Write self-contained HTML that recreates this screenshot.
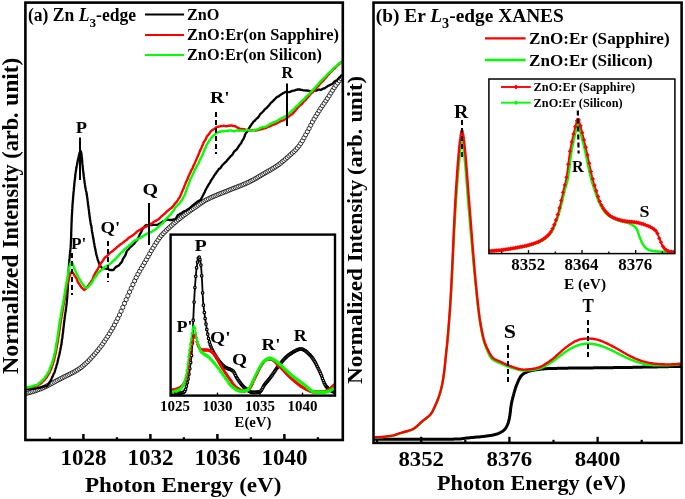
<!DOCTYPE html>
<html><head><meta charset="utf-8"><title>XANES</title>
<style>html,body{margin:0;padding:0;background:#fff}svg{display:block}text{font-family:"Liberation Serif",serif;font-weight:bold;fill:#000}</style>
</head><body>
<svg width="685" height="499" viewBox="0 0 685 499">
<rect x="0" y="0" width="685" height="499" fill="#fff"/>
<clipPath id="cpa"><rect x="25.4" y="2.6" width="317.4" height="437.4"/></clipPath>
<g clip-path="url(#cpa)">
<g fill="#fff" stroke="#000" stroke-width="0.8">
<circle cx="25.5" cy="393.5" r="2.1"/>
<circle cx="27.2" cy="393.1" r="2.1"/>
<circle cx="28.9" cy="392.6" r="2.1"/>
<circle cx="30.5" cy="392.2" r="2.1"/>
<circle cx="32.2" cy="391.7" r="2.1"/>
<circle cx="33.9" cy="391.1" r="2.1"/>
<circle cx="35.6" cy="390.6" r="2.1"/>
<circle cx="37.2" cy="390.0" r="2.1"/>
<circle cx="38.9" cy="389.4" r="2.1"/>
<circle cx="40.6" cy="388.8" r="2.1"/>
<circle cx="42.3" cy="388.1" r="2.1"/>
<circle cx="44.0" cy="387.4" r="2.1"/>
<circle cx="45.6" cy="386.6" r="2.1"/>
<circle cx="47.3" cy="385.7" r="2.1"/>
<circle cx="49.0" cy="384.9" r="2.1"/>
<circle cx="50.7" cy="384.0" r="2.1"/>
<circle cx="52.3" cy="383.1" r="2.1"/>
<circle cx="54.0" cy="382.2" r="2.1"/>
<circle cx="55.7" cy="381.3" r="2.1"/>
<circle cx="57.4" cy="380.4" r="2.1"/>
<circle cx="59.1" cy="379.5" r="2.1"/>
<circle cx="60.7" cy="378.6" r="2.1"/>
<circle cx="62.4" cy="377.8" r="2.1"/>
<circle cx="64.1" cy="376.9" r="2.1"/>
<circle cx="65.8" cy="376.1" r="2.1"/>
<circle cx="67.5" cy="375.3" r="2.1"/>
<circle cx="69.1" cy="374.5" r="2.1"/>
<circle cx="70.8" cy="373.6" r="2.1"/>
<circle cx="72.5" cy="372.8" r="2.1"/>
<circle cx="74.2" cy="371.9" r="2.1"/>
<circle cx="75.8" cy="370.9" r="2.1"/>
<circle cx="77.5" cy="369.9" r="2.1"/>
<circle cx="79.2" cy="368.8" r="2.1"/>
<circle cx="80.9" cy="367.6" r="2.1"/>
<circle cx="82.6" cy="366.2" r="2.1"/>
<circle cx="84.2" cy="364.8" r="2.1"/>
<circle cx="85.9" cy="363.3" r="2.1"/>
<circle cx="87.6" cy="361.7" r="2.1"/>
<circle cx="89.3" cy="360.0" r="2.1"/>
<circle cx="90.9" cy="358.2" r="2.1"/>
<circle cx="92.6" cy="356.4" r="2.1"/>
<circle cx="94.3" cy="354.5" r="2.1"/>
<circle cx="96.0" cy="352.5" r="2.1"/>
<circle cx="97.7" cy="350.5" r="2.1"/>
<circle cx="99.3" cy="348.4" r="2.1"/>
<circle cx="101.0" cy="346.2" r="2.1"/>
<circle cx="102.7" cy="343.9" r="2.1"/>
<circle cx="104.4" cy="341.5" r="2.1"/>
<circle cx="106.0" cy="339.0" r="2.1"/>
<circle cx="107.7" cy="336.4" r="2.1"/>
<circle cx="109.4" cy="333.7" r="2.1"/>
<circle cx="111.1" cy="330.9" r="2.1"/>
<circle cx="112.8" cy="328.0" r="2.1"/>
<circle cx="114.4" cy="324.9" r="2.1"/>
<circle cx="116.1" cy="321.7" r="2.1"/>
<circle cx="117.8" cy="318.4" r="2.1"/>
<circle cx="119.5" cy="314.9" r="2.1"/>
<circle cx="121.1" cy="311.2" r="2.1"/>
<circle cx="122.8" cy="307.3" r="2.1"/>
<circle cx="124.5" cy="303.4" r="2.1"/>
<circle cx="126.2" cy="299.6" r="2.1"/>
<circle cx="127.9" cy="295.8" r="2.1"/>
<circle cx="129.5" cy="292.0" r="2.1"/>
<circle cx="131.2" cy="288.2" r="2.1"/>
<circle cx="132.9" cy="284.5" r="2.1"/>
<circle cx="134.6" cy="280.9" r="2.1"/>
<circle cx="136.2" cy="277.5" r="2.1"/>
<circle cx="137.9" cy="274.2" r="2.1"/>
<circle cx="139.6" cy="271.2" r="2.1"/>
<circle cx="141.3" cy="268.3" r="2.1"/>
<circle cx="143.0" cy="265.5" r="2.1"/>
<circle cx="144.6" cy="262.6" r="2.1"/>
<circle cx="146.3" cy="259.7" r="2.1"/>
<circle cx="148.0" cy="256.7" r="2.1"/>
<circle cx="149.7" cy="253.7" r="2.1"/>
<circle cx="151.4" cy="250.7" r="2.1"/>
<circle cx="153.0" cy="248.0" r="2.1"/>
<circle cx="154.7" cy="245.2" r="2.1"/>
<circle cx="156.4" cy="242.5" r="2.1"/>
<circle cx="158.1" cy="240.0" r="2.1"/>
<circle cx="159.7" cy="237.6" r="2.1"/>
<circle cx="161.4" cy="235.5" r="2.1"/>
<circle cx="163.1" cy="233.6" r="2.1"/>
<circle cx="164.8" cy="231.9" r="2.1"/>
<circle cx="166.5" cy="230.2" r="2.1"/>
<circle cx="168.1" cy="228.6" r="2.1"/>
<circle cx="169.8" cy="227.1" r="2.1"/>
<circle cx="171.5" cy="225.6" r="2.1"/>
<circle cx="173.2" cy="224.1" r="2.1"/>
<circle cx="174.8" cy="222.6" r="2.1"/>
<circle cx="176.5" cy="221.2" r="2.1"/>
<circle cx="178.2" cy="219.8" r="2.1"/>
<circle cx="179.9" cy="218.5" r="2.1"/>
<circle cx="181.6" cy="217.1" r="2.1"/>
<circle cx="183.2" cy="215.8" r="2.1"/>
<circle cx="184.9" cy="214.5" r="2.1"/>
<circle cx="186.6" cy="213.3" r="2.1"/>
<circle cx="188.3" cy="212.1" r="2.1"/>
<circle cx="189.9" cy="210.9" r="2.1"/>
<circle cx="191.6" cy="209.7" r="2.1"/>
<circle cx="193.3" cy="208.6" r="2.1"/>
<circle cx="195.0" cy="207.4" r="2.1"/>
<circle cx="196.7" cy="206.2" r="2.1"/>
<circle cx="198.3" cy="205.1" r="2.1"/>
<circle cx="200.0" cy="203.9" r="2.1"/>
<circle cx="201.7" cy="202.7" r="2.1"/>
<circle cx="203.4" cy="201.6" r="2.1"/>
<circle cx="205.0" cy="200.5" r="2.1"/>
<circle cx="206.7" cy="199.6" r="2.1"/>
<circle cx="208.4" cy="198.8" r="2.1"/>
<circle cx="210.1" cy="198.0" r="2.1"/>
<circle cx="211.8" cy="197.2" r="2.1"/>
<circle cx="213.4" cy="196.5" r="2.1"/>
<circle cx="215.1" cy="195.8" r="2.1"/>
<circle cx="216.8" cy="195.1" r="2.1"/>
<circle cx="218.5" cy="194.4" r="2.1"/>
<circle cx="220.1" cy="193.7" r="2.1"/>
<circle cx="221.8" cy="193.1" r="2.1"/>
<circle cx="223.5" cy="192.4" r="2.1"/>
<circle cx="225.2" cy="191.7" r="2.1"/>
<circle cx="226.9" cy="191.1" r="2.1"/>
<circle cx="228.5" cy="190.4" r="2.1"/>
<circle cx="230.2" cy="189.7" r="2.1"/>
<circle cx="231.9" cy="189.0" r="2.1"/>
<circle cx="233.6" cy="188.4" r="2.1"/>
<circle cx="235.3" cy="187.7" r="2.1"/>
<circle cx="236.9" cy="187.1" r="2.1"/>
<circle cx="238.6" cy="186.4" r="2.1"/>
<circle cx="240.3" cy="185.8" r="2.1"/>
<circle cx="242.0" cy="185.1" r="2.1"/>
<circle cx="243.6" cy="184.4" r="2.1"/>
<circle cx="245.3" cy="183.7" r="2.1"/>
<circle cx="247.0" cy="182.9" r="2.1"/>
<circle cx="248.7" cy="182.2" r="2.1"/>
<circle cx="250.4" cy="181.3" r="2.1"/>
<circle cx="252.0" cy="180.5" r="2.1"/>
<circle cx="253.7" cy="179.6" r="2.1"/>
<circle cx="255.4" cy="178.6" r="2.1"/>
<circle cx="257.1" cy="177.7" r="2.1"/>
<circle cx="258.7" cy="176.7" r="2.1"/>
<circle cx="260.4" cy="175.7" r="2.1"/>
<circle cx="262.1" cy="174.7" r="2.1"/>
<circle cx="263.8" cy="173.7" r="2.1"/>
<circle cx="265.5" cy="172.7" r="2.1"/>
<circle cx="267.1" cy="171.8" r="2.1"/>
<circle cx="268.8" cy="170.8" r="2.1"/>
<circle cx="270.5" cy="169.9" r="2.1"/>
<circle cx="272.2" cy="168.9" r="2.1"/>
<circle cx="273.8" cy="167.9" r="2.1"/>
<circle cx="275.5" cy="166.8" r="2.1"/>
<circle cx="277.2" cy="165.7" r="2.1"/>
<circle cx="278.9" cy="164.5" r="2.1"/>
<circle cx="280.6" cy="163.2" r="2.1"/>
<circle cx="282.2" cy="161.8" r="2.1"/>
<circle cx="283.9" cy="160.5" r="2.1"/>
<circle cx="285.6" cy="159.0" r="2.1"/>
<circle cx="287.3" cy="157.5" r="2.1"/>
<circle cx="288.9" cy="156.0" r="2.1"/>
<circle cx="290.6" cy="154.5" r="2.1"/>
<circle cx="292.3" cy="153.0" r="2.1"/>
<circle cx="294.0" cy="151.5" r="2.1"/>
<circle cx="295.7" cy="149.8" r="2.1"/>
<circle cx="297.3" cy="148.0" r="2.1"/>
<circle cx="299.0" cy="146.0" r="2.1"/>
<circle cx="300.7" cy="143.5" r="2.1"/>
<circle cx="302.4" cy="140.8" r="2.1"/>
<circle cx="304.0" cy="137.8" r="2.1"/>
<circle cx="305.7" cy="134.8" r="2.1"/>
<circle cx="307.4" cy="131.7" r="2.1"/>
<circle cx="309.1" cy="128.5" r="2.1"/>
<circle cx="310.8" cy="125.2" r="2.1"/>
<circle cx="312.4" cy="122.0" r="2.1"/>
<circle cx="314.1" cy="119.1" r="2.1"/>
<circle cx="315.8" cy="116.2" r="2.1"/>
<circle cx="317.5" cy="113.5" r="2.1"/>
<circle cx="319.2" cy="110.8" r="2.1"/>
<circle cx="320.8" cy="108.2" r="2.1"/>
<circle cx="322.5" cy="105.7" r="2.1"/>
<circle cx="324.2" cy="103.3" r="2.1"/>
<circle cx="325.9" cy="100.9" r="2.1"/>
<circle cx="327.5" cy="98.4" r="2.1"/>
<circle cx="329.2" cy="95.8" r="2.1"/>
<circle cx="330.9" cy="93.0" r="2.1"/>
<circle cx="332.6" cy="90.3" r="2.1"/>
<circle cx="334.3" cy="87.7" r="2.1"/>
<circle cx="335.9" cy="85.3" r="2.1"/>
<circle cx="337.6" cy="83.0" r="2.1"/>
<circle cx="339.3" cy="80.8" r="2.1"/>
<circle cx="341.0" cy="78.7" r="2.1"/>
<circle cx="342.6" cy="77.5" r="2.1"/>
</g>
<path d="M25.0 389.2 L26.2 389.1 L27.5 388.6 L28.7 388.8 L29.8 388.5 L31.0 388.9 L32.1 388.5 L33.2 388.9 L34.3 388.4 L35.3 388.7 L36.3 388.1 L37.3 388.0 L38.3 387.5 L39.2 387.9 L40.2 387.6 L41.0 387.4 L41.9 386.9 L42.8 386.8 L43.6 386.7 L44.4 386.5 L45.1 386.4 L45.9 386.2 L46.6 386.1 L47.3 385.6 L48.0 384.7 L48.7 383.8 L49.3 382.6 L49.9 381.7 L50.5 380.9 L51.0 379.9 L51.5 378.9 L51.9 377.8 L52.4 376.9 L52.8 376.0 L53.2 375.2 L53.5 374.2 L53.9 373.5 L54.3 372.8 L54.6 372.2 L54.9 371.2 L55.3 369.8 L55.6 368.5 L55.9 367.9 L56.2 367.1 L56.4 366.1 L56.7 364.9 L57.0 364.2 L57.2 363.4 L57.5 362.5 L57.7 361.2 L58.0 360.2 L58.2 358.9 L58.5 357.8 L58.7 356.9 L58.9 356.2 L59.1 355.4 L59.4 354.6 L59.6 353.6 L59.8 352.6 L60.0 351.3 L60.2 350.5 L60.4 349.5 L60.6 348.6 L60.8 347.4 L61.0 346.4 L61.1 345.6 L61.3 344.8 L61.5 344.2 L61.6 342.8 L61.8 341.3 L61.9 339.8 L62.1 339.1 L62.2 338.5 L62.4 337.7 L62.5 336.3 L62.6 335.1 L62.7 334.2 L62.9 333.6 L63.0 332.8 L63.1 331.6 L63.2 330.5 L63.3 329.4 L63.4 328.5 L63.5 327.6 L63.7 326.6 L63.8 325.4 L63.9 324.4 L64.0 323.5 L64.1 322.8 L64.2 321.9 L64.3 320.9 L64.5 319.7 L64.6 318.4 L64.7 317.4 L64.9 316.5 L65.0 315.5 L65.1 314.5 L65.3 313.4 L65.4 312.6 L65.6 311.5 L65.7 310.8 L65.9 309.8 L66.0 308.9 L66.1 307.6 L66.3 306.5 L66.4 305.6 L66.5 304.6 L66.6 303.5 L66.8 302.4 L66.9 301.3 L66.9 300.4 L67.0 299.6 L67.1 298.7 L67.2 297.7 L67.3 296.3 L67.3 295.5 L67.4 294.1 L67.4 293.5 L67.5 292.6 L67.6 291.9 L67.6 290.6 L67.7 289.7 L67.7 289.0 L67.8 287.8 L67.8 286.8 L67.9 285.8 L67.9 285.1 L68.0 283.7 L68.0 282.6 L68.1 281.5 L68.1 280.6 L68.1 279.3 L68.2 278.4 L68.2 277.6 L68.3 276.7 L68.3 275.7 L68.4 274.4 L68.4 273.6 L68.5 272.5 L68.5 271.7 L68.6 270.5 L68.6 269.7 L68.7 268.8 L68.8 267.9 L68.8 266.8 L68.9 265.7 L69.0 264.7 L69.0 263.7 L69.1 262.8 L69.2 261.7 L69.3 260.2 L69.4 259.3 L69.5 258.7 L69.6 258.2 L69.7 257.0 L69.8 255.6 L69.9 254.5 L70.0 253.6 L70.1 252.4 L70.2 251.3 L70.3 250.2 L70.4 249.4 L70.5 248.4 L70.6 247.7 L70.7 246.6 L70.7 245.8 L70.8 244.8 L70.8 244.2 L70.9 242.7 L70.9 241.5 L71.0 240.3 L71.0 240.1 L71.0 239.1 L71.1 238.0 L71.1 236.5 L71.2 235.8 L71.2 234.7 L71.2 233.9 L71.2 232.6 L71.3 231.4 L71.3 230.4 L71.3 229.5 L71.4 228.9 L71.4 227.9 L71.4 226.7 L71.5 225.5 L71.5 224.6 L71.5 223.7 L71.6 222.6 L71.6 221.8 L71.7 220.8 L71.7 220.1 L71.7 219.1 L71.8 218.2 L71.8 216.6 L71.9 215.5 L72.0 214.5 L72.0 213.9 L72.1 212.9 L72.1 211.8 L72.2 210.8 L72.2 209.5 L72.3 208.9 L72.4 207.6 L72.4 206.4 L72.5 204.8 L72.6 203.8 L72.7 202.9 L72.7 202.5 L72.8 201.6 L72.9 200.6 L73.0 199.5 L73.0 198.4 L73.1 197.4 L73.2 196.4 L73.3 195.6 L73.4 194.7 L73.4 193.8 L73.5 192.7 L73.6 192.1 L73.7 190.9 L73.8 190.2 L73.9 188.9 L74.0 187.6 L74.1 186.8 L74.2 185.7 L74.3 184.8 L74.4 183.3 L74.5 182.4 L74.6 181.5 L74.7 180.6 L74.8 179.8 L74.9 179.0 L75.1 178.0 L75.2 176.7 L75.3 175.2 L75.4 174.1 L75.6 173.0 L75.7 172.4 L75.8 171.4 L76.0 170.6 L76.1 169.5 L76.3 168.4 L76.5 167.3 L76.6 166.4 L76.8 165.8 L77.0 164.9 L77.2 164.1 L77.4 162.8 L77.6 161.8 L77.8 160.5 L78.0 159.2 L78.2 158.6 L78.4 157.7 L78.6 157.0 L78.8 156.1 L79.0 155.1 L79.2 154.4 L79.5 153.0 L79.9 151.8 L80.3 150.7 L80.8 151.4 L81.2 152.5 L81.4 153.7 L81.6 154.8 L81.7 155.9 L81.8 156.9 L81.9 157.7 L82.0 158.5 L82.1 159.7 L82.2 160.9 L82.2 162.1 L82.3 163.2 L82.4 163.8 L82.5 164.5 L82.6 165.1 L82.7 166.5 L82.8 167.6 L82.9 169.0 L83.0 169.7 L83.1 170.7 L83.2 171.4 L83.4 172.7 L83.5 173.8 L83.6 174.8 L83.7 175.7 L83.8 176.7 L84.0 177.5 L84.1 178.5 L84.2 179.4 L84.4 180.6 L84.5 181.6 L84.6 182.5 L84.8 183.5 L84.9 184.4 L85.1 185.6 L85.2 186.7 L85.4 187.6 L85.6 188.6 L85.8 189.8 L86.0 190.7 L86.2 191.4 L86.4 191.9 L86.6 193.1 L86.7 194.5 L86.9 195.6 L87.1 196.6 L87.2 197.4 L87.4 198.3 L87.5 199.6 L87.6 200.5 L87.8 201.8 L87.9 202.5 L88.0 204.0 L88.1 204.9 L88.3 206.1 L88.4 206.6 L88.5 207.3 L88.6 208.1 L88.7 209.0 L88.9 210.0 L89.0 211.2 L89.1 212.1 L89.2 213.3 L89.4 214.4 L89.5 215.4 L89.6 216.5 L89.8 217.3 L89.9 218.6 L90.1 219.5 L90.2 220.7 L90.4 221.3 L90.5 222.2 L90.7 223.3 L90.8 224.3 L91.0 225.0 L91.2 225.4 L91.3 226.1 L91.5 227.1 L91.7 228.3 L91.8 229.9 L92.0 231.2 L92.2 232.3 L92.3 233.1 L92.5 234.1 L92.7 235.0 L92.9 236.0 L93.0 237.1 L93.2 237.9 L93.4 239.1 L93.6 240.1 L93.8 241.3 L93.9 242.3 L94.1 243.0 L94.3 243.9 L94.5 244.8 L94.6 245.9 L94.8 246.9 L95.0 247.7 L95.2 248.6 L95.4 249.9 L95.6 250.6 L95.8 251.8 L96.0 252.5 L96.2 254.0 L96.4 255.0 L96.7 255.5 L96.9 256.5 L97.2 257.4 L97.5 258.8 L97.8 259.6 L98.1 260.6 L98.5 261.5 L98.9 262.8 L99.2 263.7 L99.6 265.0 L100.0 265.6 L100.4 266.2 L101.0 266.7 L101.7 267.5 L102.6 268.3 L103.6 268.3 L104.6 268.3 L105.6 268.5 L106.7 268.8 L107.6 269.0 L108.5 269.2 L109.3 269.9 L110.1 270.2 L111.1 269.9 L112.1 270.2 L113.1 270.0 L113.8 269.7 L114.5 268.4 L115.2 267.9 L116.0 266.8 L116.8 266.6 L117.6 265.8 L118.5 265.9 L119.2 264.9 L119.9 264.2 L120.5 263.2 L121.1 262.9 L121.6 262.0 L122.2 261.1 L122.6 259.7 L123.1 258.7 L123.6 257.8 L124.0 257.5 L124.5 256.6 L124.9 256.0 L125.4 255.2 L125.8 254.3 L126.3 252.6 L126.8 251.2 L127.3 250.2 L127.9 249.9 L128.5 249.5 L129.1 248.5 L129.8 247.5 L130.5 247.0 L131.2 246.6 L131.9 245.8 L132.6 245.1 L133.3 244.5 L134.1 243.8 L134.8 242.8 L135.4 242.1 L136.1 241.3 L136.6 240.7 L137.2 240.0 L137.7 239.4 L138.1 238.3 L138.5 237.3 L139.0 236.3 L139.4 235.4 L139.8 234.5 L140.2 233.7 L140.7 233.1 L141.2 232.1 L141.8 230.8 L142.4 229.3 L143.0 228.4 L143.6 227.7 L144.3 227.0 L144.9 225.9 L145.7 225.5 L146.4 225.0 L147.2 225.3 L148.1 225.1 L149.0 225.3 L150.0 225.2 L151.0 225.2 L152.1 225.2 L153.2 224.9 L154.3 224.9 L155.3 224.8 L156.3 224.9 L157.2 224.9 L158.1 224.5 L159.0 223.9 L159.8 223.6 L160.7 223.0 L161.5 222.6 L162.4 221.8 L163.3 221.3 L164.2 221.0 L165.1 220.6 L166.0 220.1 L166.9 219.8 L167.9 219.6 L168.9 219.8 L170.0 220.0 L171.1 220.0 L172.1 220.1 L173.1 219.5 L173.9 219.4 L174.7 219.3 L175.4 219.0 L176.0 218.5 L176.6 217.3 L177.1 216.3 L177.7 215.3 L178.4 214.8 L179.1 214.4 L179.9 213.9 L180.7 213.5 L181.6 213.1 L182.5 212.3 L183.5 211.6 L184.4 211.2 L185.4 210.8 L186.3 210.5 L187.2 209.7 L188.1 209.2 L189.0 208.7 L189.8 208.0 L190.6 207.4 L191.3 206.6 L192.1 206.0 L192.8 205.5 L193.5 204.7 L194.3 204.2 L195.0 203.5 L195.7 203.0 L196.5 202.3 L197.3 201.7 L198.2 201.1 L199.1 200.7 L199.9 200.4 L200.5 199.9 L201.1 199.1 L201.6 197.8 L202.1 197.1 L202.6 196.1 L203.1 195.2 L203.5 194.3 L203.9 193.5 L204.3 192.8 L204.8 192.0 L205.2 190.9 L205.6 189.8 L206.1 189.0 L206.5 188.3 L207.0 187.5 L207.5 186.6 L208.1 185.5 L208.6 184.6 L209.1 183.8 L209.6 183.3 L210.2 182.2 L210.7 181.1 L211.3 180.0 L211.8 179.3 L212.4 178.4 L213.0 177.6 L213.5 176.8 L214.1 175.7 L214.7 174.9 L215.3 174.0 L215.9 173.4 L216.4 172.3 L217.0 171.7 L217.7 170.7 L218.3 169.9 L218.9 168.9 L219.5 168.7 L220.2 168.4 L220.8 167.5 L221.5 166.5 L222.2 165.3 L222.8 164.9 L223.5 164.0 L224.2 163.4 L224.8 162.7 L225.5 162.1 L226.2 161.7 L226.8 160.6 L227.5 159.9 L228.2 159.1 L228.8 158.4 L229.4 157.8 L230.1 157.0 L230.7 156.0 L231.4 155.7 L232.0 154.9 L232.7 154.4 L233.4 152.8 L234.0 151.9 L234.7 151.0 L235.3 150.6 L236.0 149.9 L236.6 149.5 L237.2 148.6 L237.8 147.9 L238.4 146.8 L239.0 146.0 L239.6 145.0 L240.2 144.3 L240.7 143.7 L241.3 142.8 L241.8 141.6 L242.3 140.5 L242.8 140.0 L243.2 139.3 L243.7 138.7 L244.1 137.4 L244.6 136.5 L245.0 134.9 L245.4 134.0 L245.9 133.0 L246.3 132.6 L246.8 132.1 L247.3 131.3 L247.7 130.6 L248.2 129.6 L248.8 128.9 L249.3 127.7 L249.9 127.0 L250.5 125.9 L251.1 125.3 L251.7 124.1 L252.3 123.4 L253.0 122.3 L253.6 121.6 L254.3 121.0 L255.0 120.5 L255.6 119.6 L256.3 119.0 L257.0 118.3 L257.7 118.0 L258.3 117.1 L259.0 116.2 L259.7 115.0 L260.3 113.9 L261.0 113.5 L261.7 112.9 L262.3 112.4 L263.0 111.4 L263.7 110.9 L264.4 109.7 L265.1 109.3 L265.7 108.5 L266.4 108.2 L267.1 107.3 L267.8 106.7 L268.5 105.8 L269.2 105.2 L269.9 104.1 L270.6 103.2 L271.3 102.5 L272.0 102.0 L272.7 101.4 L273.4 100.6 L274.1 99.9 L274.8 99.1 L275.5 98.5 L276.2 97.7 L277.0 97.1 L277.8 96.6 L278.7 96.3 L279.5 95.6 L280.4 95.1 L281.3 94.2 L282.2 94.0 L283.1 93.1 L284.0 92.7 L284.9 92.1 L285.9 92.0 L286.8 92.2 L287.7 92.2 L288.7 92.2 L289.7 92.0 L290.6 91.6 L291.6 91.1 L292.6 90.8 L293.6 90.7 L294.6 90.6 L295.6 90.0 L296.7 89.9 L297.7 89.4 L298.7 89.5 L299.7 89.3 L300.7 89.9 L301.7 89.9 L302.7 90.2 L303.7 90.4 L304.7 90.4 L305.7 90.7 L306.7 90.3 L307.7 90.6 L308.7 90.7 L309.6 91.2 L310.6 91.1 L311.6 91.0 L312.7 90.8 L313.7 90.9 L314.7 90.7 L315.7 90.6 L316.7 90.5 L317.7 90.1 L318.6 89.6 L319.6 89.7 L320.5 90.0 L321.5 89.7 L322.4 89.0 L323.4 88.5 L324.3 88.4 L325.2 87.9 L326.1 87.2 L327.0 86.6 L327.9 85.9 L328.8 85.6 L329.7 85.1 L330.5 84.7 L331.3 84.3 L332.2 84.0 L333.0 83.2 L333.8 82.3 L334.6 81.4 L335.3 81.1 L336.1 80.6 L336.9 80.3 L337.6 79.3 L338.4 78.6 L339.1 77.5 L339.9 77.1 L340.6 76.4 L341.3 75.6 L342.0 74.7" fill="none" stroke="#000" stroke-width="2.3" stroke-linejoin="round" />
<path d="M25.0 387.9 L26.1 387.6 L27.1 387.8 L28.2 387.5 L29.2 387.5 L30.2 387.2 L31.2 387.1 L32.2 386.8 L33.1 386.4 L34.1 386.4 L35.0 386.6 L35.9 386.4 L36.7 385.9 L37.6 385.3 L38.5 384.7 L39.4 384.4 L40.2 383.9 L41.1 383.2 L41.9 382.6 L42.7 381.6 L43.5 380.9 L44.3 380.2 L45.0 379.4 L45.6 378.6 L46.3 377.8 L46.8 377.1 L47.3 376.2 L47.8 375.3 L48.3 374.5 L48.8 373.8 L49.2 373.4 L49.7 372.2 L50.1 371.3 L50.5 370.1 L50.9 369.7 L51.3 368.8 L51.6 367.6 L52.0 366.5 L52.3 365.5 L52.7 364.6 L53.0 363.7 L53.3 362.4 L53.6 361.7 L53.8 360.8 L54.1 360.1 L54.3 359.0 L54.6 357.8 L54.8 356.8 L55.0 355.7 L55.3 354.9 L55.5 354.0 L55.7 352.9 L55.9 351.8 L56.1 350.9 L56.3 350.1 L56.4 349.1 L56.6 348.1 L56.8 347.0 L57.0 345.8 L57.2 344.7 L57.3 343.6 L57.5 342.9 L57.7 342.0 L57.8 340.8 L58.0 339.8 L58.2 338.7 L58.3 337.8 L58.5 336.8 L58.6 336.0 L58.8 335.1 L58.9 334.2 L59.1 333.0 L59.2 332.2 L59.4 330.9 L59.5 330.2 L59.7 328.8 L59.8 328.0 L59.9 326.8 L60.1 325.9 L60.2 324.9 L60.4 323.8 L60.5 323.2 L60.7 322.4 L60.8 321.4 L61.0 320.1 L61.1 319.1 L61.3 318.4 L61.5 317.5 L61.6 316.4 L61.8 315.3 L62.0 314.4 L62.1 313.4 L62.3 312.6 L62.5 311.3 L62.6 310.4 L62.8 309.3 L63.0 308.5 L63.2 307.5 L63.3 306.2 L63.5 305.3 L63.7 304.3 L63.9 303.4 L64.1 302.3 L64.2 301.3 L64.4 300.8 L64.6 300.0 L64.8 299.1 L65.0 297.7 L65.1 296.3 L65.3 295.3 L65.5 294.3 L65.6 293.2 L65.8 292.2 L66.0 291.3 L66.1 290.3 L66.3 289.3 L66.5 288.2 L66.7 287.7 L66.9 286.6 L67.1 285.6 L67.3 284.3 L67.6 283.5 L67.8 282.8 L68.1 281.8 L68.4 281.0 L68.7 279.9 L69.0 278.4 L69.3 277.1 L69.7 275.6 L70.1 274.6 L70.5 273.4 L70.9 272.7 L71.4 272.2 L71.8 271.9 L72.3 272.3 L72.8 272.4 L73.3 273.3 L73.9 274.2 L74.5 275.5 L75.1 276.3 L75.7 277.2 L76.2 277.9 L76.7 278.7 L77.2 280.0 L77.6 281.2 L78.1 282.6 L78.6 283.0 L79.1 283.9 L79.6 284.6 L80.2 285.5 L80.8 286.4 L81.4 287.3 L82.1 287.9 L82.8 288.7 L83.5 289.3 L84.2 289.9 L84.9 289.4 L85.7 289.0 L86.5 288.0 L87.2 286.9 L87.9 286.0 L88.5 285.2 L89.1 284.5 L89.7 283.5 L90.2 282.9 L90.7 282.2 L91.2 281.4 L91.7 280.9 L92.1 280.1 L92.6 279.4 L93.1 277.6 L93.5 276.7 L94.0 275.6 L94.4 275.0 L94.9 273.9 L95.4 272.9 L95.9 272.1 L96.4 271.3 L96.9 270.5 L97.4 269.8 L97.9 269.1 L98.4 267.9 L98.9 267.0 L99.4 266.1 L99.9 265.4 L100.4 264.3 L100.9 263.2 L101.5 262.4 L102.0 261.8 L102.6 261.2 L103.1 260.4 L103.7 259.4 L104.3 258.4 L105.0 257.4 L105.6 257.1 L106.3 256.5 L107.0 256.1 L107.7 255.3 L108.5 254.5 L109.2 253.6 L110.0 252.8 L110.8 252.1 L111.5 251.8 L112.3 251.4 L113.1 250.6 L113.9 249.9 L114.7 249.2 L115.5 248.6 L116.3 247.9 L117.1 246.9 L117.9 246.4 L118.7 245.8 L119.5 245.2 L120.3 244.5 L121.1 243.9 L121.8 243.4 L122.6 242.9 L123.4 242.3 L124.2 241.6 L125.0 240.9 L125.7 240.5 L126.5 240.0 L127.3 239.3 L128.1 238.4 L128.9 237.6 L129.7 237.3 L130.5 236.7 L131.3 236.4 L132.1 235.8 L132.9 235.2 L133.7 234.6 L134.5 233.9 L135.4 233.2 L136.2 232.4 L137.0 231.7 L137.8 230.9 L138.7 230.7 L139.5 230.0 L140.4 229.9 L141.2 228.9 L142.1 228.4 L143.0 227.9 L143.9 227.5 L144.7 227.3 L145.6 226.9 L146.5 226.3 L147.4 225.9 L148.3 225.4 L149.1 225.0 L150.0 224.4 L150.9 223.9 L151.8 223.4 L152.6 223.0 L153.5 222.0 L154.3 221.5 L155.1 221.0 L156.0 220.8 L156.8 220.2 L157.6 219.8 L158.4 219.3 L159.2 218.7 L160.0 217.8 L160.8 217.0 L161.6 216.2 L162.4 215.6 L163.2 215.0 L163.9 214.3 L164.7 213.8 L165.4 212.9 L166.2 212.2 L166.9 211.4 L167.7 210.8 L168.4 210.3 L169.1 209.6 L169.8 209.0 L170.6 208.5 L171.3 208.1 L172.0 207.5 L172.7 206.6 L173.4 205.9 L174.1 204.8 L174.8 203.8 L175.5 202.9 L176.1 202.3 L176.7 201.8 L177.3 201.0 L177.9 200.0 L178.4 199.0 L178.9 198.3 L179.4 197.8 L179.8 197.0 L180.3 196.2 L180.7 195.1 L181.1 194.2 L181.5 193.1 L181.9 192.1 L182.3 191.2 L182.7 190.2 L183.1 189.4 L183.5 188.6 L183.9 187.8 L184.2 186.7 L184.6 185.6 L185.0 184.6 L185.4 183.8 L185.8 182.8 L186.1 181.9 L186.5 181.1 L186.9 180.2 L187.4 179.3 L187.8 178.1 L188.2 177.0 L188.6 176.1 L189.0 175.3 L189.4 174.5 L189.9 173.4 L190.3 172.6 L190.7 171.8 L191.1 170.7 L191.5 169.9 L191.9 169.3 L192.4 168.6 L192.8 167.5 L193.2 166.3 L193.6 165.4 L194.0 164.9 L194.4 164.0 L194.8 162.9 L195.3 162.0 L195.7 161.1 L196.1 160.1 L196.5 159.1 L196.9 158.0 L197.3 157.5 L197.7 156.4 L198.1 155.6 L198.5 154.6 L198.9 153.8 L199.3 152.7 L199.6 151.7 L200.0 150.7 L200.4 149.9 L200.8 149.0 L201.2 148.3 L201.6 147.3 L202.0 146.5 L202.4 145.6 L202.8 144.6 L203.2 143.7 L203.6 142.5 L204.1 141.6 L204.6 140.9 L205.1 140.2 L205.6 139.5 L206.1 138.2 L206.6 137.1 L207.2 136.1 L207.8 135.2 L208.3 134.9 L209.0 134.1 L209.6 133.3 L210.2 132.2 L210.9 131.2 L211.6 130.7 L212.3 130.1 L213.0 129.7 L213.8 129.3 L214.6 128.8 L215.5 128.0 L216.5 127.3 L217.4 126.9 L218.4 126.8 L219.3 126.4 L220.3 126.3 L221.3 126.1 L222.3 126.0 L223.2 125.8 L224.2 125.8 L225.3 126.1 L226.3 126.2 L227.3 126.1 L228.3 125.8 L229.3 125.7 L230.3 125.5 L231.3 125.5 L232.3 125.8 L233.3 126.0 L234.2 126.1 L235.2 126.2 L236.1 126.8 L237.1 127.4 L238.1 127.9 L239.0 128.3 L240.0 128.8 L240.9 129.0 L241.9 129.0 L242.9 129.1 L243.9 129.2 L244.8 129.5 L245.8 129.6 L246.8 130.1 L247.8 130.2 L248.8 130.5 L249.8 130.5 L250.8 130.3 L251.8 130.3 L252.7 130.1 L253.7 130.4 L254.7 130.4 L255.7 130.6 L256.7 130.2 L257.7 130.2 L258.7 129.7 L259.7 129.7 L260.7 129.4 L261.7 129.3 L262.7 128.9 L263.6 128.5 L264.6 128.2 L265.5 128.1 L266.5 127.8 L267.4 127.3 L268.3 126.7 L269.3 126.6 L270.2 126.2 L271.1 125.8 L272.0 125.2 L272.9 124.9 L273.8 124.6 L274.7 124.2 L275.7 123.9 L276.6 123.4 L277.5 122.9 L278.4 122.5 L279.3 122.0 L280.3 121.3 L281.2 120.7 L282.1 120.7 L283.0 120.4 L283.9 120.1 L284.8 119.5 L285.6 118.9 L286.5 118.4 L287.3 117.7 L288.1 117.0 L288.9 116.3 L289.6 115.6 L290.4 115.2 L291.2 114.6 L291.9 114.4 L292.6 113.7 L293.3 112.9 L294.1 111.9 L294.8 111.3 L295.5 110.6 L296.2 109.6 L296.9 108.7 L297.6 108.0 L298.3 107.2 L299.0 106.6 L299.7 105.7 L300.4 105.3 L301.1 104.5 L301.8 104.2 L302.5 103.2 L303.2 102.5 L303.8 101.4 L304.5 100.8 L305.2 100.4 L305.9 99.7 L306.5 98.9 L307.2 98.0 L307.9 97.3 L308.6 96.5 L309.2 95.9 L309.9 94.9 L310.6 93.9 L311.3 93.1 L312.0 92.6 L312.7 92.3 L313.3 91.3 L314.0 90.4 L314.7 89.8 L315.4 89.1 L316.1 88.6 L316.8 87.5 L317.4 86.9 L318.1 85.9 L318.8 85.4 L319.5 84.5 L320.1 83.8 L320.8 82.8 L321.5 82.4 L322.1 81.9 L322.8 81.3 L323.5 80.4 L324.1 79.6 L324.8 78.8 L325.4 78.3 L326.1 77.5 L326.8 76.5 L327.4 75.7 L328.1 75.0 L328.8 74.3 L329.5 73.4 L330.2 72.5 L330.9 72.2 L331.6 71.5 L332.3 70.7 L333.0 69.7 L333.7 69.0 L334.5 68.7 L335.2 68.0 L335.9 67.2 L336.7 66.3 L337.4 65.5 L338.2 65.0 L338.9 64.3 L339.7 63.5 L340.5 63.0 L341.2 62.3 L342.0 61.9" fill="none" stroke="#ff0000" stroke-width="2.4" stroke-linejoin="round" />
<path d="M25.0 387.9 L26.1 387.9 L27.1 387.3 L28.2 387.0 L29.2 386.8 L30.2 386.8 L31.2 386.5 L32.1 386.3 L33.1 385.9 L34.0 385.5 L34.9 385.3 L35.8 385.2 L36.6 385.2 L37.5 384.7 L38.3 384.0 L39.1 383.1 L40.0 382.3 L40.8 381.8 L41.5 381.0 L42.3 380.3 L43.0 379.4 L43.7 378.9 L44.4 378.3 L45.0 377.4 L45.6 376.3 L46.2 375.6 L46.7 374.9 L47.2 374.1 L47.7 373.1 L48.1 372.4 L48.6 371.9 L49.1 370.8 L49.5 369.7 L49.9 368.4 L50.3 367.3 L50.7 366.3 L51.1 365.3 L51.4 364.8 L51.8 364.0 L52.1 362.9 L52.4 361.9 L52.7 360.9 L53.0 359.9 L53.2 358.8 L53.5 357.8 L53.7 357.0 L54.0 356.1 L54.2 354.9 L54.4 354.0 L54.6 353.1 L54.8 352.6 L55.0 351.8 L55.2 350.8 L55.4 349.9 L55.6 348.6 L55.7 347.6 L55.9 346.1 L56.1 345.2 L56.2 343.8 L56.4 343.2 L56.6 342.5 L56.8 341.7 L56.9 340.8 L57.1 339.6 L57.3 338.7 L57.4 337.4 L57.6 336.4 L57.7 335.5 L57.9 334.7 L58.0 333.7 L58.2 332.8 L58.3 331.5 L58.4 330.9 L58.6 329.8 L58.7 329.0 L58.9 327.8 L59.0 326.8 L59.1 325.5 L59.3 324.6 L59.4 323.4 L59.6 322.6 L59.7 321.6 L59.9 320.6 L60.1 319.6 L60.2 318.7 L60.4 317.8 L60.6 316.7 L60.7 315.2 L60.9 314.1 L61.1 313.1 L61.3 312.5 L61.4 311.5 L61.6 310.6 L61.8 309.6 L62.0 308.7 L62.2 307.8 L62.4 306.8 L62.5 305.8 L62.7 305.0 L62.9 304.2 L63.1 303.1 L63.3 301.8 L63.4 300.8 L63.6 300.1 L63.8 299.2 L64.0 298.1 L64.1 296.8 L64.3 295.9 L64.4 295.0 L64.6 294.0 L64.8 292.9 L64.9 291.8 L65.1 291.0 L65.2 290.0 L65.4 289.1 L65.5 288.1 L65.7 287.3 L65.9 286.1 L66.0 285.2 L66.2 284.1 L66.4 283.2 L66.6 282.0 L66.8 280.9 L67.0 279.8 L67.2 279.0 L67.4 278.1 L67.6 276.9 L67.8 275.6 L68.0 274.2 L68.2 272.9 L68.5 271.9 L68.7 270.8 L68.9 269.5 L69.2 268.1 L69.4 266.8 L69.7 265.8 L70.0 264.8 L70.2 264.0 L70.5 263.1 L70.8 262.3 L71.1 262.0 L71.4 262.0 L71.7 262.2 L72.0 262.4 L72.4 263.2 L72.8 264.0 L73.2 265.1 L73.6 266.3 L74.0 267.6 L74.4 268.7 L74.9 269.8 L75.3 270.5 L75.7 271.5 L76.1 272.3 L76.5 273.4 L76.9 274.2 L77.4 275.1 L77.8 276.0 L78.3 277.1 L78.7 277.9 L79.2 278.8 L79.7 279.4 L80.3 280.2 L80.8 281.5 L81.5 282.5 L82.1 283.5 L82.8 284.3 L83.5 285.1 L84.2 286.2 L84.9 286.9 L85.6 287.5 L86.3 287.8 L86.9 287.8 L87.6 287.7 L88.2 287.1 L88.9 286.3 L89.5 285.4 L90.2 284.7 L90.8 284.0 L91.4 283.2 L92.1 282.3 L92.7 281.4 L93.3 280.3 L93.8 279.1 L94.4 278.2 L95.0 277.2 L95.5 276.7 L96.1 276.1 L96.6 275.3 L97.2 274.3 L97.8 273.2 L98.4 272.5 L99.0 271.9 L99.7 271.4 L100.4 270.6 L101.1 270.2 L101.8 269.7 L102.6 269.1 L103.4 268.2 L104.2 267.4 L105.1 266.9 L105.9 266.4 L106.7 265.9 L107.6 265.4 L108.4 265.0 L109.3 264.5 L110.1 263.8 L110.9 263.1 L111.7 262.3 L112.4 261.6 L113.2 261.1 L113.9 260.4 L114.6 260.0 L115.3 259.0 L116.0 258.4 L116.7 257.6 L117.4 256.9 L118.1 256.2 L118.8 255.3 L119.5 254.5 L120.2 253.7 L120.9 252.9 L121.6 252.5 L122.3 251.7 L123.0 251.4 L123.7 250.1 L124.5 249.4 L125.2 248.6 L125.9 248.2 L126.7 247.7 L127.4 247.0 L128.2 246.3 L128.9 245.5 L129.6 245.1 L130.4 244.5 L131.2 243.9 L131.9 242.8 L132.7 242.1 L133.5 241.3 L134.3 240.7 L135.1 240.4 L135.9 240.2 L136.7 239.7 L137.5 239.0 L138.4 238.7 L139.3 238.2 L140.2 237.9 L141.1 237.4 L142.0 236.9 L142.9 236.4 L143.9 235.5 L144.8 235.0 L145.6 234.3 L146.5 234.0 L147.4 233.6 L148.3 233.0 L149.2 232.6 L150.1 232.5 L151.0 232.2 L151.9 231.7 L152.7 231.1 L153.6 230.4 L154.5 230.0 L155.3 229.4 L156.1 229.0 L156.9 228.2 L157.7 227.6 L158.4 226.8 L159.2 226.2 L159.9 225.5 L160.6 224.7 L161.3 224.4 L162.1 223.6 L162.8 223.0 L163.4 222.1 L164.1 221.4 L164.8 220.3 L165.5 219.6 L166.2 218.6 L166.8 218.1 L167.5 217.4 L168.2 216.8 L168.8 215.9 L169.5 215.4 L170.1 214.9 L170.8 214.2 L171.4 213.1 L172.0 212.1 L172.7 211.5 L173.3 211.0 L173.9 210.0 L174.6 209.0 L175.2 207.8 L175.8 207.0 L176.5 206.1 L177.1 205.5 L177.8 204.8 L178.5 204.4 L179.1 203.8 L179.8 203.0 L180.5 201.9 L181.1 200.9 L181.7 200.5 L182.2 199.7 L182.7 198.7 L183.1 197.7 L183.6 196.9 L184.0 196.2 L184.4 195.5 L184.8 194.6 L185.2 193.8 L185.5 192.5 L185.9 191.5 L186.2 190.5 L186.6 189.4 L186.9 188.5 L187.3 187.3 L187.6 186.6 L188.0 185.4 L188.3 185.0 L188.6 184.1 L189.0 183.4 L189.3 182.3 L189.7 181.2 L190.1 179.8 L190.5 178.7 L190.9 178.1 L191.3 177.5 L191.7 176.7 L192.1 175.8 L192.6 174.7 L193.0 173.7 L193.4 173.0 L193.9 172.2 L194.3 171.0 L194.8 169.8 L195.2 168.9 L195.7 168.4 L196.2 167.4 L196.6 166.6 L197.1 165.3 L197.6 164.7 L198.0 164.0 L198.5 163.6 L198.9 162.3 L199.4 161.3 L199.8 159.8 L200.3 159.2 L200.7 158.2 L201.2 157.6 L201.6 156.7 L202.0 155.8 L202.4 155.1 L202.8 154.1 L203.2 153.2 L203.6 151.9 L204.0 150.7 L204.4 149.7 L204.7 149.1 L205.1 148.3 L205.6 147.6 L206.0 146.5 L206.4 145.6 L206.8 144.6 L207.3 143.8 L207.8 143.0 L208.3 142.1 L208.8 141.5 L209.3 140.6 L209.9 140.0 L210.5 138.9 L211.2 138.3 L211.9 137.2 L212.6 136.4 L213.3 135.4 L214.1 134.9 L214.8 134.4 L215.6 133.7 L216.5 133.1 L217.3 132.4 L218.2 132.3 L219.1 132.0 L220.0 131.9 L221.0 131.4 L222.0 131.3 L223.1 131.1 L224.1 131.2 L225.1 131.1 L226.2 131.0 L227.2 130.8 L228.2 130.8 L229.1 130.5 L230.1 130.4 L231.1 130.4 L232.1 130.8 L233.1 131.1 L234.2 131.2 L235.2 131.0 L236.2 130.6 L237.2 130.4 L238.2 130.5 L239.2 130.8 L240.2 130.6 L241.2 130.5 L242.2 130.4 L243.2 130.8 L244.2 130.8 L245.2 130.6 L246.2 130.2 L247.2 130.1 L248.2 130.1 L249.2 130.3 L250.2 130.4 L251.2 130.6 L252.2 130.6 L253.2 130.3 L254.2 130.1 L255.2 129.7 L256.1 129.6 L257.1 129.4 L258.1 129.2 L259.1 128.6 L260.0 128.1 L261.0 127.7 L261.9 127.4 L262.9 127.0 L263.8 126.9 L264.8 127.0 L265.7 126.6 L266.6 126.3 L267.5 125.8 L268.4 125.2 L269.3 124.6 L270.2 124.0 L271.1 123.7 L272.0 123.0 L272.8 122.5 L273.7 122.1 L274.6 122.0 L275.5 121.8 L276.4 121.2 L277.3 120.8 L278.2 120.2 L279.1 119.6 L280.0 119.0 L280.9 118.4 L281.8 118.2 L282.7 117.6 L283.6 117.3 L284.4 116.8 L285.3 116.3 L286.1 115.7 L286.9 115.2 L287.7 114.6 L288.5 114.0 L289.3 113.3 L290.1 112.7 L290.8 111.8 L291.6 111.0 L292.3 110.3 L293.0 109.9 L293.8 109.3 L294.5 108.6 L295.2 107.5 L295.9 106.8 L296.6 106.3 L297.3 105.9 L298.1 105.2 L298.8 104.2 L299.5 103.3 L300.2 102.6 L300.9 101.8 L301.6 101.1 L302.4 100.5 L303.1 100.0 L303.8 99.5 L304.5 98.7 L305.2 97.8 L305.9 97.0 L306.6 96.2 L307.3 95.7 L308.0 95.1 L308.7 94.6 L309.4 93.7 L310.1 92.7 L310.8 92.0 L311.5 91.5 L312.2 90.8 L312.8 89.9 L313.5 89.2 L314.2 88.5 L314.8 87.9 L315.5 87.0 L316.2 86.2 L316.8 85.4 L317.5 84.8 L318.2 84.1 L318.9 83.3 L319.6 82.2 L320.2 81.8 L320.9 80.9 L321.6 80.5 L322.3 79.5 L323.0 78.9 L323.7 78.3 L324.4 77.5 L325.2 76.8 L325.9 76.0 L326.6 75.3 L327.3 74.5 L328.0 73.7 L328.7 73.0 L329.5 72.4 L330.2 71.8 L330.9 71.4 L331.6 70.6 L332.4 69.8 L333.1 68.7 L333.8 67.9 L334.5 67.4 L335.3 67.0 L336.0 66.3 L336.8 65.7 L337.5 64.8 L338.2 64.1 L339.0 63.3 L339.7 63.1 L340.5 62.7 L341.2 61.9 L342.0 60.9" fill="none" stroke="#00ff00" stroke-width="2.4" stroke-linejoin="round" />
</g>
<line x1="80.0" y1="137.6" x2="80.0" y2="180.0" stroke="#000" stroke-width="2"/>
<line x1="72.0" y1="253.0" x2="72.0" y2="295.0" stroke="#000" stroke-width="2" stroke-dasharray="5 3"/>
<line x1="108.0" y1="241.0" x2="108.0" y2="282.0" stroke="#000" stroke-width="2" stroke-dasharray="5 3"/>
<line x1="149.0" y1="203.0" x2="149.0" y2="245.0" stroke="#000" stroke-width="2"/>
<line x1="216.0" y1="112.0" x2="216.0" y2="154.0" stroke="#000" stroke-width="2" stroke-dasharray="5 3"/>
<line x1="287.0" y1="83.6" x2="287.0" y2="126.0" stroke="#000" stroke-width="2"/>
<text x="75.8" y="133.0" font-size="16.8" textLength="11.2" lengthAdjust="spacingAndGlyphs" text-anchor="start" >P</text>
<text x="71.1" y="249.0" font-size="16.8" textLength="15.3" lengthAdjust="spacingAndGlyphs" text-anchor="start" >P'</text>
<text x="100.4" y="233.0" font-size="16.8" textLength="19.7" lengthAdjust="spacingAndGlyphs" text-anchor="start" >Q'</text>
<text x="142.4" y="195.0" font-size="16.8" textLength="15.6" lengthAdjust="spacingAndGlyphs" text-anchor="start" >Q</text>
<text x="210.0" y="103.3" font-size="16.8" textLength="19.6" lengthAdjust="spacingAndGlyphs" text-anchor="start" >R'</text>
<text x="281.4" y="78.4" font-size="16.8" textLength="11.6" lengthAdjust="spacingAndGlyphs" text-anchor="start" >R</text>
<rect x="170.6" y="234.6" width="164.4" height="161.0" fill="#fff" stroke="none"/>
<clipPath id="ca"><rect x="170.6" y="234.6" width="164.4" height="161.0"/></clipPath>
<g clip-path="url(#ca)">
<path d="M172.0 393.0 L172.3 393.0 L172.5 393.0 L172.8 393.0 L173.0 393.0 L173.3 393.0 L173.5 393.0 L173.8 393.0 L174.0 393.0 L174.3 393.0 L174.5 393.0 L174.8 393.0 L175.0 393.0 L175.3 393.0 L175.5 393.0 L175.8 393.0 L176.0 393.0 L176.3 393.0 L176.5 393.0 L176.8 393.0 L177.0 393.0 L177.3 393.0 L177.5 393.0 L177.8 393.0 L178.0 393.0 L178.3 393.0 L178.5 393.0 L178.8 393.0 L179.0 393.0 L179.3 393.0 L179.5 393.0 L179.8 393.0 L180.0 393.0 L180.3 393.0 L180.5 393.0 L180.8 393.0 L181.1 392.9 L181.3 392.9 L181.6 392.8 L181.9 392.8 L182.2 392.7 L182.4 392.6 L182.7 392.6 L182.9 392.5 L183.2 392.4 L183.4 392.3 L183.6 392.2 L183.8 392.1 L183.9 392.0 L184.1 391.9 L184.2 391.8 L184.3 391.7 L184.5 391.6 L184.6 391.4 L184.7 391.3 L184.8 391.1 L184.9 390.9 L185.0 390.7 L185.1 390.5 L185.2 390.3 L185.3 390.0 L185.4 389.8 L185.5 389.6 L185.6 389.3 L185.7 389.0 L185.8 388.8 L185.8 388.5 L185.9 388.2 L186.0 388.0 L186.1 387.7 L186.2 387.4 L186.2 387.1 L186.3 386.8 L186.4 386.6 L186.4 386.3 L186.5 386.0 L186.6 385.7 L186.6 385.4 L186.7 385.2 L186.8 384.9 L186.8 384.6 L186.9 384.4 L187.0 384.1 L187.0 383.9 L187.1 383.7 L187.1 383.4 L187.2 383.2 L187.3 382.9 L187.3 382.7 L187.4 382.5 L187.4 382.2 L187.5 382.0 L187.6 381.7 L187.6 381.5 L187.7 381.2 L187.7 381.0 L187.8 380.8 L187.8 380.5 L187.9 380.3 L187.9 380.0 L188.0 379.8 L188.0 379.5 L188.1 379.3 L188.1 379.0 L188.2 378.8 L188.2 378.5 L188.3 378.3 L188.3 378.0 L188.4 377.8 L188.4 377.6 L188.4 377.3 L188.5 377.1 L188.5 376.8 L188.6 376.6 L188.6 376.3 L188.7 376.1 L188.7 375.8 L188.7 375.6 L188.8 375.3 L188.8 375.1 L188.9 374.8 L188.9 374.6 L188.9 374.3 L189.0 374.1 L189.0 373.8 L189.1 373.6 L189.1 373.4 L189.1 373.1 L189.2 372.9 L189.2 372.6 L189.3 372.4 L189.3 372.1 L189.3 371.9 L189.4 371.6 L189.4 371.4 L189.5 371.1 L189.5 370.9 L189.5 370.6 L189.6 370.4 L189.6 370.1 L189.6 369.9 L189.7 369.6 L189.7 369.4 L189.8 369.1 L189.8 368.9 L189.8 368.7 L189.9 368.4 L189.9 368.2 L189.9 367.9 L190.0 367.7 L190.0 367.4 L190.1 367.2 L190.1 366.9 L190.1 366.7 L190.2 366.4 L190.2 366.2 L190.2 365.9 L190.3 365.7 L190.3 365.4 L190.3 365.2 L190.4 364.9 L190.4 364.7 L190.4 364.4 L190.5 364.2 L190.5 363.9 L190.6 363.7 L190.6 363.4 L190.6 363.2 L190.7 363.0 L190.7 362.7 L190.7 362.5 L190.8 362.2 L190.8 362.0 L190.8 361.7 L190.9 361.5 L190.9 361.2 L190.9 361.0 L190.9 360.7 L191.0 360.5 L191.0 360.2 L191.0 360.0 L191.1 359.7 L191.1 359.5 L191.1 359.2 L191.2 359.0 L191.2 358.7 L191.2 358.5 L191.2 358.2 L191.3 358.0 L191.3 357.7 L191.3 357.5 L191.4 357.2 L191.4 357.0 L191.4 356.7 L191.4 356.5 L191.5 356.2 L191.5 356.0 L191.5 355.7 L191.5 355.5 L191.6 355.2 L191.6 355.0 L191.6 354.7 L191.6 354.5 L191.7 354.2 L191.7 354.0 L191.7 353.7 L191.7 353.5 L191.8 353.2 L191.8 353.0 L191.8 352.7 L191.8 352.5 L191.8 352.3 L191.9 352.0 L191.9 351.8 L191.9 351.5 L191.9 351.3 L191.9 351.0 L191.9 350.8 L192.0 350.5 L192.0 350.3 L192.0 350.0 L192.0 349.8 L192.0 349.5 L192.0 349.3 L192.1 349.0 L192.1 348.8 L192.1 348.5 L192.1 348.3 L192.1 348.0 L192.1 347.8 L192.2 347.5 L192.2 347.3 L192.2 347.0 L192.2 346.8 L192.2 346.5 L192.2 346.3 L192.2 346.0 L192.3 345.8 L192.3 345.5 L192.3 345.3 L192.3 345.0 L192.3 344.8 L192.3 344.5 L192.3 344.3 L192.3 344.0 L192.4 343.8 L192.4 343.5 L192.4 343.3 L192.4 343.0 L192.4 342.8 L192.4 342.5 L192.4 342.3 L192.4 342.0 L192.5 341.8 L192.5 341.5 L192.5 341.3 L192.5 341.0 L192.5 340.8 L192.5 340.5 L192.5 340.3 L192.5 340.0 L192.5 339.8 L192.6 339.5 L192.6 339.3 L192.6 339.0 L192.6 338.8 L192.6 338.5 L192.6 338.3 L192.6 338.0 L192.6 337.8 L192.6 337.5 L192.6 337.3 L192.7 337.0 L192.7 336.8 L192.7 336.5 L192.7 336.3 L192.7 336.0 L192.7 335.8 L192.7 335.5 L192.7 335.3 L192.7 335.0 L192.7 334.8 L192.8 334.5 L192.8 334.3 L192.8 334.0 L192.8 333.8 L192.8 333.5 L192.8 333.3 L192.8 333.0 L192.8 332.8 L192.8 332.5 L192.8 332.3 L192.8 332.0 L192.8 331.8 L192.9 331.5 L192.9 331.3 L192.9 331.0 L192.9 330.8 L192.9 330.5 L192.9 330.3 L192.9 330.0 L192.9 329.8 L192.9 329.5 L192.9 329.3 L192.9 329.0 L193.0 328.8 L193.0 328.5 L193.0 328.3 L193.0 328.0 L193.0 327.8 L193.0 327.5 L193.0 327.3 L193.0 327.0 L193.0 326.8 L193.0 326.5 L193.0 326.3 L193.0 326.0 L193.1 325.8 L193.1 325.5 L193.1 325.3 L193.1 325.0 L193.1 324.8 L193.1 324.5 L193.1 324.3 L193.1 324.0 L193.1 323.8 L193.1 323.5 L193.1 323.3 L193.1 323.0 L193.2 322.8 L193.2 322.5 L193.2 322.3 L193.2 322.0 L193.2 321.8 L193.2 321.5 L193.2 321.3 L193.2 321.0 L193.2 320.8 L193.2 320.5 L193.2 320.3 L193.3 320.0 L193.3 319.8 L193.3 319.5 L193.3 319.3 L193.3 319.0 L193.3 318.8 L193.3 318.5 L193.3 318.3 L193.3 318.0 L193.3 317.8 L193.4 317.5 L193.4 317.3 L193.4 317.0 L193.4 316.8 L193.4 316.5 L193.4 316.3 L193.4 316.0 L193.4 315.8 L193.4 315.5 L193.4 315.3 L193.5 315.0 L193.5 314.8 L193.5 314.5 L193.5 314.3 L193.5 314.0 L193.5 313.8 L193.5 313.5 L193.5 313.3 L193.6 313.0 L193.6 312.8 L193.6 312.5 L193.6 312.3 L193.6 312.0 L193.6 311.8 L193.6 311.5 L193.6 311.3 L193.6 311.0 L193.7 310.8 L193.7 310.5 L193.7 310.3 L193.7 310.0 L193.7 309.8 L193.7 309.5 L193.7 309.3 L193.7 309.0 L193.8 308.8 L193.8 308.5 L193.8 308.3 L193.8 308.0 L193.8 307.8 L193.8 307.5 L193.8 307.3 L193.8 307.0 L193.9 306.8 L193.9 306.5 L193.9 306.3 L193.9 306.0 L193.9 305.8 L193.9 305.5 L193.9 305.3 L193.9 305.0 L194.0 304.8 L194.0 304.5 L194.0 304.3 L194.0 304.0 L194.0 303.8 L194.0 303.5 L194.0 303.3 L194.1 303.0 L194.1 302.8 L194.1 302.5 L194.1 302.3 L194.1 302.0 L194.1 301.8 L194.1 301.5 L194.1 301.3 L194.2 301.0 L194.2 300.8 L194.2 300.5 L194.2 300.3 L194.2 300.0 L194.2 299.8 L194.2 299.5 L194.2 299.3 L194.3 299.0 L194.3 298.8 L194.3 298.5 L194.3 298.3 L194.3 298.0 L194.3 297.8 L194.3 297.5 L194.4 297.3 L194.4 297.0 L194.4 296.8 L194.4 296.5 L194.4 296.3 L194.4 296.0 L194.4 295.8 L194.5 295.5 L194.5 295.3 L194.5 295.0 L194.5 294.8 L194.5 294.5 L194.5 294.3 L194.5 294.0 L194.6 293.8 L194.6 293.5 L194.6 293.3 L194.6 293.0 L194.6 292.8 L194.6 292.5 L194.6 292.3 L194.7 292.0 L194.7 291.8 L194.7 291.5 L194.7 291.3 L194.7 291.0 L194.7 290.8 L194.8 290.5 L194.8 290.3 L194.8 290.0 L194.8 289.8 L194.8 289.5 L194.8 289.3 L194.9 289.0 L194.9 288.8 L194.9 288.5 L194.9 288.3 L194.9 288.0 L194.9 287.8 L195.0 287.5 L195.0 287.3 L195.0 287.0 L195.0 286.8 L195.0 286.5 L195.0 286.3 L195.1 286.0 L195.1 285.8 L195.1 285.5 L195.1 285.3 L195.1 285.0 L195.1 284.8 L195.2 284.5 L195.2 284.3 L195.2 284.0 L195.2 283.8 L195.2 283.5 L195.2 283.3 L195.3 283.0 L195.3 282.8 L195.3 282.5 L195.3 282.3 L195.3 282.0 L195.4 281.8 L195.4 281.5 L195.4 281.3 L195.4 281.0 L195.4 280.8 L195.5 280.5 L195.5 280.3 L195.5 280.0 L195.5 279.8 L195.5 279.5 L195.6 279.3 L195.6 279.0 L195.6 278.8 L195.6 278.6 L195.6 278.3 L195.7 278.1 L195.7 277.8 L195.7 277.6 L195.7 277.3 L195.7 277.1 L195.8 276.8 L195.8 276.6 L195.8 276.3 L195.8 276.0 L195.8 275.8 L195.9 275.5 L195.9 275.3 L195.9 275.0 L195.9 274.8 L195.9 274.5 L196.0 274.3 L196.0 274.0 L196.0 273.8 L196.0 273.5 L196.1 273.3 L196.1 273.0 L196.1 272.8 L196.1 272.5 L196.2 272.3 L196.2 272.0 L196.2 271.8 L196.2 271.5 L196.3 271.3 L196.3 271.0 L196.3 270.8 L196.3 270.5 L196.4 270.3 L196.4 270.0 L196.4 269.8 L196.4 269.5 L196.5 269.3 L196.5 269.0 L196.5 268.8 L196.5 268.5 L196.6 268.3 L196.6 268.1 L196.6 267.8 L196.7 267.6 L196.7 267.3 L196.7 267.1 L196.8 266.8 L196.8 266.6 L196.8 266.3 L196.9 266.1 L196.9 265.8 L196.9 265.6 L197.0 265.3 L197.0 265.1 L197.0 264.8 L197.1 264.6 L197.1 264.3 L197.2 264.1 L197.2 263.9 L197.2 263.6 L197.3 263.4 L197.3 263.1 L197.3 262.9 L197.4 262.6 L197.4 262.4 L197.5 262.1 L197.5 261.9 L197.6 261.6 L197.6 261.4 L197.7 261.1 L197.7 260.8 L197.8 260.4 L197.9 260.1 L197.9 259.8 L198.0 259.5 L198.1 259.2 L198.2 258.9 L198.3 258.6 L198.3 258.3 L198.4 258.0 L198.5 257.8 L198.6 257.6 L198.7 257.4 L198.7 257.2 L198.8 257.1 L198.9 257.0 L199.0 257.0 L199.0 257.0 L199.1 257.1 L199.2 257.1 L199.3 257.3 L199.4 257.4 L199.4 257.6 L199.5 257.8 L199.6 258.1 L199.7 258.3 L199.8 258.6 L199.9 258.9 L199.9 259.2 L200.0 259.5 L200.1 259.8 L200.2 260.2 L200.2 260.5 L200.3 260.8 L200.3 261.1 L200.4 261.4 L200.4 261.7 L200.5 261.9 L200.5 262.2 L200.6 262.4 L200.6 262.7 L200.6 262.9 L200.7 263.1 L200.7 263.4 L200.7 263.6 L200.8 263.9 L200.8 264.1 L200.8 264.4 L200.8 264.6 L200.9 264.9 L200.9 265.1 L200.9 265.4 L201.0 265.6 L201.0 265.9 L201.0 266.1 L201.0 266.4 L201.1 266.6 L201.1 266.8 L201.1 267.1 L201.1 267.3 L201.2 267.6 L201.2 267.8 L201.2 268.1 L201.2 268.3 L201.2 268.6 L201.3 268.8 L201.3 269.1 L201.3 269.3 L201.3 269.6 L201.3 269.8 L201.4 270.1 L201.4 270.3 L201.4 270.6 L201.4 270.8 L201.4 271.1 L201.5 271.3 L201.5 271.6 L201.5 271.8 L201.5 272.1 L201.5 272.3 L201.5 272.6 L201.6 272.9 L201.6 273.1 L201.6 273.4 L201.6 273.6 L201.6 273.9 L201.6 274.1 L201.7 274.4 L201.7 274.6 L201.7 274.9 L201.7 275.1 L201.7 275.4 L201.7 275.6 L201.8 275.9 L201.8 276.1 L201.8 276.4 L201.8 276.6 L201.8 276.9 L201.8 277.1 L201.8 277.4 L201.9 277.6 L201.9 277.9 L201.9 278.1 L201.9 278.4 L201.9 278.6 L201.9 278.9 L201.9 279.1 L202.0 279.4 L202.0 279.6 L202.0 279.9 L202.0 280.1 L202.0 280.4 L202.0 280.6 L202.1 280.9 L202.1 281.1 L202.1 281.4 L202.1 281.6 L202.1 281.9 L202.1 282.1 L202.1 282.4 L202.2 282.6 L202.2 282.9 L202.2 283.1 L202.2 283.4 L202.2 283.6 L202.2 283.9 L202.2 284.1 L202.2 284.4 L202.2 284.6 L202.3 284.9 L202.3 285.1 L202.3 285.4 L202.3 285.6 L202.3 285.9 L202.3 286.1 L202.3 286.4 L202.3 286.6 L202.3 286.9 L202.4 287.1 L202.4 287.4 L202.4 287.6 L202.4 287.9 L202.4 288.1 L202.4 288.4 L202.4 288.6 L202.4 288.9 L202.4 289.1 L202.5 289.4 L202.5 289.6 L202.5 289.9 L202.5 290.1 L202.5 290.4 L202.5 290.6 L202.5 290.9 L202.5 291.1 L202.5 291.4 L202.5 291.6 L202.6 291.9 L202.6 292.1 L202.6 292.4 L202.6 292.6 L202.6 292.9 L202.6 293.1 L202.6 293.4 L202.6 293.6 L202.6 293.9 L202.7 294.1 L202.7 294.4 L202.7 294.6 L202.7 294.9 L202.7 295.1 L202.7 295.4 L202.7 295.6 L202.7 295.9 L202.8 296.1 L202.8 296.4 L202.8 296.6 L202.8 296.9 L202.8 297.1 L202.8 297.4 L202.8 297.6 L202.9 297.9 L202.9 298.1 L202.9 298.4 L202.9 298.6 L202.9 298.9 L202.9 299.1 L203.0 299.4 L203.0 299.6 L203.0 299.9 L203.0 300.1 L203.0 300.4 L203.0 300.6 L203.1 300.9 L203.1 301.1 L203.1 301.4 L203.1 301.6 L203.1 301.9 L203.2 302.1 L203.2 302.4 L203.2 302.6 L203.2 302.9 L203.2 303.1 L203.3 303.4 L203.3 303.6 L203.3 303.8 L203.3 304.1 L203.4 304.3 L203.4 304.6 L203.4 304.8 L203.4 305.1 L203.5 305.3 L203.5 305.6 L203.5 305.8 L203.5 306.1 L203.6 306.3 L203.6 306.6 L203.6 306.8 L203.6 307.1 L203.7 307.3 L203.7 307.6 L203.7 307.8 L203.8 308.1 L203.8 308.3 L203.8 308.6 L203.8 308.8 L203.9 309.1 L203.9 309.3 L203.9 309.6 L204.0 309.8 L204.0 310.1 L204.0 310.3 L204.1 310.6 L204.1 310.8 L204.1 311.1 L204.2 311.3 L204.2 311.6 L204.2 311.8 L204.3 312.1 L204.3 312.3 L204.3 312.6 L204.4 312.8 L204.4 313.1 L204.4 313.3 L204.5 313.5 L204.5 313.8 L204.5 314.0 L204.6 314.3 L204.6 314.5 L204.6 314.8 L204.7 315.0 L204.7 315.3 L204.7 315.5 L204.8 315.8 L204.8 316.0 L204.8 316.3 L204.9 316.5 L204.9 316.8 L204.9 317.0 L205.0 317.3 L205.0 317.5 L205.1 317.8 L205.1 318.0 L205.1 318.3 L205.2 318.5 L205.2 318.8 L205.2 319.0 L205.3 319.3 L205.3 319.5 L205.3 319.7 L205.4 320.0 L205.4 320.2 L205.5 320.5 L205.5 320.7 L205.5 321.0 L205.6 321.2 L205.6 321.5 L205.6 321.7 L205.7 322.0 L205.7 322.2 L205.8 322.5 L205.8 322.7 L205.8 323.0 L205.9 323.2 L205.9 323.5 L206.0 323.7 L206.0 323.9 L206.0 324.2 L206.1 324.4 L206.1 324.7 L206.1 324.9 L206.2 325.2 L206.2 325.4 L206.3 325.7 L206.3 325.9 L206.3 326.2 L206.4 326.4 L206.4 326.7 L206.5 326.9 L206.5 327.2 L206.5 327.4 L206.6 327.7 L206.6 327.9 L206.7 328.2 L206.7 328.4 L206.7 328.7 L206.8 328.9 L206.8 329.2 L206.9 329.4 L206.9 329.7 L206.9 329.9 L207.0 330.2 L207.0 330.4 L207.1 330.7 L207.1 330.9 L207.1 331.2 L207.2 331.4 L207.2 331.7 L207.3 331.9 L207.3 332.2 L207.4 332.4 L207.4 332.6 L207.5 332.9 L207.5 333.1 L207.5 333.4 L207.6 333.6 L207.6 333.9 L207.7 334.1 L207.7 334.4 L207.8 334.6 L207.8 334.9 L207.9 335.1 L207.9 335.4 L208.0 335.6 L208.0 335.9 L208.1 336.1 L208.1 336.4 L208.2 336.6 L208.2 336.9 L208.3 337.1 L208.3 337.3 L208.4 337.6 L208.4 337.8 L208.5 338.1 L208.5 338.3 L208.6 338.6 L208.6 338.8 L208.7 339.1 L208.8 339.3 L208.8 339.5 L208.9 339.8 L208.9 340.0 L209.0 340.3 L209.1 340.5 L209.1 340.7 L209.2 341.0 L209.2 341.2 L209.3 341.5 L209.4 341.7 L209.4 341.9 L209.5 342.2 L209.5 342.4 L209.6 342.7 L209.7 342.9 L209.7 343.1 L209.8 343.4 L209.9 343.6 L209.9 343.8 L210.0 344.1 L210.1 344.3 L210.2 344.5 L210.2 344.8 L210.3 345.0 L210.4 345.2 L210.5 345.5 L210.6 345.7 L210.6 345.9 L210.7 346.2 L210.8 346.4 L210.9 346.6 L211.0 346.9 L211.1 347.1 L211.2 347.3 L211.3 347.6 L211.4 347.8 L211.5 348.0 L211.6 348.3 L211.7 348.5 L211.8 348.7 L211.9 348.9 L212.0 349.2 L212.1 349.4 L212.2 349.6 L212.3 349.9 L212.4 350.1 L212.5 350.3 L212.6 350.6 L212.8 350.8 L212.9 351.0 L213.0 351.2 L213.1 351.5 L213.2 351.7 L213.3 351.9 L213.5 352.1 L213.6 352.4 L213.7 352.6 L213.8 352.8 L214.0 353.0 L214.1 353.3 L214.2 353.5 L214.3 353.7 L214.5 353.9 L214.6 354.1 L214.7 354.4 L214.8 354.6 L215.0 354.8 L215.1 355.0 L215.2 355.2 L215.4 355.4 L215.5 355.6 L215.6 355.9 L215.8 356.1 L215.9 356.3 L216.0 356.5 L216.2 356.7 L216.3 356.9 L216.4 357.1 L216.6 357.3 L216.7 357.5 L216.8 357.7 L217.0 357.9 L217.1 358.1 L217.2 358.3 L217.4 358.5 L217.5 358.8 L217.7 359.0 L217.8 359.2 L217.9 359.4 L218.1 359.6 L218.2 359.8 L218.4 360.0 L218.5 360.2 L218.7 360.4 L218.8 360.6 L219.0 360.8 L219.1 361.0 L219.3 361.2 L219.5 361.4 L219.6 361.6 L219.8 361.8 L219.9 362.0 L220.1 362.2 L220.3 362.4 L220.4 362.6 L220.6 362.8 L220.8 363.0 L220.9 363.2 L221.1 363.4 L221.3 363.6 L221.4 363.8 L221.6 364.0 L221.8 364.1 L222.0 364.3 L222.1 364.5 L222.3 364.7 L222.5 364.9 L222.7 365.0 L222.9 365.2 L223.0 365.4 L223.2 365.6 L223.4 365.7 L223.6 365.9 L223.8 366.0 L224.0 366.2 L224.2 366.4 L224.3 366.5 L224.5 366.7 L224.7 366.8 L224.9 366.9 L225.1 367.1 L225.3 367.2 L225.5 367.3 L225.7 367.5 L225.9 367.6 L226.2 367.7 L226.4 367.8 L226.6 367.9 L226.9 368.0 L227.1 368.1 L227.3 368.2 L227.6 368.3 L227.8 368.4 L228.1 368.5 L228.3 368.6 L228.6 368.7 L228.8 368.8 L229.1 368.9 L229.3 369.0 L229.6 369.1 L229.8 369.2 L230.1 369.3 L230.3 369.4 L230.5 369.5 L230.8 369.6 L231.0 369.7 L231.2 369.8 L231.4 369.9 L231.7 370.1 L231.9 370.2 L232.1 370.3 L232.3 370.4 L232.5 370.6 L232.6 370.7 L232.8 370.8 L233.0 371.0 L233.1 371.1 L233.3 371.3 L233.4 371.5 L233.6 371.6 L233.7 371.8 L233.8 372.0 L234.0 372.2 L234.1 372.4 L234.2 372.6 L234.4 372.8 L234.5 373.0 L234.6 373.3 L234.7 373.5 L234.8 373.7 L234.9 374.0 L235.1 374.2 L235.2 374.4 L235.3 374.7 L235.4 374.9 L235.5 375.2 L235.6 375.4 L235.7 375.6 L235.8 375.9 L236.0 376.1 L236.1 376.3 L236.2 376.6 L236.3 376.8 L236.4 377.0 L236.6 377.3 L236.7 377.5 L236.8 377.7 L236.9 377.9 L237.1 378.1 L237.2 378.3 L237.4 378.5 L237.5 378.7 L237.6 379.0 L237.8 379.2 L237.9 379.4 L238.1 379.6 L238.2 379.8 L238.3 380.0 L238.5 380.2 L238.6 380.4 L238.8 380.7 L238.9 380.9 L239.1 381.1 L239.2 381.3 L239.3 381.5 L239.5 381.7 L239.6 381.9 L239.8 382.1 L239.9 382.3 L240.1 382.6 L240.2 382.8 L240.4 383.0 L240.5 383.2 L240.7 383.4 L240.9 383.6 L241.0 383.8 L241.2 384.0 L241.3 384.2 L241.5 384.4 L241.6 384.6 L241.8 384.8 L242.0 385.0 L242.1 385.2 L242.3 385.4 L242.5 385.5 L242.6 385.7 L242.8 385.9 L243.0 386.1 L243.1 386.3 L243.3 386.4 L243.5 386.6 L243.6 386.8 L243.8 387.0 L244.0 387.1 L244.2 387.3 L244.3 387.5 L244.5 387.6 L244.7 387.8 L244.9 387.9 L245.1 388.1 L245.3 388.2 L245.5 388.4 L245.6 388.5 L245.8 388.7 L246.0 388.8 L246.2 389.0 L246.4 389.2 L246.6 389.3 L246.9 389.5 L247.1 389.7 L247.3 389.8 L247.5 390.0 L247.7 390.1 L247.9 390.3 L248.1 390.4 L248.4 390.6 L248.6 390.7 L248.8 390.9 L249.0 391.0 L249.3 391.2 L249.5 391.3 L249.7 391.4 L249.9 391.6 L250.2 391.7 L250.4 391.8 L250.6 391.9 L250.9 392.0 L251.1 392.1 L251.3 392.1 L251.6 392.2 L251.8 392.3 L252.0 392.3 L252.3 392.3 L252.5 392.4 L252.7 392.4 L253.0 392.4 L253.2 392.4 L253.5 392.4 L253.7 392.4 L254.0 392.4 L254.2 392.4 L254.5 392.4 L254.8 392.4 L255.0 392.3 L255.3 392.3 L255.6 392.3 L255.8 392.3 L256.1 392.3 L256.4 392.3 L256.6 392.3 L256.9 392.2 L257.2 392.2 L257.4 392.2 L257.7 392.2 L257.9 392.1 L258.1 392.1 L258.4 392.1 L258.6 392.1 L258.8 392.0 L259.0 392.0 L259.2 392.0 L259.4 391.9 L259.5 391.8 L259.7 391.8 L259.9 391.7 L260.1 391.6 L260.2 391.4 L260.4 391.3 L260.5 391.1 L260.7 391.0 L260.9 390.8 L261.0 390.6 L261.2 390.4 L261.3 390.2 L261.5 390.0 L261.6 389.8 L261.7 389.6 L261.9 389.3 L262.0 389.1 L262.2 388.9 L262.3 388.6 L262.4 388.4 L262.6 388.1 L262.7 387.9 L262.9 387.6 L263.0 387.3 L263.1 387.1 L263.3 386.8 L263.4 386.6 L263.5 386.3 L263.7 386.1 L263.8 385.8 L264.0 385.6 L264.1 385.3 L264.2 385.1 L264.4 384.9 L264.5 384.6 L264.7 384.4 L264.8 384.2 L265.0 384.0 L265.1 383.8 L265.3 383.6 L265.5 383.4 L265.6 383.2 L265.8 383.0 L265.9 382.9 L266.1 382.7 L266.3 382.5 L266.4 382.3 L266.6 382.1 L266.7 381.9 L266.9 381.7 L267.1 381.5 L267.2 381.3 L267.4 381.1 L267.6 380.9 L267.7 380.8 L267.9 380.6 L268.0 380.4 L268.2 380.2 L268.4 380.0 L268.5 379.8 L268.7 379.6 L268.9 379.4 L269.0 379.2 L269.2 379.0 L269.3 378.8 L269.5 378.6 L269.6 378.5 L269.8 378.3 L270.0 378.1 L270.1 377.9 L270.3 377.7 L270.4 377.5 L270.6 377.3 L270.7 377.1 L270.9 376.9 L271.0 376.7 L271.2 376.5 L271.3 376.3 L271.4 376.1 L271.6 375.9 L271.7 375.6 L271.9 375.4 L272.0 375.2 L272.2 375.0 L272.3 374.8 L272.5 374.6 L272.6 374.4 L272.7 374.2 L272.9 374.0 L273.0 373.8 L273.2 373.6 L273.3 373.4 L273.4 373.2 L273.6 373.0 L273.7 372.7 L273.9 372.5 L274.0 372.3 L274.1 372.1 L274.3 371.9 L274.4 371.7 L274.6 371.5 L274.7 371.3 L274.8 371.1 L275.0 370.9 L275.1 370.7 L275.3 370.4 L275.4 370.2 L275.5 370.0 L275.7 369.8 L275.8 369.6 L276.0 369.4 L276.1 369.2 L276.3 369.0 L276.4 368.8 L276.5 368.6 L276.7 368.4 L276.8 368.2 L277.0 368.0 L277.1 367.8 L277.3 367.6 L277.4 367.4 L277.5 367.2 L277.7 367.0 L277.8 366.7 L278.0 366.5 L278.1 366.3 L278.3 366.2 L278.4 366.0 L278.6 365.8 L278.7 365.6 L278.9 365.4 L279.0 365.2 L279.2 365.0 L279.4 364.8 L279.5 364.6 L279.7 364.4 L279.8 364.2 L280.0 364.0 L280.1 363.8 L280.3 363.6 L280.5 363.4 L280.6 363.3 L280.8 363.1 L281.0 362.9 L281.1 362.7 L281.3 362.5 L281.4 362.3 L281.6 362.1 L281.8 361.9 L281.9 361.7 L282.1 361.5 L282.3 361.3 L282.4 361.1 L282.6 360.9 L282.8 360.7 L282.9 360.5 L283.1 360.4 L283.3 360.2 L283.5 360.0 L283.6 359.8 L283.8 359.6 L284.0 359.4 L284.1 359.2 L284.3 359.0 L284.5 358.8 L284.7 358.6 L284.8 358.5 L285.0 358.3 L285.2 358.1 L285.4 357.9 L285.5 357.7 L285.7 357.5 L285.9 357.4 L286.1 357.2 L286.3 357.0 L286.4 356.8 L286.6 356.7 L286.8 356.5 L287.0 356.3 L287.2 356.2 L287.4 356.0 L287.6 355.8 L287.7 355.7 L287.9 355.5 L288.1 355.4 L288.3 355.2 L288.5 355.1 L288.7 354.9 L288.9 354.8 L289.1 354.6 L289.3 354.5 L289.5 354.3 L289.7 354.2 L289.9 354.1 L290.1 353.9 L290.3 353.8 L290.5 353.7 L290.7 353.5 L290.9 353.4 L291.1 353.3 L291.3 353.1 L291.5 353.0 L291.8 352.9 L292.0 352.7 L292.2 352.6 L292.4 352.4 L292.7 352.3 L292.9 352.2 L293.1 352.0 L293.3 351.9 L293.6 351.7 L293.8 351.6 L294.0 351.5 L294.3 351.3 L294.5 351.2 L294.7 351.1 L295.0 350.9 L295.2 350.8 L295.5 350.7 L295.7 350.6 L295.9 350.4 L296.2 350.3 L296.4 350.2 L296.6 350.1 L296.9 350.0 L297.1 349.9 L297.4 349.8 L297.6 349.7 L297.8 349.6 L298.1 349.6 L298.3 349.5 L298.5 349.4 L298.8 349.3 L299.0 349.3 L299.2 349.2 L299.5 349.2 L299.7 349.1 L299.9 349.1 L300.1 349.1 L300.4 349.0 L300.6 349.0 L300.8 349.0 L301.0 349.0 L301.2 349.0 L301.5 349.0 L301.7 349.1 L301.9 349.1 L302.1 349.1 L302.3 349.2 L302.6 349.3 L302.8 349.3 L303.0 349.4 L303.2 349.5 L303.5 349.6 L303.7 349.7 L303.9 349.9 L304.1 350.0 L304.4 350.1 L304.6 350.3 L304.8 350.4 L305.0 350.5 L305.3 350.7 L305.5 350.9 L305.7 351.0 L305.9 351.2 L306.1 351.4 L306.3 351.5 L306.6 351.7 L306.8 351.9 L307.0 352.1 L307.2 352.3 L307.4 352.4 L307.6 352.6 L307.8 352.8 L308.0 353.0 L308.2 353.2 L308.4 353.4 L308.6 353.6 L308.8 353.7 L308.9 353.9 L309.1 354.1 L309.3 354.3 L309.5 354.5 L309.6 354.6 L309.8 354.8 L310.0 355.0 L310.1 355.1 L310.3 355.3 L310.5 355.5 L310.6 355.7 L310.8 355.8 L310.9 356.0 L311.1 356.2 L311.2 356.4 L311.4 356.6 L311.5 356.7 L311.7 356.9 L311.8 357.1 L312.0 357.3 L312.1 357.5 L312.3 357.7 L312.4 357.9 L312.5 358.1 L312.7 358.3 L312.8 358.5 L313.0 358.7 L313.1 358.9 L313.2 359.1 L313.4 359.3 L313.5 359.5 L313.6 359.7 L313.8 360.0 L313.9 360.2 L314.0 360.4 L314.2 360.6 L314.3 360.8 L314.4 361.0 L314.6 361.2 L314.7 361.5 L314.8 361.7 L314.9 361.9 L315.1 362.1 L315.2 362.4 L315.3 362.6 L315.4 362.8 L315.6 363.0 L315.7 363.3 L315.8 363.5 L315.9 363.7 L316.0 363.9 L316.2 364.2 L316.3 364.4 L316.4 364.6 L316.5 364.9 L316.6 365.1 L316.8 365.3 L316.9 365.6 L317.0 365.8 L317.1 366.0 L317.2 366.3 L317.3 366.5 L317.4 366.7 L317.6 367.0 L317.7 367.2 L317.8 367.4 L317.9 367.7 L318.0 367.9 L318.1 368.1 L318.2 368.4 L318.3 368.6 L318.5 368.8 L318.6 369.0 L318.7 369.3 L318.8 369.5 L318.9 369.7 L319.0 370.0 L319.1 370.2 L319.2 370.4 L319.3 370.7 L319.5 370.9 L319.6 371.1 L319.7 371.3 L319.8 371.6 L319.9 371.8 L320.0 372.0 L320.1 372.2 L320.2 372.5 L320.3 372.7 L320.4 372.9 L320.5 373.1 L320.6 373.4 L320.7 373.6 L320.8 373.8 L320.9 374.1 L321.0 374.3 L321.1 374.6 L321.2 374.8 L321.3 375.0 L321.4 375.3 L321.5 375.5 L321.6 375.8 L321.7 376.0 L321.7 376.3 L321.8 376.5 L321.9 376.7 L322.0 377.0 L322.1 377.2 L322.2 377.5 L322.3 377.7 L322.3 378.0 L322.4 378.2 L322.5 378.5 L322.6 378.7 L322.7 378.9 L322.8 379.2 L322.9 379.4 L323.0 379.7 L323.0 379.9 L323.1 380.2 L323.2 380.4 L323.3 380.6 L323.4 380.9 L323.5 381.1 L323.6 381.3 L323.7 381.6 L323.8 381.8 L323.9 382.0 L324.0 382.3 L324.1 382.5 L324.2 382.7 L324.3 382.9 L324.4 383.2 L324.5 383.4 L324.6 383.6 L324.7 383.8 L324.8 384.0 L324.9 384.2 L325.0 384.5 L325.1 384.7 L325.3 384.9 L325.4 385.1 L325.5 385.3 L325.6 385.5 L325.8 385.7 L325.9 385.8 L326.0 386.0 L326.2 386.2 L326.3 386.4 L326.5 386.6 L326.6 386.8 L326.8 386.9 L326.9 387.1 L327.1 387.3 L327.3 387.5 L327.5 387.6 L327.6 387.8 L327.8 388.0 L328.0 388.2 L328.2 388.3 L328.4 388.5 L328.6 388.7 L328.8 388.8 L329.0 389.0 L329.2 389.1 L329.4 389.3 L329.6 389.4 L329.9 389.6 L330.1 389.7 L330.3 389.9 L330.5 390.0 L330.7 390.2 L330.9 390.3 L331.1 390.5 L331.4 390.6 L331.6 390.7 L331.8 390.9 L332.0 391.0 L332.2 391.1 L332.4 391.2 L332.6 391.4 L332.9 391.5 L333.1 391.6 L333.3 391.7 L333.5 391.8 L333.8 391.9 L334.0 392.0" fill="none" stroke="#000" stroke-width="1.8" stroke-linejoin="round" />
<g fill="#fff" stroke="#000" stroke-width="1.25">
<circle cx="172.0" cy="393.0" r="1.25"/>
<circle cx="172.8" cy="393.0" r="1.25"/>
<circle cx="173.7" cy="393.0" r="1.25"/>
<circle cx="174.5" cy="393.0" r="1.25"/>
<circle cx="175.4" cy="393.0" r="1.25"/>
<circle cx="176.2" cy="393.0" r="1.25"/>
<circle cx="177.1" cy="393.0" r="1.25"/>
<circle cx="177.9" cy="393.0" r="1.25"/>
<circle cx="178.8" cy="393.0" r="1.25"/>
<circle cx="179.6" cy="393.0" r="1.25"/>
<circle cx="180.5" cy="393.0" r="1.25"/>
<circle cx="181.3" cy="392.9" r="1.25"/>
<circle cx="182.2" cy="392.7" r="1.25"/>
<circle cx="183.0" cy="392.4" r="1.25"/>
<circle cx="183.9" cy="392.1" r="1.25"/>
<circle cx="184.7" cy="391.2" r="1.25"/>
<circle cx="185.6" cy="389.3" r="1.25"/>
<circle cx="186.4" cy="386.2" r="1.25"/>
<circle cx="187.3" cy="382.8" r="1.25"/>
<circle cx="188.1" cy="378.9" r="1.25"/>
<circle cx="189.0" cy="374.0" r="1.25"/>
<circle cx="189.8" cy="368.5" r="1.25"/>
<circle cx="190.7" cy="362.6" r="1.25"/>
<circle cx="191.5" cy="355.4" r="1.25"/>
<circle cx="192.4" cy="342.9" r="1.25"/>
<circle cx="193.2" cy="320.2" r="1.25"/>
<circle cx="194.1" cy="302.1" r="1.25"/>
<circle cx="194.9" cy="287.5" r="1.25"/>
<circle cx="195.8" cy="276.3" r="1.25"/>
<circle cx="196.6" cy="267.7" r="1.25"/>
<circle cx="197.5" cy="262.0" r="1.25"/>
<circle cx="198.3" cy="258.3" r="1.25"/>
<circle cx="199.2" cy="257.1" r="1.25"/>
<circle cx="200.0" cy="259.7" r="1.25"/>
<circle cx="200.9" cy="265.1" r="1.25"/>
<circle cx="201.7" cy="275.8" r="1.25"/>
<circle cx="202.6" cy="292.8" r="1.25"/>
<circle cx="203.4" cy="305.2" r="1.25"/>
<circle cx="204.3" cy="312.4" r="1.25"/>
<circle cx="205.1" cy="318.4" r="1.25"/>
<circle cx="206.0" cy="324.0" r="1.25"/>
<circle cx="206.8" cy="329.4" r="1.25"/>
<circle cx="207.7" cy="334.2" r="1.25"/>
<circle cx="208.5" cy="338.4" r="1.25"/>
<circle cx="209.4" cy="341.9" r="1.25"/>
<circle cx="210.2" cy="344.8" r="1.25"/>
<circle cx="211.1" cy="347.1" r="1.25"/>
<circle cx="211.9" cy="349.1" r="1.25"/>
<circle cx="212.8" cy="350.9" r="1.25"/>
<circle cx="213.6" cy="352.5" r="1.25"/>
<circle cx="214.5" cy="354.0" r="1.25"/>
<circle cx="215.3" cy="355.4" r="1.25"/>
<circle cx="216.2" cy="356.8" r="1.25"/>
<circle cx="217.0" cy="358.1" r="1.25"/>
<circle cx="217.9" cy="359.3" r="1.25"/>
<circle cx="218.7" cy="360.5" r="1.25"/>
<circle cx="219.6" cy="361.6" r="1.25"/>
<circle cx="220.4" cy="362.6" r="1.25"/>
<circle cx="221.3" cy="363.6" r="1.25"/>
<circle cx="222.1" cy="364.5" r="1.25"/>
<circle cx="223.0" cy="365.3" r="1.25"/>
<circle cx="223.8" cy="366.1" r="1.25"/>
<circle cx="224.7" cy="366.8" r="1.25"/>
<circle cx="225.5" cy="367.4" r="1.25"/>
<circle cx="226.4" cy="367.8" r="1.25"/>
<circle cx="227.2" cy="368.2" r="1.25"/>
<circle cx="228.1" cy="368.5" r="1.25"/>
<circle cx="228.9" cy="368.9" r="1.25"/>
<circle cx="229.8" cy="369.2" r="1.25"/>
<circle cx="230.6" cy="369.6" r="1.25"/>
<circle cx="231.5" cy="370.0" r="1.25"/>
<circle cx="232.3" cy="370.5" r="1.25"/>
<circle cx="233.2" cy="371.2" r="1.25"/>
<circle cx="234.0" cy="372.3" r="1.25"/>
<circle cx="234.9" cy="373.9" r="1.25"/>
<circle cx="235.7" cy="375.7" r="1.25"/>
<circle cx="236.6" cy="377.3" r="1.25"/>
<circle cx="237.4" cy="378.7" r="1.25"/>
<circle cx="238.3" cy="380.0" r="1.25"/>
<circle cx="239.1" cy="381.2" r="1.25"/>
<circle cx="240.0" cy="382.4" r="1.25"/>
<circle cx="240.8" cy="383.6" r="1.25"/>
<circle cx="241.7" cy="384.7" r="1.25"/>
<circle cx="242.5" cy="385.6" r="1.25"/>
<circle cx="243.4" cy="386.6" r="1.25"/>
<circle cx="244.2" cy="387.4" r="1.25"/>
<circle cx="245.1" cy="388.1" r="1.25"/>
<circle cx="245.9" cy="388.8" r="1.25"/>
<circle cx="246.8" cy="389.4" r="1.25"/>
<circle cx="247.6" cy="390.1" r="1.25"/>
<circle cx="248.5" cy="390.7" r="1.25"/>
<circle cx="249.3" cy="391.2" r="1.25"/>
<circle cx="250.2" cy="391.7" r="1.25"/>
<circle cx="251.0" cy="392.0" r="1.25"/>
<circle cx="251.9" cy="392.3" r="1.25"/>
<circle cx="252.7" cy="392.4" r="1.25"/>
<circle cx="253.6" cy="392.4" r="1.25"/>
<circle cx="254.4" cy="392.4" r="1.25"/>
<circle cx="255.3" cy="392.3" r="1.25"/>
<circle cx="256.1" cy="392.3" r="1.25"/>
<circle cx="257.0" cy="392.2" r="1.25"/>
<circle cx="257.8" cy="392.1" r="1.25"/>
<circle cx="258.7" cy="392.0" r="1.25"/>
<circle cx="259.5" cy="391.8" r="1.25"/>
<circle cx="260.4" cy="391.3" r="1.25"/>
<circle cx="261.2" cy="390.3" r="1.25"/>
<circle cx="262.1" cy="389.0" r="1.25"/>
<circle cx="262.9" cy="387.4" r="1.25"/>
<circle cx="263.8" cy="385.8" r="1.25"/>
<circle cx="264.6" cy="384.5" r="1.25"/>
<circle cx="265.5" cy="383.4" r="1.25"/>
<circle cx="266.3" cy="382.4" r="1.25"/>
<circle cx="267.2" cy="381.4" r="1.25"/>
<circle cx="268.0" cy="380.4" r="1.25"/>
<circle cx="268.9" cy="379.4" r="1.25"/>
<circle cx="269.7" cy="378.3" r="1.25"/>
<circle cx="270.6" cy="377.2" r="1.25"/>
<circle cx="271.4" cy="376.1" r="1.25"/>
<circle cx="272.3" cy="374.9" r="1.25"/>
<circle cx="273.1" cy="373.6" r="1.25"/>
<circle cx="274.0" cy="372.3" r="1.25"/>
<circle cx="274.8" cy="371.1" r="1.25"/>
<circle cx="275.7" cy="369.8" r="1.25"/>
<circle cx="276.5" cy="368.6" r="1.25"/>
<circle cx="277.4" cy="367.4" r="1.25"/>
<circle cx="278.2" cy="366.2" r="1.25"/>
<circle cx="279.1" cy="365.1" r="1.25"/>
<circle cx="279.9" cy="364.1" r="1.25"/>
<circle cx="280.8" cy="363.1" r="1.25"/>
<circle cx="281.6" cy="362.0" r="1.25"/>
<circle cx="282.5" cy="361.1" r="1.25"/>
<circle cx="283.3" cy="360.1" r="1.25"/>
<circle cx="284.2" cy="359.1" r="1.25"/>
<circle cx="285.0" cy="358.2" r="1.25"/>
<circle cx="285.9" cy="357.4" r="1.25"/>
<circle cx="286.7" cy="356.6" r="1.25"/>
<circle cx="287.6" cy="355.8" r="1.25"/>
<circle cx="288.4" cy="355.1" r="1.25"/>
<circle cx="289.3" cy="354.5" r="1.25"/>
<circle cx="290.1" cy="353.9" r="1.25"/>
<circle cx="291.0" cy="353.4" r="1.25"/>
<circle cx="291.8" cy="352.8" r="1.25"/>
<circle cx="292.7" cy="352.3" r="1.25"/>
<circle cx="293.5" cy="351.7" r="1.25"/>
<circle cx="294.4" cy="351.3" r="1.25"/>
<circle cx="295.2" cy="350.8" r="1.25"/>
<circle cx="296.1" cy="350.4" r="1.25"/>
<circle cx="296.9" cy="350.0" r="1.25"/>
<circle cx="297.8" cy="349.6" r="1.25"/>
<circle cx="298.6" cy="349.4" r="1.25"/>
<circle cx="299.5" cy="349.2" r="1.25"/>
<circle cx="300.3" cy="349.0" r="1.25"/>
<circle cx="301.2" cy="349.0" r="1.25"/>
<circle cx="302.0" cy="349.1" r="1.25"/>
<circle cx="302.9" cy="349.4" r="1.25"/>
<circle cx="303.7" cy="349.8" r="1.25"/>
<circle cx="304.6" cy="350.3" r="1.25"/>
<circle cx="305.4" cy="350.8" r="1.25"/>
<circle cx="306.3" cy="351.5" r="1.25"/>
<circle cx="307.1" cy="352.2" r="1.25"/>
<circle cx="308.0" cy="353.0" r="1.25"/>
<circle cx="308.8" cy="353.8" r="1.25"/>
<circle cx="309.7" cy="354.7" r="1.25"/>
<circle cx="310.5" cy="355.6" r="1.25"/>
<circle cx="311.4" cy="356.6" r="1.25"/>
<circle cx="312.2" cy="357.7" r="1.25"/>
<circle cx="313.1" cy="358.9" r="1.25"/>
<circle cx="313.9" cy="360.2" r="1.25"/>
<circle cx="314.8" cy="361.7" r="1.25"/>
<circle cx="315.6" cy="363.2" r="1.25"/>
<circle cx="316.5" cy="364.8" r="1.25"/>
<circle cx="317.3" cy="366.5" r="1.25"/>
<circle cx="318.2" cy="368.3" r="1.25"/>
<circle cx="319.0" cy="370.0" r="1.25"/>
<circle cx="319.9" cy="371.8" r="1.25"/>
<circle cx="320.7" cy="373.7" r="1.25"/>
<circle cx="321.6" cy="375.8" r="1.25"/>
<circle cx="322.4" cy="378.3" r="1.25"/>
<circle cx="323.3" cy="380.6" r="1.25"/>
<circle cx="324.1" cy="382.7" r="1.25"/>
<circle cx="325.0" cy="384.4" r="1.25"/>
<circle cx="325.8" cy="385.8" r="1.25"/>
<circle cx="326.7" cy="386.9" r="1.25"/>
<circle cx="327.5" cy="387.7" r="1.25"/>
<circle cx="328.4" cy="388.5" r="1.25"/>
<circle cx="329.2" cy="389.1" r="1.25"/>
<circle cx="330.1" cy="389.8" r="1.25"/>
<circle cx="330.9" cy="390.3" r="1.25"/>
<circle cx="331.8" cy="390.9" r="1.25"/>
<circle cx="332.6" cy="391.4" r="1.25"/>
<circle cx="333.5" cy="391.8" r="1.25"/>
<circle cx="334.3" cy="392.0" r="1.25"/>
</g>
<path d="M172.0 390.0 L172.3 390.0 L172.6 390.0 L172.9 389.9 L173.1 389.9 L173.4 389.9 L173.7 389.8 L174.0 389.8 L174.3 389.7 L174.5 389.7 L174.8 389.6 L175.1 389.5 L175.3 389.5 L175.6 389.4 L175.9 389.3 L176.1 389.3 L176.4 389.2 L176.6 389.1 L176.9 389.0 L177.1 388.9 L177.4 388.9 L177.6 388.8 L177.8 388.7 L178.1 388.6 L178.3 388.5 L178.5 388.4 L178.7 388.3 L178.9 388.2 L179.2 388.1 L179.4 388.0 L179.6 387.9 L179.8 387.8 L180.0 387.7 L180.1 387.6 L180.3 387.4 L180.5 387.3 L180.7 387.2 L180.9 387.1 L181.0 387.0 L181.2 386.9 L181.3 386.7 L181.5 386.6 L181.7 386.5 L181.8 386.3 L182.0 386.2 L182.1 386.0 L182.3 385.8 L182.4 385.7 L182.6 385.5 L182.7 385.3 L182.9 385.1 L183.0 384.9 L183.2 384.7 L183.3 384.5 L183.5 384.3 L183.6 384.1 L183.7 383.9 L183.9 383.6 L184.0 383.4 L184.1 383.2 L184.3 382.9 L184.4 382.7 L184.5 382.5 L184.7 382.2 L184.8 382.0 L184.9 381.7 L185.0 381.5 L185.1 381.2 L185.3 381.0 L185.4 380.7 L185.5 380.5 L185.6 380.2 L185.7 380.0 L185.8 379.7 L185.9 379.5 L186.0 379.2 L186.1 378.9 L186.2 378.7 L186.3 378.4 L186.4 378.2 L186.4 377.9 L186.5 377.7 L186.6 377.4 L186.7 377.2 L186.7 376.9 L186.8 376.7 L186.9 376.5 L186.9 376.2 L187.0 376.0 L187.1 375.8 L187.1 375.5 L187.2 375.3 L187.2 375.1 L187.3 374.8 L187.3 374.6 L187.4 374.4 L187.4 374.1 L187.5 373.9 L187.5 373.6 L187.6 373.4 L187.6 373.2 L187.7 372.9 L187.7 372.7 L187.7 372.4 L187.8 372.2 L187.8 372.0 L187.9 371.7 L187.9 371.5 L187.9 371.2 L188.0 371.0 L188.0 370.7 L188.1 370.5 L188.1 370.2 L188.1 370.0 L188.2 369.7 L188.2 369.5 L188.2 369.3 L188.3 369.0 L188.3 368.8 L188.3 368.5 L188.4 368.3 L188.4 368.0 L188.4 367.8 L188.5 367.5 L188.5 367.3 L188.5 367.0 L188.5 366.8 L188.6 366.5 L188.6 366.3 L188.6 366.0 L188.7 365.8 L188.7 365.5 L188.7 365.2 L188.7 365.0 L188.8 364.7 L188.8 364.5 L188.8 364.2 L188.9 364.0 L188.9 363.7 L188.9 363.5 L188.9 363.2 L189.0 363.0 L189.0 362.7 L189.0 362.5 L189.0 362.2 L189.1 362.0 L189.1 361.7 L189.1 361.5 L189.2 361.2 L189.2 360.9 L189.2 360.7 L189.2 360.4 L189.3 360.2 L189.3 359.9 L189.3 359.7 L189.4 359.4 L189.4 359.2 L189.4 358.9 L189.5 358.7 L189.5 358.4 L189.5 358.2 L189.6 357.9 L189.6 357.7 L189.6 357.4 L189.7 357.2 L189.7 356.9 L189.7 356.7 L189.8 356.4 L189.8 356.2 L189.8 355.9 L189.9 355.7 L189.9 355.4 L190.0 355.2 L190.0 354.9 L190.1 354.7 L190.1 354.4 L190.1 354.2 L190.2 354.0 L190.2 353.7 L190.3 353.5 L190.3 353.2 L190.3 353.0 L190.4 352.7 L190.4 352.5 L190.5 352.2 L190.5 352.0 L190.5 351.7 L190.6 351.5 L190.6 351.2 L190.7 351.0 L190.7 350.7 L190.8 350.5 L190.8 350.2 L190.8 350.0 L190.9 349.7 L190.9 349.5 L191.0 349.2 L191.0 349.0 L191.1 348.7 L191.1 348.5 L191.1 348.3 L191.2 348.0 L191.2 347.8 L191.3 347.5 L191.3 347.3 L191.4 347.0 L191.4 346.8 L191.5 346.5 L191.5 346.3 L191.6 346.0 L191.6 345.8 L191.7 345.5 L191.7 345.3 L191.8 345.0 L191.8 344.8 L191.9 344.6 L191.9 344.3 L192.0 344.1 L192.0 343.8 L192.1 343.6 L192.1 343.3 L192.2 343.1 L192.3 342.9 L192.3 342.6 L192.4 342.4 L192.4 342.1 L192.5 341.9 L192.6 341.6 L192.6 341.4 L192.7 341.2 L192.7 340.9 L192.8 340.7 L192.9 340.4 L192.9 340.2 L193.0 340.0 L193.1 339.7 L193.2 339.5 L193.2 339.2 L193.3 338.9 L193.4 338.6 L193.5 338.3 L193.6 338.0 L193.7 337.7 L193.8 337.3 L193.9 337.0 L194.0 336.8 L194.1 336.5 L194.2 336.2 L194.3 336.0 L194.4 335.7 L194.5 335.5 L194.6 335.4 L194.7 335.2 L194.8 335.1 L194.9 335.0 L195.0 335.0 L195.0 335.0 L195.1 335.0 L195.2 335.1 L195.3 335.1 L195.4 335.2 L195.4 335.4 L195.5 335.5 L195.6 335.6 L195.6 335.8 L195.7 336.0 L195.8 336.2 L195.8 336.4 L195.9 336.6 L196.0 336.9 L196.0 337.1 L196.1 337.4 L196.1 337.6 L196.2 337.9 L196.3 338.2 L196.3 338.5 L196.4 338.8 L196.4 339.1 L196.5 339.4 L196.6 339.7 L196.6 340.1 L196.7 340.4 L196.8 340.7 L196.8 341.0 L196.9 341.3 L197.0 341.7 L197.0 342.0 L197.1 342.3 L197.2 342.6 L197.3 342.9 L197.4 343.2 L197.4 343.5 L197.5 343.7 L197.6 344.0 L197.7 344.3 L197.8 344.5 L197.9 344.8 L198.0 345.0 L198.1 345.2 L198.2 345.4 L198.3 345.7 L198.4 345.9 L198.6 346.2 L198.7 346.4 L198.8 346.7 L199.0 346.9 L199.1 347.2 L199.3 347.5 L199.4 347.7 L199.6 348.0 L199.7 348.2 L199.9 348.4 L200.0 348.7 L200.2 348.9 L200.4 349.1 L200.6 349.3 L200.7 349.4 L200.9 349.6 L201.1 349.7 L201.3 349.8 L201.5 349.9 L201.7 350.0 L201.9 350.0 L202.1 350.0 L202.3 350.0 L202.5 350.0 L202.7 350.0 L202.9 350.0 L203.2 350.0 L203.4 350.0 L203.7 350.0 L203.9 350.0 L204.2 350.0 L204.5 350.0 L204.7 350.0 L205.0 350.0 L205.3 350.0 L205.5 350.0 L205.8 350.0 L206.1 350.0 L206.3 350.0 L206.6 350.0 L206.8 350.0 L207.1 350.0 L207.3 350.0 L207.6 350.0 L207.8 350.1 L208.0 350.1 L208.3 350.2 L208.5 350.3 L208.8 350.3 L209.0 350.4 L209.2 350.5 L209.5 350.6 L209.7 350.8 L210.0 350.9 L210.2 351.0 L210.4 351.1 L210.7 351.3 L210.9 351.4 L211.1 351.6 L211.3 351.7 L211.5 351.9 L211.8 352.0 L212.0 352.2 L212.2 352.3 L212.4 352.5 L212.6 352.6 L212.7 352.8 L212.9 352.9 L213.1 353.1 L213.3 353.2 L213.4 353.4 L213.6 353.5 L213.7 353.7 L213.9 353.8 L214.1 354.0 L214.2 354.2 L214.4 354.4 L214.5 354.5 L214.7 354.7 L214.8 354.9 L214.9 355.1 L215.1 355.3 L215.2 355.5 L215.4 355.7 L215.5 355.9 L215.6 356.1 L215.8 356.3 L215.9 356.5 L216.0 356.7 L216.2 356.9 L216.3 357.2 L216.4 357.4 L216.5 357.6 L216.7 357.8 L216.8 358.1 L216.9 358.3 L217.0 358.5 L217.2 358.7 L217.3 359.0 L217.4 359.2 L217.5 359.4 L217.6 359.7 L217.8 359.9 L217.9 360.1 L218.0 360.4 L218.1 360.6 L218.2 360.8 L218.3 361.1 L218.5 361.3 L218.6 361.6 L218.7 361.8 L218.8 362.0 L218.9 362.3 L219.1 362.5 L219.2 362.7 L219.3 363.0 L219.4 363.2 L219.5 363.4 L219.7 363.7 L219.8 363.9 L219.9 364.1 L220.0 364.4 L220.2 364.6 L220.3 364.8 L220.4 365.0 L220.5 365.2 L220.7 365.5 L220.8 365.7 L220.9 365.9 L221.1 366.1 L221.2 366.3 L221.3 366.5 L221.5 366.7 L221.6 366.9 L221.7 367.2 L221.9 367.4 L222.0 367.6 L222.1 367.8 L222.3 368.0 L222.4 368.2 L222.6 368.4 L222.7 368.6 L222.8 368.8 L223.0 369.1 L223.1 369.3 L223.2 369.5 L223.4 369.7 L223.5 369.9 L223.6 370.1 L223.8 370.3 L223.9 370.5 L224.0 370.7 L224.2 371.0 L224.3 371.2 L224.5 371.4 L224.6 371.6 L224.7 371.8 L224.9 372.0 L225.0 372.2 L225.1 372.4 L225.3 372.6 L225.4 372.8 L225.6 373.0 L225.7 373.3 L225.8 373.5 L226.0 373.7 L226.1 373.9 L226.3 374.1 L226.4 374.3 L226.5 374.5 L226.7 374.7 L226.8 374.9 L227.0 375.1 L227.1 375.3 L227.2 375.5 L227.4 375.7 L227.5 375.9 L227.7 376.1 L227.8 376.3 L228.0 376.6 L228.1 376.8 L228.2 377.0 L228.4 377.2 L228.5 377.4 L228.7 377.6 L228.8 377.8 L229.0 378.0 L229.1 378.2 L229.3 378.4 L229.4 378.6 L229.6 378.8 L229.7 379.0 L229.9 379.2 L230.0 379.4 L230.1 379.6 L230.3 379.9 L230.4 380.1 L230.6 380.3 L230.7 380.5 L230.9 380.7 L231.0 380.9 L231.2 381.2 L231.3 381.4 L231.4 381.6 L231.6 381.8 L231.7 382.0 L231.9 382.2 L232.0 382.5 L232.2 382.7 L232.3 382.9 L232.5 383.1 L232.6 383.3 L232.8 383.5 L232.9 383.7 L233.1 383.9 L233.2 384.2 L233.4 384.4 L233.5 384.6 L233.7 384.8 L233.9 385.0 L234.0 385.2 L234.2 385.3 L234.3 385.5 L234.5 385.7 L234.7 385.9 L234.8 386.1 L235.0 386.3 L235.2 386.4 L235.3 386.6 L235.5 386.8 L235.7 386.9 L235.8 387.1 L236.0 387.3 L236.2 387.4 L236.4 387.6 L236.6 387.7 L236.8 387.8 L236.9 388.0 L237.1 388.1 L237.3 388.2 L237.5 388.4 L237.7 388.5 L237.9 388.6 L238.2 388.8 L238.4 388.9 L238.6 389.0 L238.8 389.2 L239.1 389.3 L239.3 389.4 L239.5 389.6 L239.8 389.7 L240.0 389.8 L240.2 389.9 L240.5 390.0 L240.7 390.2 L241.0 390.3 L241.2 390.4 L241.4 390.5 L241.7 390.5 L241.9 390.6 L242.2 390.7 L242.4 390.8 L242.7 390.8 L242.9 390.9 L243.1 390.9 L243.4 391.0 L243.6 391.0 L243.8 391.0 L244.1 391.0 L244.3 391.0 L244.5 391.0 L244.8 390.9 L245.0 390.9 L245.2 390.8 L245.5 390.8 L245.7 390.7 L246.0 390.6 L246.2 390.5 L246.5 390.4 L246.7 390.3 L247.0 390.1 L247.2 390.0 L247.5 389.9 L247.7 389.7 L247.9 389.6 L248.2 389.5 L248.4 389.3 L248.6 389.2 L248.8 389.0 L249.0 388.8 L249.2 388.7 L249.4 388.5 L249.6 388.4 L249.8 388.2 L249.9 388.1 L250.1 387.9 L250.2 387.8 L250.4 387.6 L250.5 387.4 L250.6 387.3 L250.8 387.1 L250.9 386.9 L251.0 386.7 L251.1 386.5 L251.3 386.3 L251.4 386.1 L251.5 385.8 L251.6 385.6 L251.7 385.4 L251.8 385.2 L251.9 384.9 L252.0 384.7 L252.1 384.4 L252.2 384.2 L252.3 384.0 L252.4 383.7 L252.5 383.5 L252.6 383.2 L252.7 383.0 L252.8 382.7 L252.9 382.5 L253.0 382.2 L253.1 382.0 L253.2 381.7 L253.3 381.5 L253.4 381.2 L253.5 381.0 L253.6 380.8 L253.7 380.5 L253.9 380.3 L254.0 380.1 L254.1 379.8 L254.2 379.6 L254.3 379.4 L254.4 379.2 L254.5 378.9 L254.6 378.7 L254.8 378.5 L254.9 378.3 L255.0 378.1 L255.1 377.8 L255.2 377.6 L255.3 377.4 L255.4 377.2 L255.5 376.9 L255.6 376.7 L255.8 376.5 L255.9 376.3 L256.0 376.0 L256.1 375.8 L256.2 375.6 L256.3 375.4 L256.4 375.1 L256.5 374.9 L256.7 374.7 L256.8 374.5 L256.9 374.2 L257.0 374.0 L257.1 373.8 L257.2 373.6 L257.3 373.3 L257.4 373.1 L257.5 372.9 L257.6 372.7 L257.7 372.4 L257.9 372.2 L258.0 372.0 L258.1 371.8 L258.2 371.5 L258.3 371.3 L258.4 371.1 L258.5 370.8 L258.6 370.6 L258.7 370.4 L258.8 370.1 L258.9 369.9 L259.0 369.7 L259.1 369.5 L259.2 369.2 L259.3 369.0 L259.5 368.8 L259.6 368.6 L259.7 368.3 L259.8 368.1 L259.9 367.9 L260.0 367.7 L260.1 367.5 L260.3 367.2 L260.4 367.0 L260.5 366.8 L260.6 366.6 L260.8 366.4 L260.9 366.2 L261.0 366.0 L261.2 365.8 L261.3 365.5 L261.4 365.3 L261.6 365.1 L261.7 364.9 L261.8 364.7 L262.0 364.4 L262.1 364.2 L262.3 364.0 L262.4 363.7 L262.6 363.5 L262.7 363.3 L262.9 363.1 L263.0 362.9 L263.2 362.6 L263.3 362.4 L263.5 362.2 L263.7 362.0 L263.8 361.8 L264.0 361.6 L264.2 361.4 L264.3 361.2 L264.5 361.1 L264.7 360.9 L264.9 360.7 L265.0 360.6 L265.2 360.5 L265.4 360.3 L265.6 360.2 L265.8 360.1 L266.0 360.0 L266.2 359.9 L266.4 359.8 L266.6 359.7 L266.9 359.7 L267.1 359.6 L267.4 359.5 L267.6 359.4 L267.9 359.3 L268.1 359.3 L268.4 359.2 L268.7 359.2 L268.9 359.1 L269.2 359.1 L269.4 359.0 L269.6 359.0 L269.9 359.0 L270.1 359.0 L270.3 359.0 L270.5 359.0 L270.8 359.1 L271.0 359.1 L271.2 359.2 L271.4 359.2 L271.6 359.3 L271.8 359.4 L272.0 359.5 L272.2 359.6 L272.4 359.7 L272.6 359.8 L272.8 359.9 L273.0 360.1 L273.2 360.2 L273.4 360.4 L273.6 360.5 L273.8 360.7 L274.0 360.8 L274.2 361.0 L274.4 361.2 L274.6 361.4 L274.8 361.5 L275.0 361.7 L275.2 361.9 L275.4 362.1 L275.6 362.3 L275.8 362.5 L276.0 362.7 L276.1 362.9 L276.3 363.1 L276.5 363.3 L276.7 363.5 L276.9 363.7 L277.1 364.0 L277.3 364.2 L277.5 364.4 L277.6 364.6 L277.8 364.8 L278.0 365.0 L278.2 365.2 L278.4 365.4 L278.6 365.6 L278.8 365.8 L278.9 366.0 L279.1 366.2 L279.3 366.4 L279.5 366.5 L279.7 366.7 L279.9 366.9 L280.1 367.0 L280.2 367.2 L280.4 367.4 L280.6 367.5 L280.8 367.7 L281.0 367.9 L281.2 368.1 L281.3 368.2 L281.5 368.4 L281.7 368.6 L281.9 368.8 L282.1 368.9 L282.2 369.1 L282.4 369.3 L282.6 369.5 L282.8 369.6 L282.9 369.8 L283.1 370.0 L283.3 370.2 L283.5 370.4 L283.6 370.5 L283.8 370.7 L284.0 370.9 L284.2 371.1 L284.3 371.3 L284.5 371.4 L284.7 371.6 L284.8 371.8 L285.0 372.0 L285.2 372.2 L285.4 372.4 L285.5 372.5 L285.7 372.7 L285.9 372.9 L286.0 373.1 L286.2 373.3 L286.4 373.5 L286.6 373.6 L286.7 373.8 L286.9 374.0 L287.1 374.2 L287.3 374.4 L287.4 374.6 L287.6 374.7 L287.8 374.9 L287.9 375.1 L288.1 375.3 L288.3 375.5 L288.5 375.6 L288.6 375.8 L288.8 376.0 L289.0 376.2 L289.2 376.4 L289.4 376.5 L289.5 376.7 L289.7 376.9 L289.9 377.1 L290.1 377.2 L290.2 377.4 L290.4 377.6 L290.6 377.7 L290.8 377.9 L291.0 378.1 L291.2 378.3 L291.3 378.4 L291.5 378.6 L291.7 378.8 L291.9 378.9 L292.1 379.1 L292.3 379.2 L292.5 379.4 L292.7 379.6 L292.8 379.7 L293.0 379.9 L293.2 380.1 L293.4 380.2 L293.6 380.4 L293.8 380.5 L294.0 380.7 L294.2 380.9 L294.4 381.0 L294.6 381.2 L294.8 381.4 L294.9 381.5 L295.1 381.7 L295.3 381.9 L295.5 382.0 L295.7 382.2 L295.9 382.3 L296.1 382.5 L296.3 382.7 L296.5 382.8 L296.7 383.0 L296.9 383.2 L297.1 383.3 L297.3 383.5 L297.5 383.6 L297.7 383.8 L297.9 383.9 L298.1 384.1 L298.3 384.3 L298.5 384.4 L298.7 384.6 L298.9 384.7 L299.1 384.9 L299.3 385.0 L299.5 385.2 L299.7 385.3 L299.9 385.5 L300.1 385.6 L300.3 385.7 L300.5 385.9 L300.7 386.0 L300.9 386.2 L301.1 386.3 L301.4 386.4 L301.6 386.6 L301.8 386.7 L302.0 386.8 L302.2 387.0 L302.4 387.1 L302.6 387.2 L302.8 387.3 L303.0 387.5 L303.3 387.6 L303.5 387.7 L303.7 387.8 L303.9 387.9 L304.1 388.1 L304.3 388.2 L304.5 388.3 L304.8 388.4 L305.0 388.5 L305.2 388.7 L305.4 388.8 L305.7 388.9 L305.9 389.0 L306.1 389.2 L306.3 389.3 L306.6 389.4 L306.8 389.5 L307.0 389.7 L307.2 389.8 L307.5 389.9 L307.7 390.0 L307.9 390.1 L308.2 390.3 L308.4 390.4 L308.6 390.5 L308.9 390.6 L309.1 390.7 L309.3 390.8 L309.6 390.9 L309.8 391.0 L310.0 391.1 L310.3 391.2 L310.5 391.3 L310.8 391.4 L311.0 391.5 L311.2 391.6 L311.5 391.6 L311.7 391.7 L312.0 391.7 L312.2 391.8 L312.4 391.8 L312.7 391.9 L312.9 391.9 L313.2 392.0 L313.4 392.0 L313.6 392.0 L313.9 392.0 L314.1 392.0 L314.4 392.0 L314.6 392.0 L314.9 392.0 L315.1 392.0 L315.4 392.0 L315.6 392.0 L315.9 392.0 L316.1 392.0 L316.4 392.0 L316.6 392.0 L316.9 392.0 L317.1 392.0 L317.4 392.0 L317.6 392.0 L317.9 392.0 L318.2 392.0 L318.4 392.0 L318.7 392.0 L318.9 392.0 L319.2 392.0 L319.4 392.0 L319.7 392.0 L319.9 392.0 L320.2 392.0 L320.4 392.0 L320.7 392.0 L320.9 392.0 L321.2 392.0 L321.4 392.0 L321.7 392.0 L321.9 392.0 L322.1 392.0 L322.4 392.0 L322.6 392.0 L322.8 392.0 L323.0 391.9 L323.3 391.9 L323.5 391.9 L323.7 391.8 L324.0 391.8 L324.2 391.7 L324.4 391.7 L324.7 391.6 L324.9 391.5 L325.1 391.5 L325.3 391.4 L325.6 391.3 L325.8 391.2 L326.0 391.1 L326.2 391.0 L326.5 390.9 L326.7 390.8 L326.9 390.7 L327.1 390.6 L327.3 390.5 L327.6 390.4 L327.8 390.2 L328.0 390.1 L328.2 390.0 L328.4 389.8 L328.7 389.7 L328.9 389.5 L329.1 389.4 L329.3 389.2 L329.5 389.1 L329.7 388.9 L329.9 388.8 L330.1 388.6 L330.4 388.4 L330.6 388.3 L330.8 388.1 L331.0 387.9 L331.2 387.7 L331.4 387.5 L331.6 387.4 L331.8 387.2 L332.0 387.0 L332.2 386.8 L332.4 386.6 L332.6 386.4 L332.8 386.2 L333.0 386.0 L333.2 385.8 L333.4 385.6 L333.6 385.4 L333.8 385.2 L334.0 385.0" fill="none" stroke="#ff0000" stroke-width="1.4" stroke-linejoin="round" />
<g fill="#ff0000">
<path d="M172.3 388.1 l1.9 1.9 l-1.9 1.9 l-1.9 -1.9 z"/>
<path d="M173.2 388.0 l1.9 1.9 l-1.9 1.9 l-1.9 -1.9 z"/>
<path d="M174.0 387.9 l1.9 1.9 l-1.9 1.9 l-1.9 -1.9 z"/>
<path d="M174.8 387.7 l1.9 1.9 l-1.9 1.9 l-1.9 -1.9 z"/>
<path d="M175.7 387.5 l1.9 1.9 l-1.9 1.9 l-1.9 -1.9 z"/>
<path d="M176.5 387.2 l1.9 1.9 l-1.9 1.9 l-1.9 -1.9 z"/>
<path d="M177.4 386.9 l1.9 1.9 l-1.9 1.9 l-1.9 -1.9 z"/>
<path d="M178.2 386.6 l1.9 1.9 l-1.9 1.9 l-1.9 -1.9 z"/>
<path d="M179.1 386.2 l1.9 1.9 l-1.9 1.9 l-1.9 -1.9 z"/>
<path d="M179.9 385.8 l1.9 1.9 l-1.9 1.9 l-1.9 -1.9 z"/>
<path d="M180.8 385.2 l1.9 1.9 l-1.9 1.9 l-1.9 -1.9 z"/>
<path d="M181.6 384.6 l1.9 1.9 l-1.9 1.9 l-1.9 -1.9 z"/>
<path d="M182.5 383.7 l1.9 1.9 l-1.9 1.9 l-1.9 -1.9 z"/>
<path d="M183.3 382.6 l1.9 1.9 l-1.9 1.9 l-1.9 -1.9 z"/>
<path d="M184.2 381.2 l1.9 1.9 l-1.9 1.9 l-1.9 -1.9 z"/>
<path d="M185.0 379.5 l1.9 1.9 l-1.9 1.9 l-1.9 -1.9 z"/>
<path d="M185.9 377.5 l1.9 1.9 l-1.9 1.9 l-1.9 -1.9 z"/>
<path d="M186.7 375.0 l1.9 1.9 l-1.9 1.9 l-1.9 -1.9 z"/>
<path d="M187.6 371.3 l1.9 1.9 l-1.9 1.9 l-1.9 -1.9 z"/>
<path d="M188.4 365.6 l1.9 1.9 l-1.9 1.9 l-1.9 -1.9 z"/>
<path d="M189.3 358.1 l1.9 1.9 l-1.9 1.9 l-1.9 -1.9 z"/>
<path d="M190.1 352.2 l1.9 1.9 l-1.9 1.9 l-1.9 -1.9 z"/>
<path d="M191.0 347.2 l1.9 1.9 l-1.9 1.9 l-1.9 -1.9 z"/>
<path d="M191.8 342.8 l1.9 1.9 l-1.9 1.9 l-1.9 -1.9 z"/>
<path d="M192.7 339.2 l1.9 1.9 l-1.9 1.9 l-1.9 -1.9 z"/>
<path d="M193.5 336.2 l1.9 1.9 l-1.9 1.9 l-1.9 -1.9 z"/>
<path d="M194.4 333.9 l1.9 1.9 l-1.9 1.9 l-1.9 -1.9 z"/>
<path d="M195.2 333.2 l1.9 1.9 l-1.9 1.9 l-1.9 -1.9 z"/>
<path d="M196.1 335.6 l1.9 1.9 l-1.9 1.9 l-1.9 -1.9 z"/>
<path d="M196.9 339.6 l1.9 1.9 l-1.9 1.9 l-1.9 -1.9 z"/>
<path d="M197.8 342.6 l1.9 1.9 l-1.9 1.9 l-1.9 -1.9 z"/>
<path d="M198.6 344.4 l1.9 1.9 l-1.9 1.9 l-1.9 -1.9 z"/>
<path d="M199.5 346.0 l1.9 1.9 l-1.9 1.9 l-1.9 -1.9 z"/>
<path d="M200.3 347.1 l1.9 1.9 l-1.9 1.9 l-1.9 -1.9 z"/>
<path d="M201.2 347.9 l1.9 1.9 l-1.9 1.9 l-1.9 -1.9 z"/>
<path d="M202.0 348.1 l1.9 1.9 l-1.9 1.9 l-1.9 -1.9 z"/>
<path d="M202.9 348.1 l1.9 1.9 l-1.9 1.9 l-1.9 -1.9 z"/>
<path d="M203.7 348.1 l1.9 1.9 l-1.9 1.9 l-1.9 -1.9 z"/>
<path d="M204.6 348.1 l1.9 1.9 l-1.9 1.9 l-1.9 -1.9 z"/>
<path d="M205.4 348.1 l1.9 1.9 l-1.9 1.9 l-1.9 -1.9 z"/>
<path d="M206.3 348.1 l1.9 1.9 l-1.9 1.9 l-1.9 -1.9 z"/>
<path d="M207.1 348.1 l1.9 1.9 l-1.9 1.9 l-1.9 -1.9 z"/>
<path d="M208.0 348.2 l1.9 1.9 l-1.9 1.9 l-1.9 -1.9 z"/>
<path d="M208.8 348.5 l1.9 1.9 l-1.9 1.9 l-1.9 -1.9 z"/>
<path d="M209.7 348.8 l1.9 1.9 l-1.9 1.9 l-1.9 -1.9 z"/>
<path d="M210.5 349.3 l1.9 1.9 l-1.9 1.9 l-1.9 -1.9 z"/>
<path d="M211.4 349.9 l1.9 1.9 l-1.9 1.9 l-1.9 -1.9 z"/>
<path d="M212.2 350.5 l1.9 1.9 l-1.9 1.9 l-1.9 -1.9 z"/>
<path d="M213.1 351.2 l1.9 1.9 l-1.9 1.9 l-1.9 -1.9 z"/>
<path d="M213.9 352.0 l1.9 1.9 l-1.9 1.9 l-1.9 -1.9 z"/>
<path d="M214.8 353.0 l1.9 1.9 l-1.9 1.9 l-1.9 -1.9 z"/>
<path d="M215.6 354.2 l1.9 1.9 l-1.9 1.9 l-1.9 -1.9 z"/>
<path d="M216.5 355.6 l1.9 1.9 l-1.9 1.9 l-1.9 -1.9 z"/>
<path d="M217.3 357.2 l1.9 1.9 l-1.9 1.9 l-1.9 -1.9 z"/>
<path d="M218.2 358.9 l1.9 1.9 l-1.9 1.9 l-1.9 -1.9 z"/>
<path d="M219.0 360.6 l1.9 1.9 l-1.9 1.9 l-1.9 -1.9 z"/>
<path d="M219.9 362.2 l1.9 1.9 l-1.9 1.9 l-1.9 -1.9 z"/>
<path d="M220.7 363.7 l1.9 1.9 l-1.9 1.9 l-1.9 -1.9 z"/>
<path d="M221.6 365.0 l1.9 1.9 l-1.9 1.9 l-1.9 -1.9 z"/>
<path d="M222.4 366.4 l1.9 1.9 l-1.9 1.9 l-1.9 -1.9 z"/>
<path d="M223.3 367.7 l1.9 1.9 l-1.9 1.9 l-1.9 -1.9 z"/>
<path d="M224.1 369.0 l1.9 1.9 l-1.9 1.9 l-1.9 -1.9 z"/>
<path d="M225.0 370.3 l1.9 1.9 l-1.9 1.9 l-1.9 -1.9 z"/>
<path d="M225.8 371.6 l1.9 1.9 l-1.9 1.9 l-1.9 -1.9 z"/>
<path d="M226.7 372.8 l1.9 1.9 l-1.9 1.9 l-1.9 -1.9 z"/>
<path d="M227.5 374.1 l1.9 1.9 l-1.9 1.9 l-1.9 -1.9 z"/>
<path d="M228.4 375.3 l1.9 1.9 l-1.9 1.9 l-1.9 -1.9 z"/>
<path d="M229.2 376.4 l1.9 1.9 l-1.9 1.9 l-1.9 -1.9 z"/>
<path d="M230.1 377.7 l1.9 1.9 l-1.9 1.9 l-1.9 -1.9 z"/>
<path d="M230.9 378.9 l1.9 1.9 l-1.9 1.9 l-1.9 -1.9 z"/>
<path d="M231.8 380.2 l1.9 1.9 l-1.9 1.9 l-1.9 -1.9 z"/>
<path d="M232.6 381.5 l1.9 1.9 l-1.9 1.9 l-1.9 -1.9 z"/>
<path d="M233.5 382.6 l1.9 1.9 l-1.9 1.9 l-1.9 -1.9 z"/>
<path d="M234.3 383.7 l1.9 1.9 l-1.9 1.9 l-1.9 -1.9 z"/>
<path d="M235.2 384.6 l1.9 1.9 l-1.9 1.9 l-1.9 -1.9 z"/>
<path d="M236.0 385.4 l1.9 1.9 l-1.9 1.9 l-1.9 -1.9 z"/>
<path d="M236.9 386.0 l1.9 1.9 l-1.9 1.9 l-1.9 -1.9 z"/>
<path d="M237.7 386.6 l1.9 1.9 l-1.9 1.9 l-1.9 -1.9 z"/>
<path d="M238.6 387.1 l1.9 1.9 l-1.9 1.9 l-1.9 -1.9 z"/>
<path d="M239.4 387.6 l1.9 1.9 l-1.9 1.9 l-1.9 -1.9 z"/>
<path d="M240.3 388.1 l1.9 1.9 l-1.9 1.9 l-1.9 -1.9 z"/>
<path d="M241.1 388.4 l1.9 1.9 l-1.9 1.9 l-1.9 -1.9 z"/>
<path d="M242.0 388.7 l1.9 1.9 l-1.9 1.9 l-1.9 -1.9 z"/>
<path d="M242.8 389.0 l1.9 1.9 l-1.9 1.9 l-1.9 -1.9 z"/>
<path d="M243.7 389.1 l1.9 1.9 l-1.9 1.9 l-1.9 -1.9 z"/>
<path d="M244.5 389.1 l1.9 1.9 l-1.9 1.9 l-1.9 -1.9 z"/>
<path d="M245.4 388.9 l1.9 1.9 l-1.9 1.9 l-1.9 -1.9 z"/>
<path d="M246.2 388.6 l1.9 1.9 l-1.9 1.9 l-1.9 -1.9 z"/>
<path d="M247.1 388.2 l1.9 1.9 l-1.9 1.9 l-1.9 -1.9 z"/>
<path d="M247.9 387.7 l1.9 1.9 l-1.9 1.9 l-1.9 -1.9 z"/>
<path d="M248.8 387.1 l1.9 1.9 l-1.9 1.9 l-1.9 -1.9 z"/>
<path d="M249.6 386.4 l1.9 1.9 l-1.9 1.9 l-1.9 -1.9 z"/>
<path d="M250.5 385.5 l1.9 1.9 l-1.9 1.9 l-1.9 -1.9 z"/>
<path d="M251.3 384.2 l1.9 1.9 l-1.9 1.9 l-1.9 -1.9 z"/>
<path d="M252.2 382.4 l1.9 1.9 l-1.9 1.9 l-1.9 -1.9 z"/>
<path d="M253.0 380.3 l1.9 1.9 l-1.9 1.9 l-1.9 -1.9 z"/>
<path d="M253.9 378.3 l1.9 1.9 l-1.9 1.9 l-1.9 -1.9 z"/>
<path d="M254.7 376.6 l1.9 1.9 l-1.9 1.9 l-1.9 -1.9 z"/>
<path d="M255.6 374.9 l1.9 1.9 l-1.9 1.9 l-1.9 -1.9 z"/>
<path d="M256.4 373.2 l1.9 1.9 l-1.9 1.9 l-1.9 -1.9 z"/>
<path d="M257.3 371.5 l1.9 1.9 l-1.9 1.9 l-1.9 -1.9 z"/>
<path d="M258.1 369.7 l1.9 1.9 l-1.9 1.9 l-1.9 -1.9 z"/>
<path d="M259.0 367.8 l1.9 1.9 l-1.9 1.9 l-1.9 -1.9 z"/>
<path d="M259.8 366.1 l1.9 1.9 l-1.9 1.9 l-1.9 -1.9 z"/>
<path d="M260.7 364.6 l1.9 1.9 l-1.9 1.9 l-1.9 -1.9 z"/>
<path d="M261.5 363.2 l1.9 1.9 l-1.9 1.9 l-1.9 -1.9 z"/>
<path d="M262.4 361.9 l1.9 1.9 l-1.9 1.9 l-1.9 -1.9 z"/>
<path d="M263.2 360.6 l1.9 1.9 l-1.9 1.9 l-1.9 -1.9 z"/>
<path d="M264.1 359.6 l1.9 1.9 l-1.9 1.9 l-1.9 -1.9 z"/>
<path d="M264.9 358.8 l1.9 1.9 l-1.9 1.9 l-1.9 -1.9 z"/>
<path d="M265.8 358.2 l1.9 1.9 l-1.9 1.9 l-1.9 -1.9 z"/>
<path d="M266.6 357.8 l1.9 1.9 l-1.9 1.9 l-1.9 -1.9 z"/>
<path d="M267.5 357.5 l1.9 1.9 l-1.9 1.9 l-1.9 -1.9 z"/>
<path d="M268.3 357.3 l1.9 1.9 l-1.9 1.9 l-1.9 -1.9 z"/>
<path d="M269.2 357.2 l1.9 1.9 l-1.9 1.9 l-1.9 -1.9 z"/>
<path d="M270.0 357.1 l1.9 1.9 l-1.9 1.9 l-1.9 -1.9 z"/>
<path d="M270.9 357.2 l1.9 1.9 l-1.9 1.9 l-1.9 -1.9 z"/>
<path d="M271.7 357.5 l1.9 1.9 l-1.9 1.9 l-1.9 -1.9 z"/>
<path d="M272.6 357.9 l1.9 1.9 l-1.9 1.9 l-1.9 -1.9 z"/>
<path d="M273.4 358.5 l1.9 1.9 l-1.9 1.9 l-1.9 -1.9 z"/>
<path d="M274.3 359.2 l1.9 1.9 l-1.9 1.9 l-1.9 -1.9 z"/>
<path d="M275.1 360.0 l1.9 1.9 l-1.9 1.9 l-1.9 -1.9 z"/>
<path d="M276.0 360.9 l1.9 1.9 l-1.9 1.9 l-1.9 -1.9 z"/>
<path d="M276.8 361.8 l1.9 1.9 l-1.9 1.9 l-1.9 -1.9 z"/>
<path d="M277.7 362.7 l1.9 1.9 l-1.9 1.9 l-1.9 -1.9 z"/>
<path d="M278.5 363.7 l1.9 1.9 l-1.9 1.9 l-1.9 -1.9 z"/>
<path d="M279.4 364.5 l1.9 1.9 l-1.9 1.9 l-1.9 -1.9 z"/>
<path d="M280.2 365.3 l1.9 1.9 l-1.9 1.9 l-1.9 -1.9 z"/>
<path d="M281.1 366.1 l1.9 1.9 l-1.9 1.9 l-1.9 -1.9 z"/>
<path d="M281.9 366.9 l1.9 1.9 l-1.9 1.9 l-1.9 -1.9 z"/>
<path d="M282.8 367.8 l1.9 1.9 l-1.9 1.9 l-1.9 -1.9 z"/>
<path d="M283.6 368.7 l1.9 1.9 l-1.9 1.9 l-1.9 -1.9 z"/>
<path d="M284.5 369.5 l1.9 1.9 l-1.9 1.9 l-1.9 -1.9 z"/>
<path d="M285.3 370.5 l1.9 1.9 l-1.9 1.9 l-1.9 -1.9 z"/>
<path d="M286.2 371.4 l1.9 1.9 l-1.9 1.9 l-1.9 -1.9 z"/>
<path d="M287.0 372.3 l1.9 1.9 l-1.9 1.9 l-1.9 -1.9 z"/>
<path d="M287.9 373.2 l1.9 1.9 l-1.9 1.9 l-1.9 -1.9 z"/>
<path d="M288.7 374.0 l1.9 1.9 l-1.9 1.9 l-1.9 -1.9 z"/>
<path d="M289.6 374.9 l1.9 1.9 l-1.9 1.9 l-1.9 -1.9 z"/>
<path d="M290.4 375.7 l1.9 1.9 l-1.9 1.9 l-1.9 -1.9 z"/>
<path d="M291.3 376.5 l1.9 1.9 l-1.9 1.9 l-1.9 -1.9 z"/>
<path d="M292.1 377.2 l1.9 1.9 l-1.9 1.9 l-1.9 -1.9 z"/>
<path d="M293.0 378.0 l1.9 1.9 l-1.9 1.9 l-1.9 -1.9 z"/>
<path d="M293.8 378.7 l1.9 1.9 l-1.9 1.9 l-1.9 -1.9 z"/>
<path d="M294.7 379.4 l1.9 1.9 l-1.9 1.9 l-1.9 -1.9 z"/>
<path d="M295.5 380.1 l1.9 1.9 l-1.9 1.9 l-1.9 -1.9 z"/>
<path d="M296.4 380.8 l1.9 1.9 l-1.9 1.9 l-1.9 -1.9 z"/>
<path d="M297.2 381.5 l1.9 1.9 l-1.9 1.9 l-1.9 -1.9 z"/>
<path d="M298.1 382.2 l1.9 1.9 l-1.9 1.9 l-1.9 -1.9 z"/>
<path d="M298.9 382.9 l1.9 1.9 l-1.9 1.9 l-1.9 -1.9 z"/>
<path d="M299.8 383.5 l1.9 1.9 l-1.9 1.9 l-1.9 -1.9 z"/>
<path d="M300.6 384.1 l1.9 1.9 l-1.9 1.9 l-1.9 -1.9 z"/>
<path d="M301.5 384.6 l1.9 1.9 l-1.9 1.9 l-1.9 -1.9 z"/>
<path d="M302.3 385.2 l1.9 1.9 l-1.9 1.9 l-1.9 -1.9 z"/>
<path d="M303.2 385.7 l1.9 1.9 l-1.9 1.9 l-1.9 -1.9 z"/>
<path d="M304.0 386.1 l1.9 1.9 l-1.9 1.9 l-1.9 -1.9 z"/>
<path d="M304.9 386.6 l1.9 1.9 l-1.9 1.9 l-1.9 -1.9 z"/>
<path d="M305.7 387.1 l1.9 1.9 l-1.9 1.9 l-1.9 -1.9 z"/>
<path d="M306.6 387.5 l1.9 1.9 l-1.9 1.9 l-1.9 -1.9 z"/>
<path d="M307.4 388.0 l1.9 1.9 l-1.9 1.9 l-1.9 -1.9 z"/>
<path d="M308.3 388.4 l1.9 1.9 l-1.9 1.9 l-1.9 -1.9 z"/>
<path d="M309.1 388.8 l1.9 1.9 l-1.9 1.9 l-1.9 -1.9 z"/>
<path d="M310.0 389.2 l1.9 1.9 l-1.9 1.9 l-1.9 -1.9 z"/>
<path d="M310.8 389.5 l1.9 1.9 l-1.9 1.9 l-1.9 -1.9 z"/>
<path d="M311.7 389.8 l1.9 1.9 l-1.9 1.9 l-1.9 -1.9 z"/>
<path d="M312.5 390.0 l1.9 1.9 l-1.9 1.9 l-1.9 -1.9 z"/>
<path d="M313.4 390.1 l1.9 1.9 l-1.9 1.9 l-1.9 -1.9 z"/>
<path d="M314.2 390.1 l1.9 1.9 l-1.9 1.9 l-1.9 -1.9 z"/>
<path d="M315.1 390.1 l1.9 1.9 l-1.9 1.9 l-1.9 -1.9 z"/>
<path d="M315.9 390.1 l1.9 1.9 l-1.9 1.9 l-1.9 -1.9 z"/>
<path d="M316.8 390.1 l1.9 1.9 l-1.9 1.9 l-1.9 -1.9 z"/>
<path d="M317.6 390.1 l1.9 1.9 l-1.9 1.9 l-1.9 -1.9 z"/>
<path d="M318.5 390.1 l1.9 1.9 l-1.9 1.9 l-1.9 -1.9 z"/>
<path d="M319.3 390.1 l1.9 1.9 l-1.9 1.9 l-1.9 -1.9 z"/>
<path d="M320.2 390.1 l1.9 1.9 l-1.9 1.9 l-1.9 -1.9 z"/>
<path d="M321.0 390.1 l1.9 1.9 l-1.9 1.9 l-1.9 -1.9 z"/>
<path d="M321.9 390.1 l1.9 1.9 l-1.9 1.9 l-1.9 -1.9 z"/>
<path d="M322.7 390.1 l1.9 1.9 l-1.9 1.9 l-1.9 -1.9 z"/>
<path d="M323.6 390.0 l1.9 1.9 l-1.9 1.9 l-1.9 -1.9 z"/>
<path d="M324.4 389.8 l1.9 1.9 l-1.9 1.9 l-1.9 -1.9 z"/>
<path d="M325.3 389.5 l1.9 1.9 l-1.9 1.9 l-1.9 -1.9 z"/>
<path d="M326.1 389.2 l1.9 1.9 l-1.9 1.9 l-1.9 -1.9 z"/>
<path d="M327.0 388.8 l1.9 1.9 l-1.9 1.9 l-1.9 -1.9 z"/>
<path d="M327.8 388.3 l1.9 1.9 l-1.9 1.9 l-1.9 -1.9 z"/>
<path d="M328.7 387.8 l1.9 1.9 l-1.9 1.9 l-1.9 -1.9 z"/>
<path d="M329.5 387.1 l1.9 1.9 l-1.9 1.9 l-1.9 -1.9 z"/>
<path d="M330.4 386.5 l1.9 1.9 l-1.9 1.9 l-1.9 -1.9 z"/>
<path d="M331.2 385.8 l1.9 1.9 l-1.9 1.9 l-1.9 -1.9 z"/>
<path d="M332.1 385.0 l1.9 1.9 l-1.9 1.9 l-1.9 -1.9 z"/>
<path d="M332.9 384.2 l1.9 1.9 l-1.9 1.9 l-1.9 -1.9 z"/>
<path d="M333.8 383.3 l1.9 1.9 l-1.9 1.9 l-1.9 -1.9 z"/>
<path d="M334.6 383.1 l1.9 1.9 l-1.9 1.9 l-1.9 -1.9 z"/>
</g>
<path d="M172.0 392.0 L172.3 392.0 L172.6 391.9 L172.9 391.8 L173.1 391.8 L173.4 391.7 L173.7 391.7 L174.0 391.6 L174.2 391.5 L174.5 391.4 L174.8 391.4 L175.0 391.3 L175.3 391.2 L175.6 391.1 L175.8 391.0 L176.1 390.9 L176.3 390.8 L176.6 390.7 L176.8 390.6 L177.1 390.5 L177.3 390.4 L177.5 390.3 L177.8 390.2 L178.0 390.1 L178.2 390.0 L178.4 389.9 L178.6 389.7 L178.9 389.6 L179.1 389.5 L179.3 389.4 L179.5 389.2 L179.6 389.1 L179.8 389.0 L180.0 388.9 L180.2 388.7 L180.3 388.6 L180.5 388.5 L180.7 388.3 L180.8 388.2 L181.0 388.0 L181.1 387.9 L181.2 387.8 L181.4 387.6 L181.5 387.5 L181.6 387.3 L181.8 387.1 L181.9 386.9 L182.0 386.8 L182.1 386.6 L182.3 386.4 L182.4 386.2 L182.5 386.0 L182.6 385.8 L182.7 385.6 L182.9 385.3 L183.0 385.1 L183.1 384.9 L183.2 384.7 L183.3 384.4 L183.4 384.2 L183.5 384.0 L183.6 383.7 L183.7 383.5 L183.8 383.2 L183.9 383.0 L184.0 382.7 L184.1 382.5 L184.2 382.2 L184.3 382.0 L184.4 381.7 L184.5 381.5 L184.6 381.2 L184.7 380.9 L184.8 380.7 L184.8 380.4 L184.9 380.1 L185.0 379.9 L185.1 379.6 L185.2 379.4 L185.2 379.1 L185.3 378.8 L185.4 378.6 L185.4 378.3 L185.5 378.1 L185.6 377.8 L185.6 377.6 L185.7 377.3 L185.8 377.0 L185.8 376.8 L185.9 376.6 L185.9 376.3 L186.0 376.1 L186.0 375.8 L186.1 375.6 L186.1 375.4 L186.2 375.1 L186.2 374.9 L186.3 374.6 L186.3 374.4 L186.4 374.2 L186.4 373.9 L186.5 373.7 L186.5 373.4 L186.6 373.2 L186.6 372.9 L186.6 372.7 L186.7 372.5 L186.7 372.2 L186.8 372.0 L186.8 371.7 L186.8 371.5 L186.9 371.2 L186.9 371.0 L187.0 370.7 L187.0 370.5 L187.0 370.2 L187.1 370.0 L187.1 369.7 L187.1 369.5 L187.2 369.3 L187.2 369.0 L187.2 368.8 L187.3 368.5 L187.3 368.3 L187.3 368.0 L187.4 367.8 L187.4 367.5 L187.4 367.3 L187.5 367.0 L187.5 366.8 L187.5 366.5 L187.6 366.3 L187.6 366.0 L187.6 365.8 L187.6 365.5 L187.7 365.3 L187.7 365.0 L187.7 364.8 L187.8 364.5 L187.8 364.3 L187.8 364.0 L187.8 363.8 L187.9 363.5 L187.9 363.3 L187.9 363.0 L188.0 362.8 L188.0 362.5 L188.0 362.3 L188.0 362.0 L188.1 361.8 L188.1 361.5 L188.1 361.3 L188.2 361.0 L188.2 360.8 L188.2 360.5 L188.2 360.2 L188.3 360.0 L188.3 359.7 L188.3 359.5 L188.3 359.2 L188.4 359.0 L188.4 358.7 L188.4 358.5 L188.5 358.2 L188.5 358.0 L188.5 357.7 L188.6 357.5 L188.6 357.2 L188.6 357.0 L188.6 356.7 L188.7 356.5 L188.7 356.2 L188.7 356.0 L188.8 355.7 L188.8 355.5 L188.8 355.2 L188.9 355.0 L188.9 354.7 L188.9 354.5 L189.0 354.3 L189.0 354.0 L189.0 353.8 L189.1 353.5 L189.1 353.3 L189.1 353.0 L189.2 352.8 L189.2 352.5 L189.2 352.3 L189.3 352.0 L189.3 351.8 L189.3 351.5 L189.4 351.3 L189.4 351.0 L189.4 350.8 L189.5 350.5 L189.5 350.3 L189.5 350.0 L189.6 349.8 L189.6 349.5 L189.6 349.3 L189.7 349.0 L189.7 348.8 L189.7 348.5 L189.8 348.3 L189.8 348.0 L189.8 347.8 L189.9 347.6 L189.9 347.3 L189.9 347.1 L190.0 346.8 L190.0 346.6 L190.0 346.3 L190.1 346.1 L190.1 345.8 L190.1 345.6 L190.2 345.3 L190.2 345.1 L190.2 344.8 L190.3 344.6 L190.3 344.3 L190.4 344.1 L190.4 343.8 L190.4 343.6 L190.5 343.3 L190.5 343.1 L190.5 342.8 L190.6 342.6 L190.6 342.3 L190.7 342.1 L190.7 341.9 L190.7 341.6 L190.8 341.4 L190.8 341.1 L190.9 340.9 L190.9 340.6 L190.9 340.4 L191.0 340.1 L191.0 339.9 L191.1 339.6 L191.1 339.4 L191.2 339.1 L191.2 338.8 L191.2 338.5 L191.3 338.2 L191.3 338.0 L191.4 337.7 L191.4 337.3 L191.5 337.0 L191.5 336.7 L191.6 336.4 L191.6 336.1 L191.7 335.8 L191.7 335.5 L191.8 335.1 L191.8 334.8 L191.9 334.5 L191.9 334.1 L192.0 333.8 L192.0 333.5 L192.1 333.2 L192.1 332.9 L192.2 332.5 L192.3 332.2 L192.3 331.9 L192.4 331.6 L192.4 331.3 L192.5 331.0 L192.5 330.7 L192.6 330.4 L192.6 330.1 L192.7 329.8 L192.8 329.5 L192.8 329.3 L192.9 329.0 L192.9 328.7 L193.0 328.5 L193.0 328.3 L193.1 328.0 L193.1 327.8 L193.2 327.6 L193.3 327.4 L193.3 327.2 L193.4 327.1 L193.4 326.9 L193.5 326.7 L193.5 326.6 L193.6 326.5 L193.6 326.4 L193.7 326.3 L193.7 326.2 L193.8 326.1 L193.9 326.1 L193.9 326.0 L194.0 326.0 L194.0 326.0 L194.1 326.0 L194.1 326.0 L194.2 326.1 L194.2 326.2 L194.3 326.2 L194.3 326.3 L194.4 326.4 L194.4 326.5 L194.5 326.7 L194.5 326.8 L194.6 327.0 L194.6 327.2 L194.7 327.3 L194.7 327.5 L194.8 327.7 L194.8 328.0 L194.9 328.2 L194.9 328.4 L195.0 328.7 L195.0 328.9 L195.1 329.2 L195.1 329.4 L195.1 329.7 L195.2 330.0 L195.2 330.3 L195.3 330.6 L195.3 330.9 L195.4 331.2 L195.4 331.5 L195.5 331.8 L195.5 332.1 L195.6 332.4 L195.6 332.8 L195.7 333.1 L195.7 333.4 L195.8 333.7 L195.8 334.1 L195.9 334.4 L195.9 334.7 L196.0 335.0 L196.1 335.4 L196.1 335.7 L196.2 336.0 L196.2 336.3 L196.3 336.6 L196.3 336.9 L196.4 337.3 L196.4 337.6 L196.5 337.9 L196.6 338.1 L196.6 338.4 L196.7 338.7 L196.7 339.0 L196.8 339.3 L196.9 339.5 L196.9 339.8 L197.0 340.0 L197.1 340.3 L197.1 340.5 L197.2 340.7 L197.3 341.0 L197.3 341.2 L197.4 341.5 L197.5 341.7 L197.5 342.0 L197.6 342.2 L197.7 342.5 L197.7 342.7 L197.8 343.0 L197.9 343.2 L198.0 343.5 L198.0 343.7 L198.1 344.0 L198.2 344.3 L198.3 344.5 L198.3 344.8 L198.4 345.0 L198.5 345.3 L198.6 345.5 L198.6 345.8 L198.7 346.0 L198.8 346.3 L198.9 346.5 L199.0 346.7 L199.1 347.0 L199.2 347.2 L199.2 347.5 L199.3 347.7 L199.4 347.9 L199.5 348.2 L199.6 348.4 L199.7 348.6 L199.8 348.8 L199.9 349.0 L200.0 349.3 L200.1 349.5 L200.2 349.7 L200.3 349.9 L200.5 350.1 L200.6 350.3 L200.7 350.5 L200.8 350.7 L200.9 350.9 L201.0 351.1 L201.2 351.2 L201.3 351.4 L201.4 351.6 L201.6 351.7 L201.8 351.9 L201.9 352.1 L202.1 352.2 L202.3 352.4 L202.5 352.5 L202.6 352.7 L202.8 352.8 L203.0 353.0 L203.2 353.1 L203.5 353.3 L203.7 353.4 L203.9 353.6 L204.1 353.7 L204.3 353.8 L204.5 354.0 L204.8 354.1 L205.0 354.3 L205.2 354.4 L205.4 354.5 L205.7 354.7 L205.9 354.8 L206.1 355.0 L206.4 355.1 L206.6 355.2 L206.8 355.4 L207.0 355.5 L207.2 355.7 L207.5 355.8 L207.7 356.0 L207.9 356.1 L208.1 356.3 L208.3 356.4 L208.5 356.6 L208.7 356.7 L208.9 356.9 L209.1 357.1 L209.2 357.2 L209.4 357.4 L209.6 357.6 L209.8 357.7 L210.0 357.9 L210.1 358.1 L210.3 358.3 L210.5 358.4 L210.7 358.6 L210.8 358.8 L211.0 359.0 L211.2 359.1 L211.4 359.3 L211.5 359.5 L211.7 359.7 L211.9 359.9 L212.0 360.1 L212.2 360.3 L212.4 360.4 L212.5 360.6 L212.7 360.8 L212.9 361.0 L213.0 361.2 L213.2 361.4 L213.4 361.6 L213.5 361.8 L213.7 362.0 L213.9 362.2 L214.0 362.3 L214.2 362.5 L214.3 362.7 L214.5 362.9 L214.7 363.1 L214.8 363.3 L215.0 363.5 L215.1 363.7 L215.3 363.9 L215.5 364.1 L215.6 364.3 L215.8 364.5 L215.9 364.7 L216.1 364.9 L216.3 365.1 L216.4 365.3 L216.6 365.5 L216.7 365.7 L216.9 365.9 L217.0 366.0 L217.2 366.2 L217.3 366.4 L217.5 366.6 L217.7 366.8 L217.8 367.0 L218.0 367.2 L218.1 367.4 L218.3 367.6 L218.4 367.8 L218.6 368.0 L218.7 368.2 L218.9 368.4 L219.0 368.6 L219.2 368.8 L219.3 369.0 L219.4 369.2 L219.6 369.4 L219.7 369.6 L219.9 369.8 L220.0 370.0 L220.2 370.3 L220.3 370.5 L220.5 370.7 L220.6 370.9 L220.8 371.1 L220.9 371.3 L221.0 371.5 L221.2 371.7 L221.3 371.9 L221.5 372.1 L221.6 372.3 L221.8 372.5 L221.9 372.7 L222.0 372.9 L222.2 373.1 L222.3 373.3 L222.5 373.5 L222.6 373.7 L222.8 373.9 L222.9 374.1 L223.1 374.4 L223.2 374.6 L223.3 374.8 L223.5 375.0 L223.6 375.2 L223.8 375.4 L223.9 375.6 L224.1 375.8 L224.2 376.0 L224.4 376.2 L224.5 376.4 L224.7 376.6 L224.8 376.8 L225.0 377.0 L225.1 377.2 L225.3 377.4 L225.4 377.6 L225.6 377.8 L225.7 378.0 L225.9 378.2 L226.0 378.4 L226.2 378.6 L226.3 378.8 L226.5 379.0 L226.6 379.3 L226.8 379.5 L226.9 379.7 L227.1 379.9 L227.2 380.1 L227.3 380.3 L227.5 380.5 L227.6 380.7 L227.8 381.0 L227.9 381.2 L228.1 381.4 L228.2 381.6 L228.4 381.8 L228.5 382.0 L228.7 382.2 L228.8 382.4 L229.0 382.6 L229.1 382.9 L229.3 383.1 L229.4 383.3 L229.6 383.5 L229.7 383.7 L229.9 383.9 L230.1 384.1 L230.2 384.2 L230.4 384.4 L230.5 384.6 L230.7 384.8 L230.9 385.0 L231.0 385.2 L231.2 385.4 L231.4 385.5 L231.5 385.7 L231.7 385.9 L231.9 386.0 L232.0 386.2 L232.2 386.4 L232.4 386.5 L232.6 386.7 L232.8 386.8 L232.9 387.0 L233.1 387.1 L233.3 387.2 L233.5 387.4 L233.7 387.5 L233.9 387.7 L234.1 387.8 L234.3 388.0 L234.5 388.1 L234.7 388.3 L235.0 388.4 L235.2 388.6 L235.4 388.7 L235.6 388.9 L235.8 389.0 L236.1 389.2 L236.3 389.3 L236.5 389.5 L236.7 389.6 L237.0 389.7 L237.2 389.9 L237.4 390.0 L237.7 390.1 L237.9 390.2 L238.1 390.3 L238.4 390.4 L238.6 390.5 L238.9 390.6 L239.1 390.7 L239.3 390.8 L239.6 390.8 L239.8 390.9 L240.0 390.9 L240.3 391.0 L240.5 391.0 L240.8 391.0 L241.0 391.0 L241.2 391.0 L241.5 391.0 L241.7 391.0 L242.0 391.0 L242.3 390.9 L242.5 390.9 L242.8 390.9 L243.1 390.9 L243.3 390.8 L243.6 390.8 L243.9 390.7 L244.1 390.7 L244.4 390.7 L244.7 390.6 L244.9 390.6 L245.2 390.5 L245.4 390.4 L245.7 390.4 L245.9 390.3 L246.1 390.3 L246.4 390.2 L246.6 390.1 L246.8 390.1 L246.9 390.0 L247.1 390.0 L247.3 389.9 L247.5 389.8 L247.6 389.7 L247.8 389.6 L247.9 389.4 L248.1 389.3 L248.2 389.2 L248.4 389.0 L248.5 388.8 L248.7 388.7 L248.8 388.5 L249.0 388.3 L249.1 388.1 L249.2 387.9 L249.4 387.7 L249.5 387.5 L249.6 387.2 L249.8 387.0 L249.9 386.8 L250.0 386.5 L250.1 386.3 L250.2 386.1 L250.4 385.8 L250.5 385.6 L250.6 385.3 L250.7 385.0 L250.8 384.8 L250.9 384.5 L251.1 384.2 L251.2 384.0 L251.3 383.7 L251.4 383.5 L251.5 383.2 L251.6 382.9 L251.7 382.7 L251.9 382.4 L252.0 382.1 L252.1 381.9 L252.2 381.6 L252.3 381.4 L252.4 381.1 L252.5 380.9 L252.7 380.7 L252.8 380.4 L252.9 380.2 L253.0 380.0 L253.1 379.8 L253.2 379.5 L253.4 379.3 L253.5 379.1 L253.6 378.9 L253.7 378.7 L253.8 378.4 L253.9 378.2 L254.1 378.0 L254.2 377.8 L254.3 377.5 L254.4 377.3 L254.5 377.1 L254.6 376.9 L254.7 376.6 L254.8 376.4 L254.9 376.2 L255.1 376.0 L255.2 375.7 L255.3 375.5 L255.4 375.3 L255.5 375.1 L255.6 374.8 L255.7 374.6 L255.8 374.4 L255.9 374.2 L256.0 373.9 L256.1 373.7 L256.2 373.5 L256.3 373.3 L256.5 373.0 L256.6 372.8 L256.7 372.6 L256.8 372.4 L256.9 372.1 L257.0 371.9 L257.1 371.7 L257.2 371.5 L257.3 371.2 L257.4 371.0 L257.5 370.8 L257.7 370.6 L257.8 370.3 L257.9 370.1 L258.0 369.9 L258.1 369.7 L258.2 369.4 L258.3 369.2 L258.5 369.0 L258.6 368.8 L258.7 368.6 L258.8 368.3 L258.9 368.1 L259.1 367.9 L259.2 367.7 L259.3 367.5 L259.4 367.2 L259.5 367.0 L259.7 366.8 L259.8 366.6 L259.9 366.3 L260.0 366.1 L260.1 365.9 L260.3 365.7 L260.4 365.5 L260.5 365.2 L260.6 365.0 L260.8 364.8 L260.9 364.6 L261.0 364.4 L261.2 364.2 L261.3 364.0 L261.4 363.8 L261.6 363.6 L261.7 363.4 L261.9 363.2 L262.0 363.0 L262.2 362.8 L262.3 362.6 L262.5 362.4 L262.7 362.2 L262.8 362.0 L263.0 361.8 L263.2 361.6 L263.3 361.4 L263.5 361.2 L263.7 361.0 L263.9 360.9 L264.1 360.7 L264.3 360.5 L264.5 360.4 L264.6 360.2 L264.8 360.1 L265.0 360.0 L265.2 359.8 L265.5 359.7 L265.7 359.6 L265.9 359.5 L266.1 359.3 L266.3 359.2 L266.6 359.1 L266.8 359.0 L267.0 358.8 L267.3 358.7 L267.5 358.6 L267.8 358.5 L268.0 358.4 L268.3 358.3 L268.5 358.3 L268.7 358.2 L269.0 358.1 L269.2 358.1 L269.5 358.0 L269.7 358.0 L269.9 358.0 L270.2 358.0 L270.4 358.0 L270.6 358.1 L270.9 358.1 L271.1 358.2 L271.3 358.2 L271.6 358.3 L271.8 358.4 L272.1 358.5 L272.3 358.6 L272.5 358.7 L272.8 358.8 L273.0 358.9 L273.2 359.0 L273.5 359.2 L273.7 359.3 L273.9 359.4 L274.2 359.5 L274.4 359.7 L274.6 359.8 L274.8 359.9 L275.0 360.0 L275.3 360.1 L275.5 360.3 L275.7 360.4 L275.9 360.5 L276.1 360.7 L276.3 360.8 L276.5 361.0 L276.7 361.1 L276.9 361.3 L277.1 361.4 L277.3 361.6 L277.5 361.8 L277.6 361.9 L277.8 362.1 L278.0 362.3 L278.2 362.4 L278.4 362.6 L278.6 362.8 L278.8 362.9 L279.0 363.1 L279.2 363.3 L279.4 363.4 L279.5 363.6 L279.7 363.8 L279.9 363.9 L280.1 364.1 L280.3 364.3 L280.5 364.4 L280.7 364.6 L280.9 364.8 L281.1 364.9 L281.2 365.1 L281.4 365.2 L281.6 365.4 L281.8 365.6 L282.0 365.8 L282.2 365.9 L282.4 366.1 L282.5 366.3 L282.7 366.4 L282.9 366.6 L283.1 366.8 L283.3 366.9 L283.5 367.1 L283.6 367.3 L283.8 367.5 L284.0 367.6 L284.2 367.8 L284.4 368.0 L284.6 368.1 L284.7 368.3 L284.9 368.5 L285.1 368.7 L285.3 368.8 L285.5 369.0 L285.6 369.2 L285.8 369.4 L286.0 369.5 L286.2 369.7 L286.4 369.9 L286.5 370.1 L286.7 370.2 L286.9 370.4 L287.1 370.6 L287.3 370.7 L287.5 370.9 L287.6 371.1 L287.8 371.3 L288.0 371.4 L288.2 371.6 L288.4 371.8 L288.5 371.9 L288.7 372.1 L288.9 372.3 L289.1 372.5 L289.3 372.6 L289.5 372.8 L289.7 373.0 L289.8 373.1 L290.0 373.3 L290.2 373.5 L290.4 373.6 L290.6 373.8 L290.8 374.0 L291.0 374.1 L291.2 374.3 L291.3 374.4 L291.5 374.6 L291.7 374.8 L291.9 374.9 L292.1 375.1 L292.3 375.2 L292.5 375.4 L292.7 375.6 L292.9 375.7 L293.1 375.9 L293.3 376.0 L293.5 376.2 L293.7 376.3 L293.9 376.5 L294.0 376.7 L294.2 376.8 L294.4 377.0 L294.6 377.1 L294.8 377.3 L295.0 377.4 L295.2 377.6 L295.4 377.7 L295.6 377.9 L295.8 378.0 L296.0 378.2 L296.2 378.3 L296.4 378.5 L296.6 378.6 L296.8 378.8 L297.0 378.9 L297.2 379.1 L297.4 379.2 L297.6 379.4 L297.8 379.5 L298.0 379.7 L298.2 379.8 L298.4 380.0 L298.6 380.1 L298.8 380.3 L299.0 380.4 L299.2 380.6 L299.4 380.7 L299.6 380.9 L299.8 381.0 L300.1 381.2 L300.3 381.3 L300.5 381.5 L300.7 381.6 L300.9 381.8 L301.1 381.9 L301.3 382.1 L301.5 382.2 L301.7 382.4 L301.9 382.5 L302.1 382.6 L302.3 382.8 L302.5 382.9 L302.7 383.1 L302.9 383.2 L303.1 383.4 L303.3 383.5 L303.5 383.7 L303.7 383.8 L303.9 383.9 L304.1 384.1 L304.3 384.2 L304.5 384.4 L304.7 384.5 L304.9 384.7 L305.1 384.9 L305.3 385.0 L305.5 385.2 L305.7 385.4 L305.9 385.6 L306.1 385.7 L306.4 385.9 L306.6 386.1 L306.8 386.3 L307.0 386.5 L307.2 386.6 L307.4 386.8 L307.6 387.0 L307.8 387.2 L308.0 387.4 L308.2 387.6 L308.4 387.8 L308.6 387.9 L308.8 388.1 L309.0 388.3 L309.2 388.5 L309.4 388.7 L309.6 388.8 L309.8 389.0 L310.0 389.2 L310.2 389.3 L310.4 389.5 L310.6 389.7 L310.8 389.8 L311.0 390.0 L311.2 390.1 L311.4 390.3 L311.6 390.4 L311.8 390.6 L312.1 390.7 L312.3 390.8 L312.5 391.0 L312.7 391.1 L312.9 391.2 L313.1 391.3 L313.3 391.4 L313.6 391.5 L313.8 391.6 L314.0 391.6 L314.2 391.7 L314.4 391.8 L314.6 391.8 L314.9 391.9 L315.1 391.9 L315.3 392.0 L315.5 392.0 L315.8 392.0 L316.0 392.0 L316.2 392.0 L316.5 392.0 L316.7 392.0 L316.9 392.0 L317.2 392.0 L317.4 392.0 L317.7 392.0 L317.9 392.0 L318.2 392.0 L318.4 392.0 L318.7 392.0 L318.9 392.0 L319.2 392.0 L319.4 392.0 L319.7 392.0 L320.0 392.0 L320.2 392.0 L320.5 392.0 L320.7 392.0 L321.0 392.0 L321.2 392.0 L321.5 392.0 L321.8 392.0 L322.0 392.0 L322.3 392.0 L322.5 392.0 L322.8 392.0 L323.0 392.0 L323.3 392.0 L323.5 392.0 L323.8 392.0 L324.0 392.0 L324.2 392.0 L324.5 392.0 L324.7 392.0 L325.0 392.0 L325.2 391.9 L325.5 391.9 L325.7 391.9 L325.9 391.8 L326.2 391.8 L326.4 391.7 L326.6 391.7 L326.9 391.6 L327.1 391.5 L327.4 391.5 L327.6 391.4 L327.8 391.3 L328.1 391.2 L328.3 391.1 L328.5 391.0 L328.8 390.9 L329.0 390.8 L329.2 390.7 L329.5 390.6 L329.7 390.5 L329.9 390.4 L330.2 390.3 L330.4 390.2 L330.6 390.1 L330.8 389.9 L331.1 389.8 L331.3 389.7 L331.5 389.5 L331.8 389.4 L332.0 389.3 L332.2 389.1 L332.4 389.0 L332.7 388.9 L332.9 388.7 L333.1 388.6 L333.3 388.4 L333.6 388.3 L333.8 388.1 L334.0 388.0" fill="none" stroke="#00ff00" stroke-width="1.4" stroke-linejoin="round" />
<g fill="#00ff00">
<path d="M172.6 390.0 l1.9 3.4 h-3.8 z"/>
<path d="M173.4 389.8 l1.9 3.4 h-3.8 z"/>
<path d="M174.3 389.6 l1.9 3.4 h-3.8 z"/>
<path d="M175.1 389.3 l1.9 3.4 h-3.8 z"/>
<path d="M176.0 389.1 l1.9 3.4 h-3.8 z"/>
<path d="M176.8 388.7 l1.9 3.4 h-3.8 z"/>
<path d="M177.7 388.3 l1.9 3.4 h-3.8 z"/>
<path d="M178.5 387.9 l1.9 3.4 h-3.8 z"/>
<path d="M179.4 387.4 l1.9 3.4 h-3.8 z"/>
<path d="M180.2 386.8 l1.9 3.4 h-3.8 z"/>
<path d="M181.1 386.0 l1.9 3.4 h-3.8 z"/>
<path d="M181.9 384.9 l1.9 3.4 h-3.8 z"/>
<path d="M182.8 383.5 l1.9 3.4 h-3.8 z"/>
<path d="M183.6 381.8 l1.9 3.4 h-3.8 z"/>
<path d="M184.5 379.5 l1.9 3.4 h-3.8 z"/>
<path d="M185.3 376.7 l1.9 3.4 h-3.8 z"/>
<path d="M186.2 373.2 l1.9 3.4 h-3.8 z"/>
<path d="M187.0 368.2 l1.9 3.4 h-3.8 z"/>
<path d="M187.9 361.4 l1.9 3.4 h-3.8 z"/>
<path d="M188.7 354.0 l1.9 3.4 h-3.8 z"/>
<path d="M189.6 347.7 l1.9 3.4 h-3.8 z"/>
<path d="M190.4 341.5 l1.9 3.4 h-3.8 z"/>
<path d="M191.3 336.3 l1.9 3.4 h-3.8 z"/>
<path d="M192.1 330.9 l1.9 3.4 h-3.8 z"/>
<path d="M193.0 326.5 l1.9 3.4 h-3.8 z"/>
<path d="M193.8 324.2 l1.9 3.4 h-3.8 z"/>
<path d="M194.7 325.6 l1.9 3.4 h-3.8 z"/>
<path d="M195.5 330.3 l1.9 3.4 h-3.8 z"/>
<path d="M196.4 335.4 l1.9 3.4 h-3.8 z"/>
<path d="M197.2 339.0 l1.9 3.4 h-3.8 z"/>
<path d="M198.1 342.1 l1.9 3.4 h-3.8 z"/>
<path d="M198.9 344.7 l1.9 3.4 h-3.8 z"/>
<path d="M199.8 346.9 l1.9 3.4 h-3.8 z"/>
<path d="M200.6 348.5 l1.9 3.4 h-3.8 z"/>
<path d="M201.5 349.7 l1.9 3.4 h-3.8 z"/>
<path d="M202.3 350.6 l1.9 3.4 h-3.8 z"/>
<path d="M203.2 351.2 l1.9 3.4 h-3.8 z"/>
<path d="M204.0 351.8 l1.9 3.4 h-3.8 z"/>
<path d="M204.9 352.3 l1.9 3.4 h-3.8 z"/>
<path d="M205.7 352.8 l1.9 3.4 h-3.8 z"/>
<path d="M206.6 353.3 l1.9 3.4 h-3.8 z"/>
<path d="M207.4 353.9 l1.9 3.4 h-3.8 z"/>
<path d="M208.3 354.5 l1.9 3.4 h-3.8 z"/>
<path d="M209.1 355.2 l1.9 3.4 h-3.8 z"/>
<path d="M210.0 356.0 l1.9 3.4 h-3.8 z"/>
<path d="M210.8 356.9 l1.9 3.4 h-3.8 z"/>
<path d="M211.7 357.8 l1.9 3.4 h-3.8 z"/>
<path d="M212.5 358.7 l1.9 3.4 h-3.8 z"/>
<path d="M213.4 359.7 l1.9 3.4 h-3.8 z"/>
<path d="M214.2 360.7 l1.9 3.4 h-3.8 z"/>
<path d="M215.1 361.7 l1.9 3.4 h-3.8 z"/>
<path d="M215.9 362.8 l1.9 3.4 h-3.8 z"/>
<path d="M216.8 363.9 l1.9 3.4 h-3.8 z"/>
<path d="M217.6 364.9 l1.9 3.4 h-3.8 z"/>
<path d="M218.5 366.0 l1.9 3.4 h-3.8 z"/>
<path d="M219.3 367.2 l1.9 3.4 h-3.8 z"/>
<path d="M220.2 368.4 l1.9 3.4 h-3.8 z"/>
<path d="M221.0 369.6 l1.9 3.4 h-3.8 z"/>
<path d="M221.9 370.8 l1.9 3.4 h-3.8 z"/>
<path d="M222.7 372.0 l1.9 3.4 h-3.8 z"/>
<path d="M223.6 373.2 l1.9 3.4 h-3.8 z"/>
<path d="M224.4 374.4 l1.9 3.4 h-3.8 z"/>
<path d="M225.3 375.5 l1.9 3.4 h-3.8 z"/>
<path d="M226.1 376.7 l1.9 3.4 h-3.8 z"/>
<path d="M227.0 377.9 l1.9 3.4 h-3.8 z"/>
<path d="M227.8 379.2 l1.9 3.4 h-3.8 z"/>
<path d="M228.7 380.4 l1.9 3.4 h-3.8 z"/>
<path d="M229.5 381.5 l1.9 3.4 h-3.8 z"/>
<path d="M230.4 382.6 l1.9 3.4 h-3.8 z"/>
<path d="M231.2 383.5 l1.9 3.4 h-3.8 z"/>
<path d="M232.1 384.4 l1.9 3.4 h-3.8 z"/>
<path d="M232.9 385.1 l1.9 3.4 h-3.8 z"/>
<path d="M233.8 385.7 l1.9 3.4 h-3.8 z"/>
<path d="M234.6 386.3 l1.9 3.4 h-3.8 z"/>
<path d="M235.5 386.9 l1.9 3.4 h-3.8 z"/>
<path d="M236.3 387.5 l1.9 3.4 h-3.8 z"/>
<path d="M237.2 388.0 l1.9 3.4 h-3.8 z"/>
<path d="M238.0 388.4 l1.9 3.4 h-3.8 z"/>
<path d="M238.9 388.7 l1.9 3.4 h-3.8 z"/>
<path d="M239.7 389.0 l1.9 3.4 h-3.8 z"/>
<path d="M240.6 389.1 l1.9 3.4 h-3.8 z"/>
<path d="M241.4 389.1 l1.9 3.4 h-3.8 z"/>
<path d="M242.3 389.0 l1.9 3.4 h-3.8 z"/>
<path d="M243.1 388.9 l1.9 3.4 h-3.8 z"/>
<path d="M244.0 388.8 l1.9 3.4 h-3.8 z"/>
<path d="M244.8 388.7 l1.9 3.4 h-3.8 z"/>
<path d="M245.7 388.5 l1.9 3.4 h-3.8 z"/>
<path d="M246.5 388.3 l1.9 3.4 h-3.8 z"/>
<path d="M247.4 387.9 l1.9 3.4 h-3.8 z"/>
<path d="M248.2 387.3 l1.9 3.4 h-3.8 z"/>
<path d="M249.1 386.2 l1.9 3.4 h-3.8 z"/>
<path d="M249.9 384.8 l1.9 3.4 h-3.8 z"/>
<path d="M250.8 383.0 l1.9 3.4 h-3.8 z"/>
<path d="M251.6 381.0 l1.9 3.4 h-3.8 z"/>
<path d="M252.5 379.1 l1.9 3.4 h-3.8 z"/>
<path d="M253.3 377.5 l1.9 3.4 h-3.8 z"/>
<path d="M254.2 375.8 l1.9 3.4 h-3.8 z"/>
<path d="M255.0 374.1 l1.9 3.4 h-3.8 z"/>
<path d="M255.9 372.3 l1.9 3.4 h-3.8 z"/>
<path d="M256.7 370.5 l1.9 3.4 h-3.8 z"/>
<path d="M257.6 368.8 l1.9 3.4 h-3.8 z"/>
<path d="M258.4 367.1 l1.9 3.4 h-3.8 z"/>
<path d="M259.3 365.6 l1.9 3.4 h-3.8 z"/>
<path d="M260.1 364.0 l1.9 3.4 h-3.8 z"/>
<path d="M261.0 362.5 l1.9 3.4 h-3.8 z"/>
<path d="M261.8 361.3 l1.9 3.4 h-3.8 z"/>
<path d="M262.7 360.2 l1.9 3.4 h-3.8 z"/>
<path d="M263.5 359.3 l1.9 3.4 h-3.8 z"/>
<path d="M264.4 358.5 l1.9 3.4 h-3.8 z"/>
<path d="M265.2 357.9 l1.9 3.4 h-3.8 z"/>
<path d="M266.1 357.4 l1.9 3.4 h-3.8 z"/>
<path d="M266.9 357.0 l1.9 3.4 h-3.8 z"/>
<path d="M267.8 356.6 l1.9 3.4 h-3.8 z"/>
<path d="M268.6 356.3 l1.9 3.4 h-3.8 z"/>
<path d="M269.5 356.1 l1.9 3.4 h-3.8 z"/>
<path d="M270.3 356.1 l1.9 3.4 h-3.8 z"/>
<path d="M271.2 356.3 l1.9 3.4 h-3.8 z"/>
<path d="M272.0 356.6 l1.9 3.4 h-3.8 z"/>
<path d="M272.9 357.0 l1.9 3.4 h-3.8 z"/>
<path d="M273.7 357.4 l1.9 3.4 h-3.8 z"/>
<path d="M274.6 357.9 l1.9 3.4 h-3.8 z"/>
<path d="M275.4 358.4 l1.9 3.4 h-3.8 z"/>
<path d="M276.3 358.9 l1.9 3.4 h-3.8 z"/>
<path d="M277.1 359.6 l1.9 3.4 h-3.8 z"/>
<path d="M278.0 360.3 l1.9 3.4 h-3.8 z"/>
<path d="M278.8 361.1 l1.9 3.4 h-3.8 z"/>
<path d="M279.7 361.8 l1.9 3.4 h-3.8 z"/>
<path d="M280.5 362.6 l1.9 3.4 h-3.8 z"/>
<path d="M281.4 363.3 l1.9 3.4 h-3.8 z"/>
<path d="M282.2 364.1 l1.9 3.4 h-3.8 z"/>
<path d="M283.1 364.9 l1.9 3.4 h-3.8 z"/>
<path d="M283.9 365.7 l1.9 3.4 h-3.8 z"/>
<path d="M284.8 366.5 l1.9 3.4 h-3.8 z"/>
<path d="M285.6 367.3 l1.9 3.4 h-3.8 z"/>
<path d="M286.5 368.1 l1.9 3.4 h-3.8 z"/>
<path d="M287.3 368.9 l1.9 3.4 h-3.8 z"/>
<path d="M288.2 369.7 l1.9 3.4 h-3.8 z"/>
<path d="M289.0 370.5 l1.9 3.4 h-3.8 z"/>
<path d="M289.9 371.3 l1.9 3.4 h-3.8 z"/>
<path d="M290.7 372.0 l1.9 3.4 h-3.8 z"/>
<path d="M291.6 372.8 l1.9 3.4 h-3.8 z"/>
<path d="M292.4 373.5 l1.9 3.4 h-3.8 z"/>
<path d="M293.3 374.2 l1.9 3.4 h-3.8 z"/>
<path d="M294.1 374.8 l1.9 3.4 h-3.8 z"/>
<path d="M295.0 375.5 l1.9 3.4 h-3.8 z"/>
<path d="M295.8 376.2 l1.9 3.4 h-3.8 z"/>
<path d="M296.7 376.8 l1.9 3.4 h-3.8 z"/>
<path d="M297.5 377.4 l1.9 3.4 h-3.8 z"/>
<path d="M298.4 378.1 l1.9 3.4 h-3.8 z"/>
<path d="M299.2 378.7 l1.9 3.4 h-3.8 z"/>
<path d="M300.1 379.3 l1.9 3.4 h-3.8 z"/>
<path d="M300.9 379.9 l1.9 3.4 h-3.8 z"/>
<path d="M301.8 380.5 l1.9 3.4 h-3.8 z"/>
<path d="M302.6 381.1 l1.9 3.4 h-3.8 z"/>
<path d="M303.5 381.7 l1.9 3.4 h-3.8 z"/>
<path d="M304.3 382.4 l1.9 3.4 h-3.8 z"/>
<path d="M305.2 383.0 l1.9 3.4 h-3.8 z"/>
<path d="M306.0 383.7 l1.9 3.4 h-3.8 z"/>
<path d="M306.9 384.5 l1.9 3.4 h-3.8 z"/>
<path d="M307.7 385.3 l1.9 3.4 h-3.8 z"/>
<path d="M308.6 386.1 l1.9 3.4 h-3.8 z"/>
<path d="M309.4 386.8 l1.9 3.4 h-3.8 z"/>
<path d="M310.3 387.5 l1.9 3.4 h-3.8 z"/>
<path d="M311.1 388.2 l1.9 3.4 h-3.8 z"/>
<path d="M312.0 388.8 l1.9 3.4 h-3.8 z"/>
<path d="M312.8 389.3 l1.9 3.4 h-3.8 z"/>
<path d="M313.7 389.6 l1.9 3.4 h-3.8 z"/>
<path d="M314.5 389.9 l1.9 3.4 h-3.8 z"/>
<path d="M315.4 390.1 l1.9 3.4 h-3.8 z"/>
<path d="M316.2 390.1 l1.9 3.4 h-3.8 z"/>
<path d="M317.1 390.1 l1.9 3.4 h-3.8 z"/>
<path d="M317.9 390.1 l1.9 3.4 h-3.8 z"/>
<path d="M318.8 390.1 l1.9 3.4 h-3.8 z"/>
<path d="M319.6 390.1 l1.9 3.4 h-3.8 z"/>
<path d="M320.5 390.1 l1.9 3.4 h-3.8 z"/>
<path d="M321.3 390.1 l1.9 3.4 h-3.8 z"/>
<path d="M322.2 390.1 l1.9 3.4 h-3.8 z"/>
<path d="M323.0 390.1 l1.9 3.4 h-3.8 z"/>
<path d="M323.9 390.1 l1.9 3.4 h-3.8 z"/>
<path d="M324.7 390.1 l1.9 3.4 h-3.8 z"/>
<path d="M325.6 390.0 l1.9 3.4 h-3.8 z"/>
<path d="M326.4 389.8 l1.9 3.4 h-3.8 z"/>
<path d="M327.3 389.6 l1.9 3.4 h-3.8 z"/>
<path d="M328.1 389.3 l1.9 3.4 h-3.8 z"/>
<path d="M329.0 388.9 l1.9 3.4 h-3.8 z"/>
<path d="M329.8 388.5 l1.9 3.4 h-3.8 z"/>
<path d="M330.7 388.1 l1.9 3.4 h-3.8 z"/>
<path d="M331.5 387.6 l1.9 3.4 h-3.8 z"/>
<path d="M332.4 387.1 l1.9 3.4 h-3.8 z"/>
<path d="M333.2 386.6 l1.9 3.4 h-3.8 z"/>
<path d="M334.1 386.1 l1.9 3.4 h-3.8 z"/>
<path d="M334.9 386.1 l1.9 3.4 h-3.8 z"/>
</g>
</g>
<rect x="170.6" y="234.6" width="164.4" height="161.0" fill="none" stroke="#000" stroke-width="2.4"/>
<line x1="175.0" y1="392.6" x2="175.0" y2="395.6" stroke="#000" stroke-width="1.4"/>
<line x1="217.5" y1="392.6" x2="217.5" y2="395.6" stroke="#000" stroke-width="1.4"/>
<line x1="260.0" y1="392.6" x2="260.0" y2="395.6" stroke="#000" stroke-width="1.4"/>
<line x1="302.5" y1="392.6" x2="302.5" y2="395.6" stroke="#000" stroke-width="1.4"/>
<text x="194.5" y="251.0" font-size="17.2" textLength="12.2" lengthAdjust="spacingAndGlyphs" text-anchor="start" >P</text>
<text x="176.5" y="332.0" font-size="17.2" textLength="16.0" lengthAdjust="spacingAndGlyphs" text-anchor="start" >P'</text>
<text x="210.1" y="343.0" font-size="17.2" textLength="20.5" lengthAdjust="spacingAndGlyphs" text-anchor="start" >Q'</text>
<text x="232.1" y="365.0" font-size="17.2" textLength="15.1" lengthAdjust="spacingAndGlyphs" text-anchor="start" >Q</text>
<text x="261.6" y="350.0" font-size="17.2" textLength="18.9" lengthAdjust="spacingAndGlyphs" text-anchor="start" >R'</text>
<text x="293.8" y="341.4" font-size="17.2" textLength="13.0" lengthAdjust="spacingAndGlyphs" text-anchor="start" >R</text>
<text x="160.0" y="410.6" font-size="14.5" textLength="30.0" lengthAdjust="spacingAndGlyphs" text-anchor="start" >1025</text>
<text x="202.5" y="410.6" font-size="14.5" textLength="30.0" lengthAdjust="spacingAndGlyphs" text-anchor="start" >1030</text>
<text x="245.0" y="410.6" font-size="14.5" textLength="30.0" lengthAdjust="spacingAndGlyphs" text-anchor="start" >1035</text>
<text x="287.5" y="410.6" font-size="14.5" textLength="30.0" lengthAdjust="spacingAndGlyphs" text-anchor="start" >1040</text>
<text x="234.6" y="427.2" font-size="14.0" textLength="36.8" lengthAdjust="spacingAndGlyphs" text-anchor="start" >E(eV)</text>
<rect x="25.4" y="2.6" width="317.4" height="437.4" fill="none" stroke="#000" stroke-width="2.6"/>
<line x1="49.9" y1="437.2" x2="49.9" y2="440.1" stroke="#000" stroke-width="2.3"/>
<line x1="83.4" y1="434.0" x2="83.4" y2="440.1" stroke="#000" stroke-width="2.5"/>
<line x1="116.9" y1="437.2" x2="116.9" y2="440.1" stroke="#000" stroke-width="2.3"/>
<line x1="150.4" y1="434.0" x2="150.4" y2="440.1" stroke="#000" stroke-width="2.5"/>
<line x1="183.9" y1="437.2" x2="183.9" y2="440.1" stroke="#000" stroke-width="2.3"/>
<line x1="217.4" y1="434.0" x2="217.4" y2="440.1" stroke="#000" stroke-width="2.5"/>
<line x1="250.9" y1="437.2" x2="250.9" y2="440.1" stroke="#000" stroke-width="2.3"/>
<line x1="284.4" y1="434.0" x2="284.4" y2="440.1" stroke="#000" stroke-width="2.5"/>
<line x1="317.9" y1="437.2" x2="317.9" y2="440.1" stroke="#000" stroke-width="2.3"/>
<text x="60.4" y="464.6" font-size="22.5" textLength="46.0" lengthAdjust="spacingAndGlyphs" text-anchor="start" >1028</text>
<text x="127.4" y="464.6" font-size="22.5" textLength="46.0" lengthAdjust="spacingAndGlyphs" text-anchor="start" >1032</text>
<text x="194.4" y="464.6" font-size="22.5" textLength="46.0" lengthAdjust="spacingAndGlyphs" text-anchor="start" >1036</text>
<text x="261.4" y="464.6" font-size="22.5" textLength="46.0" lengthAdjust="spacingAndGlyphs" text-anchor="start" >1040</text>
<text x="85.0" y="492.2" font-size="22.0" textLength="196.5" lengthAdjust="spacingAndGlyphs" text-anchor="start" >Photon Energy (eV)</text>
<text x="28" y="20.6" font-size="18" textLength="108" lengthAdjust="spacingAndGlyphs">(a) Zn <tspan font-style="italic">L</tspan><tspan font-size="13.5" dy="6">3</tspan><tspan dy="-6">-edge</tspan></text>
<line x1="145" y1="14.4" x2="184" y2="14.4" stroke="#000" stroke-width="2"/>
<line x1="145" y1="35" x2="184" y2="35" stroke="#ff0000" stroke-width="2.2"/>
<line x1="145" y1="55" x2="184" y2="55" stroke="#00ff00" stroke-width="2.2"/>
<text x="187.0" y="20.0" font-size="16.5" textLength="32.5" lengthAdjust="spacingAndGlyphs" text-anchor="start" >ZnO</text>
<text x="187.0" y="40.1" font-size="16.5" textLength="152.0" lengthAdjust="spacingAndGlyphs" text-anchor="start" >ZnO:Er(on Sapphire)</text>
<text x="187.0" y="60.2" font-size="16.5" textLength="135.0" lengthAdjust="spacingAndGlyphs" text-anchor="start" >ZnO:Er(on Silicon)</text>
<text transform="translate(17.6,374.0) rotate(-90)" x="0" y="0" font-size="23.8" textLength="119.6" lengthAdjust="spacingAndGlyphs">Normalized</text>
<text transform="translate(17.6,248.2) rotate(-90)" x="0" y="0" font-size="23.8" textLength="83.9" lengthAdjust="spacingAndGlyphs">Intensity</text>
<text transform="translate(17.6,158.7) rotate(-90)" x="0" y="0" font-size="23.8" textLength="46.4" lengthAdjust="spacingAndGlyphs">(arb.</text>
<text transform="translate(17.6,105.9) rotate(-90)" x="0" y="0" font-size="23.8" textLength="48.3" lengthAdjust="spacingAndGlyphs">unit)</text>
<clipPath id="cb"><rect x="373.5" y="2.6" width="308.1" height="442.3"/></clipPath>
<g clip-path="url(#cb)">
<path d="M374.0 439.3 L375.0 439.3 L376.0 439.3 L377.0 439.3 L378.0 439.3 L379.0 439.3 L380.0 439.3 L381.0 439.3 L382.0 439.3 L383.0 439.3 L384.0 439.3 L385.0 439.3 L386.0 439.3 L387.0 439.3 L388.0 439.3 L389.0 439.3 L390.0 439.3 L391.0 439.3 L392.1 439.3 L393.1 439.3 L394.1 439.3 L395.1 439.3 L396.1 439.3 L397.1 439.3 L398.1 439.3 L399.1 439.3 L400.1 439.3 L401.1 439.3 L402.1 439.3 L403.1 439.3 L404.1 439.3 L405.1 439.3 L406.1 439.3 L407.1 439.3 L408.1 439.3 L409.1 439.3 L410.1 439.3 L411.1 439.3 L412.1 439.3 L413.1 439.3 L414.1 439.3 L415.1 439.3 L416.1 439.3 L417.1 439.3 L418.1 439.3 L419.1 439.3 L420.1 439.3 L421.1 439.3 L422.1 439.3 L423.1 439.3 L424.1 439.3 L425.2 439.3 L426.2 439.3 L427.2 439.3 L428.2 439.3 L429.2 439.3 L430.2 439.3 L431.2 439.3 L432.2 439.3 L433.2 439.3 L434.2 439.3 L435.2 439.3 L436.2 439.3 L437.2 439.3 L438.2 439.3 L439.2 439.3 L440.2 439.3 L441.2 439.3 L442.2 439.2 L443.2 439.2 L444.2 439.2 L445.2 439.2 L446.2 439.2 L447.2 439.2 L448.2 439.2 L449.2 439.2 L450.2 439.2 L451.2 439.2 L452.2 439.2 L453.2 439.2 L454.2 439.1 L455.2 439.1 L456.2 439.1 L457.2 439.0 L458.2 439.0 L459.2 438.9 L460.2 438.9 L461.2 438.8 L462.2 438.7 L463.2 438.5 L464.2 438.4 L465.2 438.2 L466.2 438.1 L467.2 438.0 L468.2 437.9 L469.2 437.8 L470.2 437.7 L471.2 437.6 L472.2 437.5 L473.2 437.4 L474.2 437.3 L475.2 437.2 L476.2 437.1 L477.2 437.0 L478.2 437.0 L479.2 436.9 L480.2 436.8 L481.2 436.7 L482.2 436.6 L483.2 436.5 L484.2 436.4 L485.2 436.2 L486.2 436.1 L487.2 436.0 L488.2 435.8 L489.2 435.7 L490.2 435.5 L491.2 435.4 L492.2 435.2 L493.2 435.0 L494.2 434.8 L495.1 434.5 L496.1 434.3 L497.0 434.0 L497.9 433.7 L498.9 433.3 L499.8 432.8 L500.8 432.3 L501.7 431.8 L502.6 431.2 L503.4 430.6 L504.1 429.9 L504.8 429.3 L505.3 428.6 L505.9 427.8 L506.4 427.0 L506.8 426.1 L507.3 425.1 L507.7 424.2 L508.1 423.2 L508.4 422.2 L508.7 421.2 L508.9 420.2 L509.2 419.3 L509.4 418.3 L509.5 417.3 L509.7 416.3 L509.9 415.4 L510.0 414.4 L510.1 413.4 L510.3 412.4 L510.4 411.4 L510.5 410.3 L510.6 409.3 L510.7 408.3 L510.9 407.3 L511.0 406.3 L511.2 405.3 L511.3 404.4 L511.5 403.4 L511.7 402.4 L511.9 401.4 L512.1 400.4 L512.4 399.4 L512.6 398.5 L512.8 397.5 L513.1 396.5 L513.4 395.6 L513.6 394.6 L513.9 393.6 L514.1 392.6 L514.4 391.7 L514.7 390.7 L515.0 389.7 L515.3 388.8 L515.6 387.8 L515.9 386.9 L516.3 385.9 L516.6 385.0 L517.0 384.1 L517.4 383.1 L517.8 382.2 L518.2 381.2 L518.6 380.2 L519.1 379.3 L519.6 378.4 L520.1 377.5 L520.6 376.6 L521.2 375.9 L521.8 375.2 L522.4 374.6 L523.2 374.0 L524.0 373.5 L524.9 373.0 L525.8 372.5 L526.8 372.1 L527.8 371.7 L528.8 371.3 L529.8 371.1 L530.7 370.8 L531.6 370.6 L532.6 370.4 L533.6 370.2 L534.6 370.1 L535.5 369.9 L536.5 369.7 L537.5 369.6 L538.5 369.4 L539.6 369.3 L540.6 369.2 L541.6 369.1 L542.6 369.0 L543.6 368.9 L544.6 368.8 L545.6 368.7 L546.6 368.7 L547.6 368.6 L548.6 368.6 L549.6 368.5 L550.6 368.5 L551.6 368.5 L552.6 368.5 L553.6 368.4 L554.6 368.4 L555.6 368.4 L556.6 368.4 L557.6 368.3 L558.6 368.3 L559.6 368.3 L560.6 368.3 L561.6 368.3 L562.6 368.2 L563.7 368.2 L564.7 368.2 L565.7 368.2 L566.7 368.2 L567.7 368.2 L568.7 368.1 L569.7 368.1 L570.7 368.1 L571.7 368.1 L572.7 368.1 L573.7 368.1 L574.7 368.1 L575.7 368.1 L576.7 368.0 L577.7 368.0 L578.7 368.0 L579.7 368.0 L580.7 368.0 L581.7 368.0 L582.7 368.0 L583.7 368.0 L584.7 367.9 L585.7 367.9 L586.7 367.9 L587.7 367.9 L588.7 367.9 L589.7 367.9 L590.7 367.9 L591.8 367.9 L592.8 367.9 L593.8 367.8 L594.8 367.8 L595.8 367.8 L596.8 367.8 L597.8 367.8 L598.8 367.8 L599.8 367.8 L600.8 367.8 L601.8 367.8 L602.8 367.8 L603.8 367.7 L604.8 367.7 L605.8 367.7 L606.8 367.7 L607.8 367.7 L608.8 367.7 L609.8 367.7 L610.8 367.7 L611.8 367.7 L612.8 367.7 L613.8 367.6 L614.8 367.6 L615.8 367.6 L616.8 367.6 L617.8 367.6 L618.8 367.6 L619.8 367.6 L620.8 367.5 L621.8 367.5 L622.8 367.5 L623.8 367.5 L624.8 367.5 L625.8 367.5 L626.9 367.4 L627.9 367.4 L628.9 367.4 L629.9 367.4 L630.9 367.4 L631.9 367.4 L632.9 367.3 L633.9 367.3 L634.9 367.3 L635.9 367.3 L636.9 367.3 L637.9 367.2 L638.9 367.2 L639.9 367.2 L640.9 367.2 L641.9 367.2 L642.9 367.1 L643.9 367.1 L644.9 367.1 L645.9 367.1 L646.9 367.1 L647.9 367.0 L648.9 367.0 L649.9 367.0 L650.9 367.0 L651.9 367.0 L652.9 366.9 L653.9 366.9 L654.9 366.9 L655.9 366.9 L656.9 366.9 L657.9 366.8 L658.9 366.8 L659.9 366.8 L660.9 366.8 L661.9 366.8 L663.0 366.8 L664.0 366.7 L665.0 366.7 L666.0 366.7 L667.0 366.7 L668.0 366.7 L669.0 366.6 L670.0 366.6 L671.0 366.6 L672.0 366.6 L673.0 366.6 L674.0 366.5 L675.0 366.5 L676.0 366.5 L677.0 366.5 L678.0 366.5 L679.0 366.4 L680.0 366.4 L681.0 366.4" fill="none" stroke="#000" stroke-width="3" stroke-linejoin="round" />
<path d="M374.2 437.6 L375.2 437.6 L376.2 437.6 L377.2 437.5 L378.3 437.5 L379.3 437.4 L380.3 437.4 L381.3 437.3 L382.3 437.2 L383.3 437.1 L384.3 437.0 L385.3 436.9 L386.2 436.7 L387.2 436.6 L388.2 436.5 L389.2 436.4 L390.2 436.2 L391.2 436.1 L392.1 435.9 L393.1 435.7 L394.1 435.4 L395.0 435.1 L396.0 434.8 L396.9 434.5 L397.9 434.2 L398.8 433.8 L399.8 433.5 L400.7 433.2 L401.7 432.9 L402.7 432.6 L403.6 432.3 L404.6 432.1 L405.6 431.8 L406.6 431.6 L407.6 431.3 L408.6 431.0 L409.5 430.7 L410.4 430.4 L411.4 430.1 L412.2 429.7 L413.1 429.3 L413.9 428.8 L414.7 428.2 L415.5 427.6 L416.3 427.0 L417.1 426.3 L417.8 425.7 L418.6 425.0 L419.3 424.3 L420.1 423.5 L420.8 422.8 L421.6 422.2 L422.4 421.5 L423.1 420.9 L423.9 420.2 L424.7 419.6 L425.6 419.0 L426.4 418.4 L427.2 417.7 L428.0 417.1 L428.7 416.4 L429.5 415.7 L430.1 415.0 L430.8 414.3 L431.3 413.6 L431.8 412.7 L432.3 411.9 L432.8 411.0 L433.3 410.1 L433.7 409.2 L434.1 408.2 L434.5 407.3 L435.0 406.4 L435.4 405.5 L435.8 404.5 L436.2 403.6 L436.6 402.7 L437.0 401.8 L437.4 400.9 L437.7 399.9 L438.1 399.0 L438.5 398.1 L438.8 397.1 L439.1 396.2 L439.4 395.2 L439.7 394.3 L440.0 393.3 L440.3 392.4 L440.5 391.4 L440.8 390.4 L441.0 389.4 L441.3 388.5 L441.5 387.5 L441.7 386.5 L442.0 385.5 L442.2 384.5 L442.4 383.6 L442.5 382.6 L442.7 381.6 L442.9 380.6 L443.1 379.6 L443.2 378.6 L443.4 377.7 L443.5 376.7 L443.7 375.7 L443.8 374.7 L443.9 373.7 L444.1 372.7 L444.2 371.7 L444.3 370.7 L444.5 369.7 L444.6 368.7 L444.7 367.7 L444.8 366.7 L444.9 365.7 L445.0 364.7 L445.1 363.7 L445.2 362.7 L445.3 361.7 L445.4 360.8 L445.5 359.8 L445.6 358.8 L445.7 357.8 L445.8 356.8 L445.9 355.8 L446.0 354.8 L446.1 353.8 L446.2 352.8 L446.3 351.8 L446.4 350.8 L446.5 349.8 L446.6 348.8 L446.7 347.8 L446.8 346.8 L447.0 345.8 L447.1 344.8 L447.2 343.8 L447.3 342.8 L447.4 341.8 L447.5 340.8 L447.5 339.8 L447.6 338.8 L447.7 337.8 L447.8 336.8 L447.9 335.8 L448.0 334.8 L448.1 333.8 L448.2 332.8 L448.2 331.8 L448.3 330.8 L448.4 329.9 L448.5 328.9 L448.6 327.9 L448.6 326.9 L448.7 325.9 L448.8 324.9 L448.9 323.9 L449.0 322.9 L449.0 321.9 L449.1 320.9 L449.2 319.9 L449.3 318.9 L449.3 317.9 L449.4 316.9 L449.5 315.9 L449.6 314.9 L449.6 313.9 L449.7 312.9 L449.8 311.9 L449.9 310.9 L449.9 309.9 L450.0 308.9 L450.1 307.9 L450.1 306.9 L450.2 305.9 L450.3 304.9 L450.3 303.9 L450.4 302.9 L450.5 301.9 L450.5 300.9 L450.6 299.9 L450.7 298.9 L450.7 297.9 L450.8 296.9 L450.9 295.9 L450.9 294.9 L451.0 293.9 L451.0 292.9 L451.1 291.9 L451.2 290.9 L451.2 289.9 L451.3 288.9 L451.3 287.9 L451.4 286.9 L451.5 285.9 L451.5 284.9 L451.6 283.9 L451.6 282.9 L451.7 281.9 L451.7 280.9 L451.8 279.9 L451.9 278.9 L451.9 277.9 L452.0 276.9 L452.0 275.9 L452.1 274.9 L452.1 273.9 L452.2 272.9 L452.2 271.9 L452.3 270.9 L452.3 269.9 L452.4 268.9 L452.4 267.9 L452.5 266.9 L452.5 265.9 L452.6 264.9 L452.6 263.9 L452.7 262.9 L452.7 261.9 L452.8 260.9 L452.8 259.9 L452.9 258.9 L452.9 257.9 L453.0 256.9 L453.0 255.9 L453.1 254.9 L453.1 253.9 L453.2 252.9 L453.2 251.9 L453.3 250.9 L453.3 249.9 L453.4 248.9 L453.4 247.9 L453.5 246.9 L453.5 245.9 L453.6 244.9 L453.6 243.9 L453.7 242.9 L453.7 241.9 L453.8 240.9 L453.8 239.9 L453.9 238.9 L453.9 237.9 L454.0 236.9 L454.0 235.9 L454.1 234.9 L454.1 233.9 L454.2 232.9 L454.2 231.9 L454.3 230.9 L454.3 229.9 L454.4 228.9 L454.4 227.9 L454.5 226.9 L454.6 225.9 L454.6 224.9 L454.7 223.9 L454.7 222.9 L454.8 221.9 L454.8 220.9 L454.9 219.9 L454.9 218.9 L455.0 217.9 L455.1 216.9 L455.1 215.9 L455.2 214.9 L455.2 213.9 L455.3 212.9 L455.4 211.9 L455.4 210.9 L455.5 209.9 L455.5 208.9 L455.6 207.9 L455.7 206.9 L455.7 205.9 L455.8 204.9 L455.9 203.9 L455.9 202.9 L456.0 201.9 L456.1 200.9 L456.1 199.9 L456.2 198.9 L456.3 197.9 L456.3 196.9 L456.4 195.9 L456.5 194.9 L456.5 193.9 L456.6 192.9 L456.7 191.9 L456.7 190.9 L456.8 189.9 L456.9 188.9 L457.0 187.9 L457.0 186.9 L457.1 185.9 L457.2 184.9 L457.2 183.9 L457.3 182.9 L457.4 181.9 L457.5 180.9 L457.5 179.9 L457.6 178.9 L457.7 177.9 L457.8 176.9 L457.9 175.9 L457.9 174.9 L458.0 173.9 L458.1 172.9 L458.2 171.9 L458.3 170.9 L458.4 169.9 L458.4 168.9 L458.5 167.9 L458.6 167.0 L458.7 166.0 L458.8 165.0 L458.9 164.0 L459.0 163.0 L459.1 162.0 L459.2 161.0 L459.3 160.0 L459.4 159.0 L459.5 158.0 L459.6 156.9 L459.7 155.8 L459.8 154.6 L460.0 153.3 L460.1 152.0 L460.2 150.7 L460.4 149.4 L460.5 148.1 L460.7 146.8 L460.8 145.6 L461.0 144.5 L461.1 143.4 L461.3 142.5 L461.4 141.7 L461.6 141.0 L461.7 140.5 L461.8 140.1 L462.0 140.0 L462.1 140.1 L462.3 140.4 L462.4 140.8 L462.6 141.5 L462.7 142.2 L462.8 143.1 L463.0 144.2 L463.1 145.3 L463.3 146.5 L463.4 147.7 L463.6 149.0 L463.7 150.3 L463.9 151.7 L464.0 153.0 L464.1 154.3 L464.2 155.5 L464.4 156.6 L464.5 157.7 L464.6 158.7 L464.7 159.7 L464.8 160.7 L464.9 161.7 L465.0 162.7 L465.1 163.7 L465.2 164.7 L465.3 165.7 L465.4 166.7 L465.4 167.7 L465.5 168.7 L465.6 169.7 L465.7 170.7 L465.8 171.7 L465.9 172.7 L466.0 173.7 L466.0 174.7 L466.1 175.7 L466.2 176.7 L466.3 177.7 L466.4 178.6 L466.4 179.6 L466.5 180.6 L466.6 181.6 L466.7 182.6 L466.7 183.6 L466.8 184.6 L466.9 185.6 L467.0 186.6 L467.0 187.6 L467.1 188.6 L467.2 189.6 L467.3 190.6 L467.3 191.6 L467.4 192.6 L467.5 193.6 L467.6 194.6 L467.6 195.6 L467.7 196.6 L467.8 197.6 L467.9 198.6 L468.0 199.6 L468.0 200.6 L468.1 201.6 L468.2 202.6 L468.3 203.6 L468.4 204.6 L468.5 205.6 L468.5 206.6 L468.6 207.6 L468.7 208.6 L468.8 209.6 L468.9 210.6 L469.0 211.6 L469.1 212.6 L469.1 213.6 L469.2 214.6 L469.3 215.6 L469.4 216.6 L469.5 217.6 L469.6 218.6 L469.7 219.6 L469.7 220.6 L469.8 221.6 L469.9 222.6 L470.0 223.6 L470.1 224.6 L470.2 225.6 L470.3 226.6 L470.3 227.6 L470.4 228.6 L470.5 229.6 L470.6 230.6 L470.7 231.6 L470.8 232.6 L470.9 233.5 L470.9 234.5 L471.0 235.5 L471.1 236.5 L471.2 237.5 L471.3 238.5 L471.4 239.5 L471.5 240.5 L471.6 241.5 L471.6 242.5 L471.7 243.5 L471.8 244.5 L471.9 245.5 L472.0 246.5 L472.1 247.5 L472.2 248.5 L472.3 249.5 L472.3 250.5 L472.4 251.5 L472.5 252.5 L472.6 253.5 L472.7 254.5 L472.8 255.5 L472.9 256.5 L473.0 257.5 L473.1 258.5 L473.2 259.5 L473.3 260.5 L473.3 261.5 L473.4 262.5 L473.5 263.5 L473.6 264.5 L473.7 265.5 L473.8 266.5 L473.9 267.5 L474.0 268.5 L474.1 269.5 L474.2 270.5 L474.3 271.5 L474.4 272.4 L474.5 273.4 L474.6 274.4 L474.7 275.4 L474.8 276.4 L474.9 277.4 L475.0 278.4 L475.1 279.4 L475.2 280.4 L475.3 281.4 L475.4 282.4 L475.5 283.4 L475.6 284.4 L475.7 285.4 L475.8 286.4 L475.9 287.4 L476.0 288.4 L476.1 289.4 L476.2 290.4 L476.3 291.4 L476.4 292.4 L476.5 293.4 L476.6 294.4 L476.7 295.4 L476.8 296.4 L476.9 297.3 L477.0 298.3 L477.1 299.3 L477.2 300.3 L477.3 301.3 L477.5 302.3 L477.6 303.3 L477.7 304.3 L477.8 305.3 L477.9 306.3 L478.0 307.3 L478.1 308.3 L478.3 309.3 L478.4 310.3 L478.5 311.3 L478.6 312.3 L478.8 313.3 L478.9 314.3 L479.0 315.3 L479.2 316.2 L479.3 317.2 L479.4 318.2 L479.6 319.2 L479.7 320.2 L479.9 321.2 L480.0 322.2 L480.2 323.2 L480.3 324.2 L480.5 325.2 L480.7 326.2 L480.8 327.1 L481.0 328.1 L481.2 329.1 L481.4 330.1 L481.5 331.1 L481.7 332.1 L481.9 333.1 L482.1 334.1 L482.3 335.0 L482.5 336.0 L482.8 337.0 L483.0 338.0 L483.2 338.9 L483.5 339.9 L483.7 340.8 L484.0 341.8 L484.3 342.8 L484.6 343.7 L484.9 344.7 L485.3 345.6 L485.6 346.6 L486.0 347.5 L486.4 348.4 L486.8 349.3 L487.2 350.3 L487.6 351.2 L488.0 352.1 L488.4 353.1 L488.8 354.0 L489.3 355.0 L489.8 355.9 L490.3 356.8 L490.8 357.6 L491.4 358.4 L492.0 359.0 L492.7 359.6 L493.5 360.1 L494.3 360.6 L495.2 361.1 L496.2 361.5 L497.1 362.0 L498.1 362.4 L499.1 362.8 L500.0 363.2 L500.9 363.6 L501.8 364.0 L502.7 364.4 L503.7 364.8 L504.6 365.2 L505.5 365.6 L506.5 366.0 L507.4 366.3 L508.3 366.7 L509.3 367.0 L510.2 367.3 L511.2 367.6 L512.1 367.9 L513.1 368.2 L514.1 368.5 L515.0 368.8 L516.0 369.1 L517.0 369.4 L518.0 369.6 L518.9 369.9 L519.9 370.1 L520.9 370.3 L521.9 370.4 L522.9 370.5 L523.9 370.5 L524.9 370.5 L525.9 370.5 L526.9 370.4 L527.9 370.4 L528.9 370.3 L529.9 370.2 L530.9 370.1 L531.9 370.0 L532.9 369.9 L533.9 369.8 L534.9 369.6 L535.9 369.4 L536.8 369.2 L537.8 369.0 L538.8 368.7 L539.7 368.5 L540.7 368.2 L541.6 367.8 L542.5 367.4 L543.4 366.9 L544.3 366.4 L545.2 365.9 L546.1 365.5 L546.9 365.0 L547.8 364.5 L548.7 364.0 L549.6 363.5 L550.4 363.0 L551.3 362.5 L552.1 361.9 L552.9 361.4 L553.7 360.8 L554.5 360.2 L555.3 359.6 L556.1 358.9 L556.9 358.3 L557.7 357.7 L558.5 357.1 L559.3 356.5 L560.1 355.9 L560.9 355.3 L561.7 354.7 L562.5 354.1 L563.3 353.5 L564.1 352.9 L564.9 352.3 L565.8 351.8 L566.6 351.2 L567.4 350.6 L568.3 350.1 L569.1 349.5 L570.0 349.0 L570.8 348.5 L571.7 348.0 L572.6 347.6 L573.5 347.1 L574.4 346.7 L575.3 346.3 L576.2 345.9 L577.2 345.6 L578.1 345.2 L579.1 344.9 L580.0 344.6 L581.0 344.4 L582.0 344.2 L583.0 344.1 L584.0 343.9 L585.0 343.8 L586.0 343.7 L587.0 343.6 L588.0 343.6 L589.0 343.6 L590.0 343.7 L591.0 343.8 L592.0 343.9 L593.0 344.1 L594.0 344.2 L594.9 344.3 L595.9 344.5 L596.9 344.8 L597.9 345.0 L598.8 345.3 L599.8 345.5 L600.8 345.8 L601.7 346.1 L602.7 346.5 L603.6 346.8 L604.5 347.2 L605.5 347.6 L606.4 348.0 L607.3 348.3 L608.2 348.7 L609.1 349.2 L610.0 349.6 L611.0 350.0 L611.9 350.4 L612.8 350.9 L613.7 351.3 L614.6 351.8 L615.4 352.2 L616.3 352.7 L617.2 353.1 L618.1 353.6 L619.0 354.0 L619.9 354.5 L620.8 354.9 L621.7 355.4 L622.6 355.8 L623.5 356.3 L624.4 356.7 L625.3 357.1 L626.2 357.6 L627.1 358.0 L628.0 358.4 L628.9 358.8 L629.8 359.2 L630.8 359.6 L631.7 360.0 L632.6 360.4 L633.6 360.7 L634.5 361.1 L635.4 361.4 L636.4 361.7 L637.3 362.0 L638.3 362.3 L639.3 362.6 L640.2 362.9 L641.2 363.2 L642.2 363.4 L643.1 363.7 L644.1 364.0 L645.1 364.3 L646.0 364.5 L647.0 364.7 L648.0 364.8 L649.0 364.9 L650.0 365.0 L651.0 365.0 L652.0 365.1 L653.0 365.2 L654.0 365.2 L655.0 365.2 L656.0 365.3 L657.0 365.3 L658.0 365.3 L659.0 365.3 L660.0 365.3 L661.0 365.3 L662.0 365.3 L663.0 365.3 L664.0 365.3 L665.0 365.2 L666.0 365.2 L667.0 365.2 L668.0 365.2 L669.0 365.2 L670.0 365.1 L671.0 365.1 L672.0 365.0 L673.0 365.0 L674.0 364.9 L675.0 364.8 L676.0 364.7 L677.0 364.6 L678.0 364.5 L679.0 364.4 L680.0 364.3 L681.0 364.2" fill="none" stroke="#00ff00" stroke-width="2.4" stroke-linejoin="round" />
<path d="M374.2 437.3 L375.2 437.3 L376.2 437.3 L377.3 437.2 L378.3 437.2 L379.3 437.1 L380.3 437.1 L381.3 437.0 L382.3 436.9 L383.3 436.8 L384.3 436.7 L385.3 436.6 L386.3 436.4 L387.2 436.3 L388.2 436.2 L389.2 436.1 L390.2 435.9 L391.2 435.8 L392.1 435.6 L393.1 435.4 L394.1 435.1 L395.0 434.8 L396.0 434.5 L396.9 434.2 L397.9 433.9 L398.8 433.5 L399.8 433.2 L400.8 432.9 L401.7 432.6 L402.7 432.3 L403.7 432.0 L404.7 431.8 L405.6 431.5 L406.6 431.3 L407.6 431.0 L408.6 430.7 L409.5 430.4 L410.5 430.1 L411.4 429.8 L412.2 429.4 L413.1 428.9 L413.9 428.4 L414.7 427.9 L415.5 427.3 L416.3 426.7 L417.1 426.0 L417.9 425.3 L418.6 424.6 L419.4 423.9 L420.1 423.2 L420.9 422.5 L421.6 421.8 L422.4 421.2 L423.2 420.5 L424.0 419.9 L424.8 419.3 L425.6 418.7 L426.4 418.0 L427.2 417.4 L428.0 416.8 L428.8 416.1 L429.5 415.4 L430.2 414.7 L430.8 414.0 L431.3 413.2 L431.9 412.4 L432.4 411.5 L432.8 410.7 L433.3 409.8 L433.7 408.8 L434.2 407.9 L434.6 407.0 L435.0 406.0 L435.4 405.1 L435.8 404.2 L436.2 403.3 L436.6 402.4 L437.0 401.4 L437.4 400.5 L437.8 399.6 L438.1 398.6 L438.5 397.7 L438.8 396.8 L439.1 395.8 L439.4 394.9 L439.7 393.9 L440.0 393.0 L440.3 392.0 L440.6 391.0 L440.8 390.1 L441.1 389.1 L441.3 388.1 L441.5 387.1 L441.8 386.1 L442.0 385.2 L442.2 384.2 L442.4 383.2 L442.6 382.2 L442.7 381.2 L442.9 380.2 L443.1 379.3 L443.2 378.3 L443.4 377.3 L443.5 376.3 L443.7 375.3 L443.8 374.3 L444.0 373.3 L444.1 372.3 L444.2 371.3 L444.3 370.3 L444.5 369.3 L444.6 368.3 L444.7 367.3 L444.8 366.3 L444.9 365.3 L445.0 364.4 L445.1 363.4 L445.2 362.4 L445.3 361.4 L445.4 360.4 L445.5 359.4 L445.6 358.4 L445.7 357.4 L445.8 356.4 L445.9 355.4 L446.0 354.4 L446.1 353.4 L446.2 352.4 L446.3 351.4 L446.4 350.4 L446.5 349.4 L446.6 348.4 L446.8 347.4 L446.9 346.4 L447.0 345.4 L447.1 344.4 L447.2 343.4 L447.3 342.4 L447.4 341.4 L447.5 340.4 L447.6 339.4 L447.6 338.4 L447.7 337.4 L447.8 336.4 L447.9 335.4 L448.0 334.4 L448.1 333.4 L448.2 332.4 L448.2 331.4 L448.3 330.4 L448.4 329.4 L448.5 328.4 L448.6 327.4 L448.6 326.4 L448.7 325.4 L448.8 324.4 L448.9 323.4 L449.0 322.4 L449.0 321.4 L449.1 320.4 L449.2 319.4 L449.3 318.4 L449.3 317.4 L449.4 316.4 L449.5 315.5 L449.5 314.5 L449.6 313.5 L449.7 312.5 L449.8 311.5 L449.8 310.5 L449.9 309.5 L450.0 308.5 L450.0 307.5 L450.1 306.5 L450.2 305.5 L450.2 304.5 L450.3 303.5 L450.3 302.5 L450.4 301.5 L450.5 300.5 L450.5 299.5 L450.6 298.5 L450.7 297.5 L450.7 296.5 L450.8 295.5 L450.8 294.5 L450.9 293.5 L450.9 292.5 L451.0 291.5 L451.1 290.5 L451.1 289.5 L451.2 288.4 L451.2 287.4 L451.3 286.4 L451.3 285.4 L451.4 284.4 L451.4 283.4 L451.5 282.4 L451.5 281.4 L451.6 280.4 L451.6 279.4 L451.7 278.4 L451.7 277.4 L451.8 276.4 L451.8 275.4 L451.9 274.4 L451.9 273.4 L452.0 272.4 L452.0 271.4 L452.1 270.4 L452.1 269.4 L452.2 268.4 L452.2 267.4 L452.2 266.4 L452.3 265.4 L452.3 264.4 L452.4 263.4 L452.4 262.4 L452.5 261.4 L452.5 260.4 L452.6 259.4 L452.6 258.4 L452.6 257.4 L452.7 256.4 L452.7 255.4 L452.8 254.4 L452.8 253.4 L452.9 252.4 L452.9 251.4 L453.0 250.4 L453.0 249.4 L453.0 248.4 L453.1 247.4 L453.1 246.4 L453.2 245.4 L453.2 244.4 L453.3 243.4 L453.3 242.4 L453.3 241.4 L453.4 240.4 L453.4 239.4 L453.5 238.4 L453.5 237.4 L453.6 236.4 L453.6 235.4 L453.7 234.4 L453.7 233.4 L453.7 232.4 L453.8 231.4 L453.8 230.4 L453.9 229.4 L453.9 228.4 L454.0 227.4 L454.0 226.4 L454.1 225.4 L454.1 224.4 L454.2 223.4 L454.2 222.4 L454.3 221.4 L454.3 220.4 L454.4 219.4 L454.4 218.4 L454.5 217.4 L454.5 216.4 L454.6 215.4 L454.6 214.4 L454.7 213.4 L454.7 212.4 L454.8 211.4 L454.8 210.4 L454.9 209.4 L454.9 208.4 L455.0 207.4 L455.0 206.4 L455.1 205.4 L455.1 204.4 L455.2 203.4 L455.3 202.4 L455.3 201.4 L455.4 200.4 L455.4 199.4 L455.5 198.4 L455.6 197.4 L455.6 196.4 L455.7 195.4 L455.7 194.4 L455.8 193.4 L455.9 192.4 L455.9 191.4 L456.0 190.4 L456.0 189.4 L456.1 188.4 L456.2 187.4 L456.2 186.4 L456.3 185.4 L456.4 184.4 L456.4 183.4 L456.5 182.4 L456.6 181.4 L456.6 180.4 L456.7 179.4 L456.8 178.4 L456.8 177.4 L456.9 176.4 L457.0 175.4 L457.0 174.4 L457.1 173.4 L457.2 172.4 L457.2 171.4 L457.3 170.4 L457.4 169.4 L457.5 168.4 L457.5 167.4 L457.6 166.4 L457.7 165.4 L457.8 164.4 L457.8 163.4 L457.9 162.4 L458.0 161.4 L458.1 160.4 L458.2 159.4 L458.3 158.4 L458.3 157.4 L458.4 156.4 L458.5 155.4 L458.6 154.4 L458.7 153.4 L458.8 152.4 L458.9 151.4 L459.0 150.4 L459.1 149.4 L459.2 148.4 L459.2 147.4 L459.3 146.4 L459.4 145.4 L459.6 144.4 L459.7 143.4 L459.8 142.4 L459.9 141.4 L460.0 140.4 L460.1 139.4 L460.3 138.4 L460.4 137.4 L460.6 136.4 L460.7 135.5 L460.9 134.4 L461.1 133.2 L461.3 131.9 L461.6 130.8 L461.9 130.1 L462.1 130.1 L462.3 130.6 L462.6 131.7 L462.8 132.9 L463.1 134.2 L463.2 135.3 L463.4 136.3 L463.6 137.2 L463.7 138.2 L463.8 139.2 L464.0 140.2 L464.1 141.2 L464.2 142.2 L464.3 143.2 L464.4 144.2 L464.5 145.2 L464.6 146.2 L464.7 147.2 L464.8 148.2 L464.9 149.2 L465.0 150.2 L465.1 151.2 L465.2 152.2 L465.3 153.2 L465.4 154.2 L465.5 155.2 L465.6 156.2 L465.7 157.2 L465.8 158.2 L465.9 159.2 L465.9 160.2 L466.0 161.2 L466.1 162.2 L466.2 163.2 L466.3 164.2 L466.3 165.2 L466.4 166.2 L466.5 167.2 L466.6 168.2 L466.7 169.2 L466.7 170.2 L466.8 171.2 L466.9 172.2 L467.0 173.2 L467.0 174.2 L467.1 175.2 L467.2 176.2 L467.3 177.2 L467.3 178.2 L467.4 179.2 L467.5 180.1 L467.6 181.1 L467.6 182.1 L467.7 183.1 L467.8 184.1 L467.9 185.1 L467.9 186.1 L468.0 187.1 L468.1 188.1 L468.2 189.1 L468.2 190.1 L468.3 191.1 L468.4 192.1 L468.5 193.1 L468.5 194.1 L468.6 195.1 L468.7 196.1 L468.8 197.1 L468.8 198.1 L468.9 199.1 L469.0 200.1 L469.1 201.1 L469.2 202.1 L469.3 203.1 L469.3 204.1 L469.4 205.1 L469.5 206.1 L469.6 207.1 L469.7 208.1 L469.7 209.1 L469.8 210.1 L469.9 211.1 L470.0 212.1 L470.1 213.1 L470.1 214.1 L470.2 215.1 L470.3 216.1 L470.4 217.1 L470.5 218.1 L470.5 219.1 L470.6 220.1 L470.7 221.1 L470.8 222.1 L470.8 223.1 L470.9 224.1 L471.0 225.1 L471.1 226.1 L471.2 227.1 L471.2 228.1 L471.3 229.1 L471.4 230.1 L471.5 231.1 L471.5 232.1 L471.6 233.1 L471.7 234.1 L471.8 235.1 L471.9 236.1 L471.9 237.1 L472.0 238.1 L472.1 239.1 L472.2 240.1 L472.2 241.1 L472.3 242.1 L472.4 243.1 L472.5 244.1 L472.6 245.1 L472.6 246.1 L472.7 247.1 L472.8 248.1 L472.9 249.1 L473.0 250.1 L473.0 251.1 L473.1 252.1 L473.2 253.1 L473.3 254.1 L473.4 255.1 L473.5 256.1 L473.5 257.1 L473.6 258.1 L473.7 259.1 L473.8 260.1 L473.9 261.1 L473.9 262.1 L474.0 263.1 L474.1 264.1 L474.2 265.1 L474.3 266.1 L474.4 267.1 L474.5 268.1 L474.5 269.1 L474.6 270.1 L474.7 271.1 L474.8 272.1 L474.9 273.1 L475.0 274.1 L475.1 275.1 L475.2 276.1 L475.3 277.1 L475.3 278.1 L475.4 279.1 L475.5 280.0 L475.6 281.0 L475.7 282.0 L475.8 283.0 L475.9 284.0 L476.0 285.0 L476.1 286.0 L476.2 287.0 L476.3 288.0 L476.4 289.0 L476.5 290.0 L476.6 291.0 L476.7 292.0 L476.8 293.0 L476.9 294.0 L477.0 295.0 L477.1 296.0 L477.2 297.0 L477.3 298.0 L477.4 299.0 L477.5 300.0 L477.6 301.0 L477.7 302.0 L477.8 303.0 L477.9 304.0 L478.0 305.0 L478.2 306.0 L478.3 307.0 L478.4 308.0 L478.5 309.0 L478.6 309.9 L478.7 310.9 L478.9 311.9 L479.0 312.9 L479.1 313.9 L479.3 314.9 L479.4 315.9 L479.5 316.9 L479.7 317.9 L479.8 318.9 L480.0 319.9 L480.1 320.9 L480.3 321.9 L480.4 322.8 L480.6 323.8 L480.8 324.8 L480.9 325.8 L481.1 326.8 L481.3 327.8 L481.5 328.8 L481.7 329.8 L481.8 330.8 L482.0 331.8 L482.2 332.7 L482.5 333.7 L482.7 334.7 L482.9 335.7 L483.1 336.7 L483.4 337.6 L483.6 338.6 L483.9 339.5 L484.1 340.5 L484.4 341.4 L484.7 342.4 L485.1 343.3 L485.4 344.3 L485.8 345.2 L486.2 346.2 L486.6 347.1 L487.0 348.0 L487.5 348.9 L487.9 349.8 L488.3 350.7 L488.8 351.6 L489.3 352.6 L489.8 353.5 L490.3 354.4 L490.8 355.3 L491.4 356.1 L491.9 356.9 L492.6 357.6 L493.2 358.2 L494.0 358.7 L494.8 359.2 L495.7 359.7 L496.6 360.1 L497.6 360.5 L498.6 360.9 L499.5 361.3 L500.5 361.8 L501.4 362.2 L502.3 362.6 L503.2 363.1 L504.1 363.5 L505.0 363.9 L505.9 364.4 L506.8 364.8 L507.8 365.2 L508.7 365.5 L509.6 365.9 L510.6 366.2 L511.5 366.5 L512.5 366.9 L513.4 367.2 L514.4 367.5 L515.4 367.9 L516.3 368.2 L517.3 368.5 L518.3 368.8 L519.3 369.0 L520.2 369.2 L521.2 369.4 L522.2 369.5 L523.2 369.6 L524.2 369.6 L525.2 369.6 L526.2 369.5 L527.2 369.5 L528.2 369.4 L529.2 369.3 L530.2 369.2 L531.2 369.1 L532.2 369.0 L533.2 368.8 L534.1 368.7 L535.1 368.4 L536.1 368.2 L537.1 367.9 L538.1 367.7 L539.0 367.3 L539.9 367.0 L540.9 366.7 L541.7 366.2 L542.6 365.7 L543.5 365.2 L544.3 364.7 L545.2 364.1 L546.0 363.6 L546.9 363.0 L547.7 362.5 L548.6 361.9 L549.4 361.4 L550.2 360.8 L551.0 360.2 L551.8 359.6 L552.6 359.0 L553.4 358.4 L554.2 357.7 L554.9 357.1 L555.7 356.4 L556.4 355.7 L557.2 355.0 L557.9 354.4 L558.7 353.7 L559.4 353.0 L560.2 352.4 L560.9 351.7 L561.6 351.0 L562.4 350.4 L563.1 349.7 L563.9 349.1 L564.7 348.4 L565.5 347.8 L566.3 347.2 L567.1 346.6 L567.9 346.0 L568.7 345.4 L569.5 344.8 L570.3 344.3 L571.2 343.7 L572.0 343.2 L572.9 342.6 L573.8 342.1 L574.6 341.6 L575.5 341.2 L576.4 340.8 L577.4 340.4 L578.3 340.0 L579.3 339.7 L580.2 339.4 L581.2 339.1 L582.2 339.0 L583.1 338.9 L584.1 338.7 L585.1 338.6 L586.1 338.6 L587.2 338.5 L588.2 338.5 L589.2 338.5 L590.2 338.6 L591.2 338.7 L592.2 338.8 L593.2 338.9 L594.1 339.0 L595.1 339.2 L596.1 339.4 L597.1 339.6 L598.1 339.9 L599.0 340.2 L600.0 340.5 L600.9 340.8 L601.9 341.2 L602.8 341.5 L603.7 342.0 L604.6 342.4 L605.5 342.8 L606.4 343.2 L607.3 343.6 L608.3 344.1 L609.1 344.5 L610.0 345.0 L610.9 345.4 L611.8 345.9 L612.7 346.4 L613.6 346.8 L614.5 347.3 L615.3 347.8 L616.2 348.3 L617.1 348.8 L618.0 349.3 L618.8 349.8 L619.7 350.3 L620.6 350.8 L621.4 351.3 L622.3 351.8 L623.2 352.3 L624.0 352.8 L624.9 353.3 L625.8 353.8 L626.7 354.3 L627.5 354.7 L628.4 355.2 L629.3 355.7 L630.2 356.1 L631.1 356.6 L632.0 357.0 L632.9 357.4 L633.8 357.9 L634.7 358.3 L635.7 358.7 L636.6 359.0 L637.5 359.4 L638.5 359.8 L639.4 360.1 L640.3 360.5 L641.3 360.8 L642.2 361.1 L643.2 361.4 L644.2 361.7 L645.1 361.9 L646.1 362.2 L647.1 362.4 L648.1 362.6 L649.0 362.8 L650.0 363.0 L651.0 363.1 L652.0 363.3 L653.0 363.5 L654.0 363.6 L655.0 363.7 L656.0 363.8 L657.0 363.9 L658.0 364.0 L659.0 364.1 L660.0 364.1 L661.0 364.2 L662.0 364.2 L663.0 364.3 L664.0 364.3 L665.0 364.4 L666.0 364.4 L667.0 364.4 L668.0 364.4 L669.0 364.4 L670.0 364.4 L671.0 364.4 L672.0 364.3 L673.0 364.3 L674.0 364.2 L675.0 364.2 L676.0 364.1 L677.0 364.0 L678.0 363.9 L679.0 363.8 L680.0 363.7 L681.0 363.6" fill="none" stroke="#ff0000" stroke-width="2.4" stroke-linejoin="round" />
</g>
<line x1="462.0" y1="120.0" x2="462.0" y2="160.0" stroke="#000" stroke-width="2" stroke-dasharray="5 3"/>
<line x1="508.0" y1="345.0" x2="508.0" y2="385.0" stroke="#000" stroke-width="2" stroke-dasharray="5 3"/>
<line x1="588.0" y1="320.0" x2="588.0" y2="360.0" stroke="#000" stroke-width="2" stroke-dasharray="5 3"/>
<text x="454.1" y="117.8" font-size="18.0" textLength="14.4" lengthAdjust="spacingAndGlyphs" text-anchor="start" >R</text>
<text x="503.8" y="337.7" font-size="18.0" textLength="12.2" lengthAdjust="spacingAndGlyphs" text-anchor="start" >S</text>
<text x="582.4" y="312.4" font-size="18.0" textLength="11.3" lengthAdjust="spacingAndGlyphs" text-anchor="start" >T</text>
<rect x="488.9" y="79.0" width="186.0" height="174.6" fill="#fff" stroke="none"/>
<clipPath id="cc"><rect x="488.9" y="79.0" width="186.0" height="174.6"/></clipPath>
<g clip-path="url(#cc)">
<path d="M489.0 251.3 L489.5 251.3 L490.0 251.3 L490.5 251.2 L491.0 251.2 L491.5 251.2 L492.0 251.2 L492.5 251.2 L493.0 251.1 L493.6 251.1 L494.1 251.1 L494.6 251.0 L495.1 251.0 L495.6 250.9 L496.1 250.9 L496.6 250.9 L497.1 250.8 L497.6 250.8 L498.1 250.7 L498.6 250.7 L499.1 250.6 L499.6 250.6 L500.1 250.5 L500.6 250.5 L501.1 250.4 L501.6 250.4 L502.1 250.3 L502.6 250.2 L503.1 250.2 L503.6 250.1 L504.1 250.0 L504.6 250.0 L505.1 249.9 L505.6 249.8 L506.1 249.8 L506.6 249.7 L507.0 249.6 L507.5 249.6 L508.0 249.5 L508.5 249.4 L509.0 249.3 L509.5 249.3 L510.0 249.2 L510.5 249.1 L511.0 249.0 L511.5 249.0 L512.0 248.9 L512.5 248.8 L513.0 248.7 L513.5 248.6 L514.0 248.6 L514.5 248.5 L514.9 248.4 L515.4 248.3 L515.9 248.2 L516.4 248.1 L516.9 248.0 L517.4 248.0 L517.9 247.9 L518.4 247.8 L518.9 247.7 L519.4 247.6 L519.8 247.5 L520.3 247.4 L520.8 247.3 L521.3 247.3 L521.8 247.2 L522.3 247.1 L522.8 247.0 L523.3 246.9 L523.8 246.8 L524.3 246.7 L524.8 246.5 L525.3 246.4 L525.8 246.3 L526.3 246.2 L526.8 246.1 L527.3 246.0 L527.8 245.8 L528.3 245.7 L528.8 245.6 L529.3 245.5 L529.8 245.3 L530.3 245.2 L530.8 245.0 L531.2 244.9 L531.7 244.8 L532.2 244.6 L532.7 244.5 L533.2 244.3 L533.7 244.2 L534.1 244.0 L534.6 243.8 L535.1 243.7 L535.6 243.5 L536.0 243.3 L536.5 243.2 L536.9 243.0 L537.4 242.8 L537.9 242.6 L538.3 242.4 L538.8 242.3 L539.2 242.1 L539.6 241.9 L540.1 241.7 L540.5 241.5 L540.9 241.2 L541.4 241.0 L541.8 240.8 L542.2 240.5 L542.7 240.3 L543.1 240.0 L543.6 239.7 L544.0 239.4 L544.4 239.1 L544.9 238.8 L545.3 238.5 L545.7 238.2 L546.1 237.9 L546.5 237.6 L546.9 237.2 L547.3 236.9 L547.7 236.5 L548.1 236.2 L548.4 235.8 L548.8 235.5 L549.1 235.1 L549.5 234.8 L549.8 234.4 L550.1 234.0 L550.4 233.7 L550.7 233.3 L550.9 232.9 L551.2 232.5 L551.5 232.1 L551.7 231.7 L552.0 231.3 L552.2 230.9 L552.4 230.5 L552.7 230.0 L552.9 229.6 L553.1 229.1 L553.3 228.7 L553.6 228.2 L553.8 227.7 L554.0 227.3 L554.2 226.8 L554.4 226.3 L554.6 225.8 L554.8 225.4 L555.0 224.9 L555.2 224.4 L555.4 223.9 L555.5 223.4 L555.7 222.9 L555.9 222.5 L556.1 222.0 L556.3 221.5 L556.4 221.0 L556.6 220.5 L556.8 220.1 L556.9 219.6 L557.1 219.1 L557.3 218.7 L557.4 218.2 L557.6 217.7 L557.8 217.2 L557.9 216.8 L558.1 216.3 L558.2 215.8 L558.4 215.3 L558.5 214.9 L558.7 214.4 L558.8 213.9 L558.9 213.4 L559.1 212.9 L559.2 212.5 L559.4 212.0 L559.5 211.5 L559.6 211.0 L559.8 210.5 L559.9 210.0 L560.0 209.5 L560.2 209.1 L560.3 208.6 L560.4 208.1 L560.6 207.6 L560.7 207.1 L560.8 206.6 L561.0 206.2 L561.1 205.7 L561.2 205.2 L561.3 204.7 L561.5 204.2 L561.6 203.7 L561.7 203.2 L561.8 202.8 L562.0 202.3 L562.1 201.8 L562.2 201.3 L562.3 200.8 L562.4 200.3 L562.6 199.8 L562.7 199.4 L562.8 198.9 L562.9 198.4 L563.0 197.9 L563.1 197.4 L563.2 196.9 L563.4 196.4 L563.5 195.9 L563.6 195.4 L563.7 195.0 L563.8 194.5 L563.9 194.0 L564.0 193.5 L564.2 193.0 L564.3 192.5 L564.4 192.0 L564.5 191.5 L564.6 191.1 L564.7 190.6 L564.9 190.1 L565.0 189.6 L565.1 189.1 L565.2 188.6 L565.4 188.1 L565.5 187.7 L565.6 187.2 L565.8 186.7 L565.9 186.2 L566.0 185.7 L566.2 185.2 L566.3 184.8 L566.5 184.3 L566.6 183.8 L566.8 183.3 L566.9 182.8 L567.0 182.4 L567.2 181.9 L567.3 181.4 L567.4 180.9 L567.5 180.4 L567.6 179.9 L567.7 179.4 L567.8 178.9 L567.9 178.5 L568.0 178.0 L568.1 177.5 L568.2 177.0 L568.2 176.5 L568.3 176.0 L568.4 175.5 L568.5 175.0 L568.6 174.5 L568.6 174.0 L568.7 173.5 L568.8 173.0 L568.8 172.5 L568.9 172.0 L569.0 171.5 L569.0 171.0 L569.1 170.5 L569.2 170.1 L569.2 169.6 L569.3 169.1 L569.4 168.6 L569.4 168.1 L569.5 167.6 L569.6 167.1 L569.6 166.6 L569.7 166.1 L569.7 165.6 L569.8 165.1 L569.8 164.6 L569.9 164.1 L570.0 163.6 L570.0 163.1 L570.1 162.6 L570.1 162.1 L570.2 161.6 L570.3 161.1 L570.3 160.6 L570.4 160.1 L570.4 159.6 L570.5 159.1 L570.6 158.6 L570.6 158.1 L570.7 157.6 L570.8 157.1 L570.8 156.6 L570.9 156.1 L571.0 155.6 L571.0 155.1 L571.1 154.6 L571.2 154.1 L571.2 153.6 L571.3 153.1 L571.4 152.6 L571.5 152.1 L571.5 151.6 L571.6 151.1 L571.7 150.6 L571.8 150.1 L571.9 149.6 L571.9 149.2 L572.0 148.7 L572.1 148.2 L572.2 147.7 L572.3 147.2 L572.4 146.7 L572.5 146.2 L572.6 145.7 L572.7 145.2 L572.8 144.7 L572.9 144.2 L573.0 143.7 L573.1 143.2 L573.2 142.8 L573.3 142.3 L573.4 141.8 L573.5 141.3 L573.6 140.8 L573.7 140.3 L573.8 139.8 L573.9 139.3 L574.0 138.8 L574.1 138.3 L574.2 137.9 L574.4 137.4 L574.5 136.9 L574.6 136.4 L574.7 135.9 L574.8 135.4 L574.9 134.9 L575.0 134.4 L575.1 133.9 L575.3 133.5 L575.4 133.0 L575.5 132.5 L575.6 132.0 L575.7 131.5 L575.8 130.9 L576.0 130.3 L576.1 129.7 L576.2 129.1 L576.3 128.4 L576.5 127.8 L576.6 127.2 L576.7 126.5 L576.9 125.9 L577.0 125.4 L577.1 124.8 L577.3 124.4 L577.4 124.0 L577.5 123.6 L577.7 123.3 L577.8 123.1 L577.9 123.0 L578.1 123.0 L578.2 123.1 L578.3 123.3 L578.4 123.6 L578.6 123.9 L578.7 124.3 L578.8 124.8 L579.0 125.3 L579.1 125.9 L579.2 126.5 L579.4 127.1 L579.5 127.7 L579.6 128.4 L579.7 129.0 L579.9 129.6 L580.0 130.3 L580.1 130.9 L580.3 131.4 L580.4 131.9 L580.5 132.4 L580.6 132.9 L580.8 133.4 L580.9 133.9 L581.0 134.4 L581.1 134.8 L581.2 135.3 L581.4 135.8 L581.5 136.3 L581.6 136.8 L581.7 137.3 L581.9 137.8 L582.0 138.2 L582.1 138.7 L582.2 139.2 L582.3 139.7 L582.5 140.2 L582.6 140.7 L582.7 141.2 L582.8 141.7 L582.9 142.1 L583.0 142.6 L583.2 143.1 L583.3 143.6 L583.4 144.1 L583.5 144.6 L583.6 145.1 L583.8 145.6 L583.9 146.0 L584.0 146.5 L584.1 147.0 L584.2 147.5 L584.3 148.0 L584.4 148.5 L584.6 149.0 L584.7 149.5 L584.8 149.9 L584.9 150.4 L585.0 150.9 L585.1 151.4 L585.2 151.9 L585.3 152.4 L585.5 152.9 L585.6 153.4 L585.7 153.9 L585.8 154.3 L585.9 154.8 L586.0 155.3 L586.1 155.8 L586.2 156.3 L586.3 156.8 L586.4 157.3 L586.5 157.8 L586.6 158.3 L586.7 158.8 L586.8 159.3 L586.9 159.8 L587.0 160.2 L587.1 160.7 L587.2 161.2 L587.3 161.7 L587.4 162.2 L587.5 162.7 L587.6 163.2 L587.7 163.7 L587.8 164.2 L587.9 164.7 L588.0 165.2 L588.1 165.7 L588.2 166.1 L588.3 166.6 L588.4 167.1 L588.5 167.6 L588.6 168.1 L588.7 168.6 L588.8 169.1 L588.9 169.6 L589.0 170.1 L589.1 170.6 L589.2 171.1 L589.3 171.5 L589.5 172.0 L589.6 172.5 L589.7 173.0 L589.8 173.5 L589.9 174.0 L590.0 174.5 L590.1 175.0 L590.2 175.4 L590.4 175.9 L590.5 176.4 L590.6 176.9 L590.7 177.4 L590.8 177.9 L591.0 178.4 L591.1 178.8 L591.2 179.3 L591.3 179.8 L591.5 180.3 L591.6 180.8 L591.7 181.3 L591.9 181.7 L592.0 182.2 L592.2 182.7 L592.3 183.2 L592.5 183.6 L592.6 184.1 L592.8 184.6 L592.9 185.1 L593.1 185.6 L593.3 186.0 L593.4 186.5 L593.6 187.0 L593.7 187.5 L593.9 187.9 L594.1 188.4 L594.2 188.9 L594.4 189.4 L594.5 189.8 L594.7 190.3 L594.9 190.8 L595.0 191.3 L595.2 191.7 L595.3 192.2 L595.5 192.7 L595.7 193.2 L595.8 193.6 L596.0 194.1 L596.1 194.6 L596.3 195.1 L596.5 195.6 L596.6 196.0 L596.8 196.5 L597.0 197.0 L597.2 197.4 L597.3 197.9 L597.5 198.4 L597.7 198.9 L597.9 199.3 L598.0 199.8 L598.2 200.2 L598.4 200.7 L598.6 201.2 L598.8 201.6 L599.0 202.1 L599.2 202.5 L599.5 203.0 L599.7 203.4 L599.9 203.9 L600.1 204.3 L600.3 204.8 L600.6 205.3 L600.8 205.7 L601.0 206.2 L601.3 206.6 L601.5 207.1 L601.8 207.5 L602.0 208.0 L602.3 208.4 L602.5 208.8 L602.8 209.3 L603.1 209.7 L603.4 210.1 L603.6 210.5 L603.9 210.9 L604.2 211.3 L604.5 211.7 L604.8 212.1 L605.1 212.4 L605.5 212.8 L605.8 213.1 L606.1 213.5 L606.5 213.8 L606.9 214.2 L607.3 214.5 L607.6 214.9 L608.0 215.2 L608.4 215.5 L608.9 215.8 L609.3 216.1 L609.7 216.4 L610.1 216.7 L610.5 217.0 L611.0 217.2 L611.4 217.5 L611.8 217.7 L612.3 217.9 L612.7 218.1 L613.1 218.4 L613.6 218.6 L614.0 218.8 L614.5 218.9 L615.0 219.1 L615.4 219.3 L615.9 219.5 L616.4 219.7 L616.8 219.8 L617.3 220.0 L617.8 220.2 L618.3 220.3 L618.8 220.5 L619.3 220.6 L619.7 220.8 L620.2 220.9 L620.7 221.1 L621.2 221.2 L621.7 221.3 L622.2 221.5 L622.7 221.6 L623.2 221.8 L623.6 221.9 L624.1 222.0 L624.6 222.2 L625.1 222.3 L625.6 222.4 L626.1 222.5 L626.6 222.6 L627.1 222.7 L627.5 222.9 L628.0 223.0 L628.5 223.2 L628.9 223.4 L629.4 223.5 L629.9 223.8 L630.4 224.0 L630.9 224.2 L631.3 224.5 L631.8 224.7 L632.3 225.0 L632.7 225.3 L633.2 225.5 L633.6 225.8 L634.0 226.1 L634.4 226.4 L634.8 226.8 L635.2 227.1 L635.5 227.4 L635.8 227.7 L636.1 228.1 L636.3 228.4 L636.5 228.8 L636.8 229.2 L637.0 229.6 L637.2 230.0 L637.4 230.5 L637.6 231.0 L637.7 231.4 L637.9 231.9 L638.1 232.4 L638.2 232.9 L638.4 233.4 L638.6 233.9 L638.7 234.4 L638.9 234.9 L639.0 235.4 L639.2 235.9 L639.4 236.4 L639.6 236.9 L639.7 237.4 L639.9 237.9 L640.1 238.3 L640.3 238.8 L640.5 239.3 L640.7 239.7 L640.9 240.2 L641.1 240.7 L641.3 241.2 L641.6 241.7 L641.8 242.1 L642.0 242.6 L642.2 243.1 L642.4 243.5 L642.7 244.0 L642.9 244.4 L643.1 244.8 L643.4 245.2 L643.7 245.6 L644.0 246.0 L644.3 246.3 L644.6 246.7 L644.9 247.0 L645.3 247.4 L645.7 247.8 L646.1 248.1 L646.5 248.5 L646.9 248.8 L647.3 249.1 L647.8 249.4 L648.2 249.7 L648.7 249.9 L649.1 250.1 L649.6 250.3 L650.0 250.4 L650.5 250.5 L650.9 250.6 L651.4 250.7 L651.9 250.8 L652.4 250.9 L652.8 250.9 L653.3 251.0 L653.8 251.1 L654.3 251.1 L654.9 251.2 L655.4 251.3 L655.9 251.3 L656.4 251.4 L656.9 251.4 L657.4 251.4 L657.9 251.5 L658.5 251.5 L659.0 251.5 L659.5 251.6 L660.0 251.6 L660.5 251.6 L661.0 251.6 L661.5 251.7 L662.0 251.7 L662.5 251.7 L663.0 251.7 L663.5 251.7 L664.0 251.8 L664.5 251.8 L665.0 251.8 L665.5 251.8 L666.0 251.8 L666.5 251.9 L667.0 251.9 L667.5 251.9 L668.0 251.9 L668.5 251.9 L669.0 251.9 L669.5 251.9 L670.0 251.9 L670.5 252.0 L671.0 252.0 L671.5 252.0 L672.0 252.0 L672.5 252.0 L673.0 252.0 L673.5 252.0 L674.0 252.0 L674.5 252.0 L675.0 252.0" fill="none" stroke="#00ff00" stroke-width="2.4" stroke-linejoin="round" />
<path d="M489.0 251.0 L489.5 251.0 L490.0 251.0 L490.5 250.9 L491.0 250.9 L491.5 250.9 L492.0 250.9 L492.5 250.8 L493.0 250.8 L493.5 250.8 L494.1 250.7 L494.6 250.7 L495.1 250.7 L495.6 250.6 L496.1 250.6 L496.6 250.5 L497.1 250.5 L497.6 250.4 L498.1 250.4 L498.6 250.3 L499.1 250.3 L499.6 250.2 L500.1 250.2 L500.6 250.1 L501.1 250.0 L501.6 250.0 L502.1 249.9 L502.6 249.9 L503.1 249.8 L503.6 249.7 L504.0 249.7 L504.5 249.6 L505.0 249.5 L505.5 249.5 L506.0 249.4 L506.5 249.3 L507.0 249.2 L507.5 249.2 L508.0 249.1 L508.5 249.0 L509.0 248.9 L509.5 248.9 L510.0 248.8 L510.5 248.7 L511.0 248.6 L511.5 248.5 L512.0 248.4 L512.5 248.4 L512.9 248.3 L513.4 248.2 L513.9 248.1 L514.4 248.0 L514.9 247.9 L515.4 247.8 L515.9 247.8 L516.4 247.7 L516.9 247.6 L517.4 247.5 L517.8 247.4 L518.3 247.3 L518.8 247.2 L519.3 247.1 L519.8 247.0 L520.3 246.9 L520.8 246.9 L521.3 246.8 L521.8 246.7 L522.2 246.6 L522.7 246.5 L523.2 246.4 L523.7 246.2 L524.2 246.1 L524.7 246.0 L525.2 245.9 L525.7 245.8 L526.2 245.7 L526.7 245.5 L527.2 245.4 L527.7 245.3 L528.2 245.2 L528.7 245.0 L529.2 244.9 L529.7 244.8 L530.2 244.6 L530.7 244.5 L531.2 244.3 L531.6 244.2 L532.1 244.0 L532.6 243.9 L533.1 243.7 L533.6 243.6 L534.0 243.4 L534.5 243.2 L535.0 243.1 L535.5 242.9 L535.9 242.7 L536.4 242.5 L536.8 242.4 L537.3 242.2 L537.8 242.0 L538.2 241.8 L538.6 241.6 L539.1 241.4 L539.5 241.2 L539.9 241.0 L540.4 240.8 L540.8 240.6 L541.2 240.4 L541.7 240.1 L542.1 239.9 L542.5 239.6 L543.0 239.3 L543.4 239.0 L543.8 238.8 L544.3 238.5 L544.7 238.1 L545.1 237.8 L545.5 237.5 L545.9 237.2 L546.3 236.8 L546.7 236.5 L547.1 236.2 L547.5 235.8 L547.9 235.4 L548.2 235.1 L548.6 234.7 L548.9 234.4 L549.2 234.0 L549.5 233.6 L549.8 233.3 L550.1 232.9 L550.4 232.5 L550.6 232.1 L550.9 231.7 L551.1 231.3 L551.4 230.9 L551.6 230.5 L551.9 230.0 L552.1 229.6 L552.3 229.2 L552.5 228.7 L552.8 228.3 L553.0 227.8 L553.2 227.3 L553.4 226.9 L553.6 226.4 L553.8 225.9 L554.0 225.4 L554.2 224.9 L554.4 224.5 L554.6 224.0 L554.7 223.5 L554.9 223.0 L555.1 222.5 L555.3 222.0 L555.4 221.6 L555.6 221.1 L555.8 220.6 L556.0 220.1 L556.1 219.7 L556.3 219.2 L556.4 218.7 L556.6 218.3 L556.8 217.8 L556.9 217.3 L557.1 216.8 L557.2 216.4 L557.3 215.9 L557.5 215.4 L557.6 214.9 L557.8 214.4 L557.9 214.0 L558.0 213.5 L558.2 213.0 L558.3 212.5 L558.4 212.0 L558.6 211.5 L558.7 211.0 L558.8 210.6 L559.0 210.1 L559.1 209.6 L559.2 209.1 L559.3 208.6 L559.5 208.1 L559.6 207.6 L559.7 207.2 L559.8 206.7 L560.0 206.2 L560.1 205.7 L560.2 205.2 L560.3 204.7 L560.4 204.2 L560.5 203.8 L560.7 203.3 L560.8 202.8 L560.9 202.3 L561.0 201.8 L561.1 201.3 L561.2 200.8 L561.3 200.3 L561.4 199.8 L561.5 199.4 L561.6 198.9 L561.7 198.4 L561.8 197.9 L561.9 197.4 L562.1 196.9 L562.2 196.4 L562.3 195.9 L562.4 195.4 L562.5 194.9 L562.6 194.5 L562.7 194.0 L562.8 193.5 L562.9 193.0 L563.0 192.5 L563.1 192.0 L563.2 191.5 L563.3 191.0 L563.4 190.5 L563.5 190.0 L563.6 189.6 L563.7 189.1 L563.9 188.6 L564.0 188.1 L564.1 187.6 L564.2 187.1 L564.3 186.6 L564.5 186.2 L564.6 185.7 L564.7 185.2 L564.9 184.7 L565.0 184.2 L565.1 183.7 L565.2 183.2 L565.4 182.8 L565.5 182.3 L565.6 181.8 L565.7 181.3 L565.8 180.8 L565.9 180.3 L566.0 179.8 L566.1 179.3 L566.2 178.9 L566.3 178.4 L566.4 177.9 L566.5 177.4 L566.6 176.9 L566.6 176.4 L566.7 175.9 L566.8 175.4 L566.9 174.9 L566.9 174.4 L567.0 173.9 L567.1 173.4 L567.2 172.9 L567.2 172.4 L567.3 171.9 L567.4 171.4 L567.4 171.0 L567.5 170.5 L567.6 170.0 L567.6 169.5 L567.7 169.0 L567.7 168.5 L567.8 168.0 L567.9 167.5 L567.9 167.0 L568.0 166.5 L568.1 166.0 L568.1 165.5 L568.2 165.0 L568.2 164.5 L568.3 164.0 L568.4 163.5 L568.4 163.0 L568.5 162.5 L568.5 162.0 L568.6 161.5 L568.7 161.0 L568.7 160.5 L568.8 160.0 L568.8 159.5 L568.9 159.0 L569.0 158.5 L569.0 158.0 L569.1 157.5 L569.2 157.0 L569.2 156.5 L569.3 156.0 L569.4 155.5 L569.4 155.0 L569.5 154.5 L569.6 154.0 L569.6 153.5 L569.7 153.0 L569.8 152.6 L569.9 152.1 L569.9 151.6 L570.0 151.1 L570.1 150.6 L570.2 150.1 L570.3 149.6 L570.4 149.1 L570.4 148.6 L570.5 148.1 L570.6 147.6 L570.7 147.1 L570.8 146.6 L570.9 146.1 L571.0 145.7 L571.1 145.2 L571.2 144.7 L571.3 144.2 L571.4 143.7 L571.5 143.2 L571.6 142.7 L571.7 142.2 L571.8 141.7 L571.9 141.2 L572.0 140.7 L572.1 140.3 L572.2 139.8 L572.3 139.3 L572.4 138.8 L572.5 138.3 L572.6 137.8 L572.7 137.3 L572.8 136.8 L573.0 136.3 L573.1 135.8 L573.2 135.4 L573.3 134.9 L573.4 134.4 L573.5 133.9 L573.6 133.4 L573.7 132.9 L573.9 132.4 L574.0 131.9 L574.1 131.5 L574.2 131.0 L574.3 130.5 L574.4 130.0 L574.6 129.5 L574.7 129.0 L574.8 128.5 L574.9 128.0 L575.0 127.6 L575.1 127.1 L575.3 126.6 L575.4 126.1 L575.5 125.6 L575.7 125.1 L575.8 124.6 L575.9 124.2 L576.1 123.7 L576.2 123.2 L576.4 122.7 L576.5 122.3 L576.7 121.8 L576.8 121.2 L577.0 120.6 L577.2 120.0 L577.4 119.4 L577.6 119.0 L577.8 118.7 L578.0 118.6 L578.2 118.7 L578.4 119.1 L578.6 119.6 L578.8 120.1 L579.0 120.7 L579.2 121.3 L579.4 121.9 L579.5 122.4 L579.7 122.8 L579.8 123.3 L580.0 123.8 L580.1 124.3 L580.2 124.8 L580.4 125.2 L580.5 125.7 L580.6 126.2 L580.7 126.7 L580.9 127.2 L581.0 127.7 L581.1 128.2 L581.2 128.6 L581.3 129.1 L581.5 129.6 L581.6 130.1 L581.7 130.6 L581.8 131.1 L581.9 131.6 L582.1 132.1 L582.2 132.5 L582.3 133.0 L582.4 133.5 L582.6 134.0 L582.7 134.5 L582.8 135.0 L582.9 135.4 L583.0 135.9 L583.2 136.4 L583.3 136.9 L583.4 137.4 L583.5 137.9 L583.6 138.4 L583.8 138.9 L583.9 139.3 L584.0 139.8 L584.1 140.3 L584.2 140.8 L584.3 141.3 L584.5 141.8 L584.6 142.3 L584.7 142.7 L584.8 143.2 L584.9 143.7 L585.0 144.2 L585.2 144.7 L585.3 145.2 L585.4 145.7 L585.5 146.2 L585.6 146.6 L585.7 147.1 L585.8 147.6 L586.0 148.1 L586.1 148.6 L586.2 149.1 L586.3 149.6 L586.4 150.1 L586.5 150.5 L586.6 151.0 L586.7 151.5 L586.9 152.0 L587.0 152.5 L587.1 153.0 L587.2 153.5 L587.3 154.0 L587.4 154.5 L587.5 154.9 L587.6 155.4 L587.7 155.9 L587.8 156.4 L587.9 156.9 L588.0 157.4 L588.1 157.9 L588.2 158.4 L588.3 158.9 L588.4 159.4 L588.5 159.9 L588.6 160.3 L588.7 160.8 L588.8 161.3 L588.9 161.8 L589.0 162.3 L589.1 162.8 L589.2 163.3 L589.3 163.8 L589.4 164.3 L589.5 164.8 L589.6 165.3 L589.7 165.7 L589.8 166.2 L590.0 166.7 L590.1 167.2 L590.2 167.7 L590.3 168.2 L590.4 168.7 L590.5 169.2 L590.6 169.7 L590.7 170.2 L590.8 170.6 L590.9 171.1 L591.0 171.6 L591.1 172.1 L591.2 172.6 L591.3 173.1 L591.4 173.6 L591.6 174.1 L591.7 174.6 L591.8 175.0 L591.9 175.5 L592.0 176.0 L592.1 176.5 L592.2 177.0 L592.4 177.5 L592.5 178.0 L592.6 178.4 L592.7 178.9 L592.8 179.4 L593.0 179.9 L593.1 180.4 L593.2 180.9 L593.4 181.3 L593.5 181.8 L593.6 182.3 L593.8 182.8 L593.9 183.3 L594.1 183.7 L594.2 184.2 L594.3 184.7 L594.5 185.2 L594.6 185.7 L594.8 186.1 L594.9 186.6 L595.1 187.1 L595.2 187.6 L595.4 188.1 L595.5 188.5 L595.7 189.0 L595.8 189.5 L596.0 190.0 L596.1 190.4 L596.3 190.9 L596.4 191.4 L596.6 191.9 L596.7 192.4 L596.9 192.8 L597.0 193.3 L597.2 193.8 L597.3 194.3 L597.5 194.8 L597.6 195.3 L597.7 195.7 L597.9 196.2 L598.1 196.7 L598.2 197.2 L598.4 197.7 L598.5 198.1 L598.7 198.6 L598.9 199.1 L599.0 199.5 L599.2 200.0 L599.4 200.5 L599.6 200.9 L599.7 201.4 L599.9 201.8 L600.1 202.3 L600.3 202.8 L600.5 203.2 L600.8 203.7 L601.0 204.1 L601.2 204.6 L601.4 205.0 L601.7 205.5 L601.9 205.9 L602.2 206.4 L602.4 206.8 L602.7 207.3 L602.9 207.7 L603.2 208.1 L603.5 208.6 L603.7 209.0 L604.0 209.4 L604.3 209.8 L604.6 210.2 L604.9 210.6 L605.2 211.0 L605.5 211.4 L605.8 211.8 L606.1 212.1 L606.4 212.5 L606.8 212.9 L607.1 213.2 L607.5 213.6 L607.9 213.9 L608.2 214.3 L608.6 214.6 L609.0 215.0 L609.4 215.3 L609.8 215.6 L610.2 215.9 L610.6 216.2 L611.1 216.5 L611.5 216.7 L611.9 217.0 L612.3 217.2 L612.8 217.4 L613.2 217.6 L613.6 217.8 L614.1 218.0 L614.5 218.2 L615.0 218.4 L615.5 218.6 L615.9 218.8 L616.4 218.9 L616.9 219.1 L617.4 219.3 L617.9 219.4 L618.4 219.6 L618.8 219.8 L619.3 219.9 L619.8 220.0 L620.3 220.2 L620.8 220.3 L621.3 220.4 L621.8 220.6 L622.3 220.7 L622.8 220.8 L623.3 220.9 L623.8 221.0 L624.3 221.0 L624.7 221.1 L625.2 221.2 L625.7 221.3 L626.2 221.3 L626.7 221.4 L627.2 221.4 L627.7 221.5 L628.2 221.5 L628.7 221.6 L629.2 221.6 L629.7 221.7 L630.2 221.7 L630.7 221.8 L631.2 221.8 L631.7 221.9 L632.2 221.9 L632.7 222.0 L633.2 222.0 L633.7 222.1 L634.2 222.1 L634.7 222.2 L635.2 222.3 L635.7 222.4 L636.2 222.4 L636.7 222.5 L637.2 222.6 L637.7 222.7 L638.1 222.8 L638.6 222.9 L639.1 223.0 L639.6 223.2 L640.1 223.3 L640.6 223.4 L641.1 223.6 L641.6 223.7 L642.1 223.8 L642.5 224.0 L643.0 224.2 L643.5 224.3 L644.0 224.5 L644.5 224.6 L644.9 224.8 L645.4 225.0 L645.9 225.2 L646.3 225.3 L646.8 225.5 L647.3 225.7 L647.7 225.9 L648.2 226.1 L648.6 226.3 L649.1 226.5 L649.6 226.7 L650.0 226.9 L650.5 227.1 L651.0 227.4 L651.5 227.6 L651.9 227.9 L652.4 228.1 L652.8 228.4 L653.3 228.7 L653.7 229.0 L654.1 229.3 L654.5 229.6 L654.9 229.9 L655.2 230.2 L655.6 230.5 L655.9 230.8 L656.1 231.2 L656.4 231.5 L656.6 231.9 L656.9 232.3 L657.1 232.7 L657.3 233.2 L657.5 233.6 L657.7 234.1 L657.9 234.6 L658.1 235.1 L658.3 235.6 L658.5 236.0 L658.6 236.5 L658.8 237.0 L659.0 237.5 L659.2 238.0 L659.4 238.5 L659.6 239.0 L659.8 239.5 L660.0 239.9 L660.2 240.4 L660.4 240.9 L660.6 241.3 L660.8 241.8 L661.0 242.3 L661.2 242.8 L661.4 243.3 L661.6 243.8 L661.8 244.3 L662.0 244.7 L662.2 245.2 L662.4 245.6 L662.7 246.1 L662.9 246.5 L663.2 246.9 L663.4 247.3 L663.7 247.7 L664.0 248.0 L664.3 248.3 L664.7 248.7 L665.0 249.0 L665.4 249.3 L665.8 249.6 L666.3 250.0 L666.7 250.3 L667.2 250.5 L667.6 250.8 L668.1 251.0 L668.6 251.2 L669.1 251.4 L669.5 251.5 L670.0 251.6 L670.5 251.7 L671.0 251.7 L671.4 251.8 L671.9 251.8 L672.4 251.9 L672.9 251.9 L673.4 252.0 L674.0 252.0 L674.5 252.0 L675.0 252.0" fill="none" stroke="#ff0000" stroke-width="1.8" stroke-linejoin="round" />
<g fill="#ff0000">
<path d="M489.5 248.8 l2.2 2.2 l-2.2 2.2 l-2.2 -2.2z"/>
<path d="M491.2 248.7 l2.2 2.2 l-2.2 2.2 l-2.2 -2.2z"/>
<path d="M493.0 248.6 l2.2 2.2 l-2.2 2.2 l-2.2 -2.2z"/>
<path d="M494.8 248.5 l2.2 2.2 l-2.2 2.2 l-2.2 -2.2z"/>
<path d="M496.5 248.3 l2.2 2.2 l-2.2 2.2 l-2.2 -2.2z"/>
<path d="M498.2 248.2 l2.2 2.2 l-2.2 2.2 l-2.2 -2.2z"/>
<path d="M500.0 248.0 l2.2 2.2 l-2.2 2.2 l-2.2 -2.2z"/>
<path d="M501.8 247.8 l2.2 2.2 l-2.2 2.2 l-2.2 -2.2z"/>
<path d="M503.5 247.5 l2.2 2.2 l-2.2 2.2 l-2.2 -2.2z"/>
<path d="M505.2 247.3 l2.2 2.2 l-2.2 2.2 l-2.2 -2.2z"/>
<path d="M507.0 247.0 l2.2 2.2 l-2.2 2.2 l-2.2 -2.2z"/>
<path d="M508.8 246.8 l2.2 2.2 l-2.2 2.2 l-2.2 -2.2z"/>
<path d="M510.5 246.5 l2.2 2.2 l-2.2 2.2 l-2.2 -2.2z"/>
<path d="M512.2 246.2 l2.2 2.2 l-2.2 2.2 l-2.2 -2.2z"/>
<path d="M514.0 245.9 l2.2 2.2 l-2.2 2.2 l-2.2 -2.2z"/>
<path d="M515.8 245.6 l2.2 2.2 l-2.2 2.2 l-2.2 -2.2z"/>
<path d="M517.5 245.3 l2.2 2.2 l-2.2 2.2 l-2.2 -2.2z"/>
<path d="M519.2 244.9 l2.2 2.2 l-2.2 2.2 l-2.2 -2.2z"/>
<path d="M521.0 244.6 l2.2 2.2 l-2.2 2.2 l-2.2 -2.2z"/>
<path d="M522.8 244.3 l2.2 2.2 l-2.2 2.2 l-2.2 -2.2z"/>
<path d="M524.5 243.9 l2.2 2.2 l-2.2 2.2 l-2.2 -2.2z"/>
<path d="M526.2 243.5 l2.2 2.2 l-2.2 2.2 l-2.2 -2.2z"/>
<path d="M528.0 243.0 l2.2 2.2 l-2.2 2.2 l-2.2 -2.2z"/>
<path d="M529.8 242.5 l2.2 2.2 l-2.2 2.2 l-2.2 -2.2z"/>
<path d="M531.5 242.0 l2.2 2.2 l-2.2 2.2 l-2.2 -2.2z"/>
<path d="M533.2 241.5 l2.2 2.2 l-2.2 2.2 l-2.2 -2.2z"/>
<path d="M535.0 240.9 l2.2 2.2 l-2.2 2.2 l-2.2 -2.2z"/>
<path d="M536.8 240.2 l2.2 2.2 l-2.2 2.2 l-2.2 -2.2z"/>
<path d="M538.5 239.5 l2.2 2.2 l-2.2 2.2 l-2.2 -2.2z"/>
<path d="M540.2 238.7 l2.2 2.2 l-2.2 2.2 l-2.2 -2.2z"/>
<path d="M542.0 237.7 l2.2 2.2 l-2.2 2.2 l-2.2 -2.2z"/>
<path d="M543.8 236.6 l2.2 2.2 l-2.2 2.2 l-2.2 -2.2z"/>
<path d="M545.5 235.3 l2.2 2.2 l-2.2 2.2 l-2.2 -2.2z"/>
<path d="M547.2 233.8 l2.2 2.2 l-2.2 2.2 l-2.2 -2.2z"/>
<path d="M549.0 232.0 l2.2 2.2 l-2.2 2.2 l-2.2 -2.2z"/>
<path d="M550.8 229.7 l2.2 2.2 l-2.2 2.2 l-2.2 -2.2z"/>
<path d="M552.5 226.6 l2.2 2.2 l-2.2 2.2 l-2.2 -2.2z"/>
<path d="M554.2 222.6 l2.2 2.2 l-2.2 2.2 l-2.2 -2.2z"/>
<path d="M556.0 217.8 l2.2 2.2 l-2.2 2.2 l-2.2 -2.2z"/>
<path d="M557.8 212.3 l2.2 2.2 l-2.2 2.2 l-2.2 -2.2z"/>
<path d="M559.5 205.8 l2.2 2.2 l-2.2 2.2 l-2.2 -2.2z"/>
<path d="M561.2 198.4 l2.2 2.2 l-2.2 2.2 l-2.2 -2.2z"/>
<path d="M563.0 190.2 l2.2 2.2 l-2.2 2.2 l-2.2 -2.2z"/>
<path d="M564.8 182.9 l2.2 2.2 l-2.2 2.2 l-2.2 -2.2z"/>
<path d="M566.5 175.0 l2.2 2.2 l-2.2 2.2 l-2.2 -2.2z"/>
<path d="M568.2 162.1 l2.2 2.2 l-2.2 2.2 l-2.2 -2.2z"/>
<path d="M570.0 149.0 l2.2 2.2 l-2.2 2.2 l-2.2 -2.2z"/>
<path d="M571.8 139.7 l2.2 2.2 l-2.2 2.2 l-2.2 -2.2z"/>
<path d="M573.5 131.8 l2.2 2.2 l-2.2 2.2 l-2.2 -2.2z"/>
<path d="M575.2 124.5 l2.2 2.2 l-2.2 2.2 l-2.2 -2.2z"/>
<path d="M577.0 118.5 l2.2 2.2 l-2.2 2.2 l-2.2 -2.2z"/>
<path d="M578.8 117.7 l2.2 2.2 l-2.2 2.2 l-2.2 -2.2z"/>
<path d="M580.5 123.6 l2.2 2.2 l-2.2 2.2 l-2.2 -2.2z"/>
<path d="M582.2 130.6 l2.2 2.2 l-2.2 2.2 l-2.2 -2.2z"/>
<path d="M584.0 137.7 l2.2 2.2 l-2.2 2.2 l-2.2 -2.2z"/>
<path d="M585.8 145.0 l2.2 2.2 l-2.2 2.2 l-2.2 -2.2z"/>
<path d="M587.5 152.7 l2.2 2.2 l-2.2 2.2 l-2.2 -2.2z"/>
<path d="M589.2 161.1 l2.2 2.2 l-2.2 2.2 l-2.2 -2.2z"/>
<path d="M591.0 169.4 l2.2 2.2 l-2.2 2.2 l-2.2 -2.2z"/>
<path d="M592.8 176.8 l2.2 2.2 l-2.2 2.2 l-2.2 -2.2z"/>
<path d="M594.5 183.0 l2.2 2.2 l-2.2 2.2 l-2.2 -2.2z"/>
<path d="M596.2 188.6 l2.2 2.2 l-2.2 2.2 l-2.2 -2.2z"/>
<path d="M598.0 194.3 l2.2 2.2 l-2.2 2.2 l-2.2 -2.2z"/>
<path d="M599.8 199.2 l2.2 2.2 l-2.2 2.2 l-2.2 -2.2z"/>
<path d="M601.5 202.9 l2.2 2.2 l-2.2 2.2 l-2.2 -2.2z"/>
<path d="M603.2 206.0 l2.2 2.2 l-2.2 2.2 l-2.2 -2.2z"/>
<path d="M605.0 208.6 l2.2 2.2 l-2.2 2.2 l-2.2 -2.2z"/>
<path d="M606.8 210.6 l2.2 2.2 l-2.2 2.2 l-2.2 -2.2z"/>
<path d="M608.5 212.3 l2.2 2.2 l-2.2 2.2 l-2.2 -2.2z"/>
<path d="M610.2 213.7 l2.2 2.2 l-2.2 2.2 l-2.2 -2.2z"/>
<path d="M612.0 214.8 l2.2 2.2 l-2.2 2.2 l-2.2 -2.2z"/>
<path d="M613.8 215.6 l2.2 2.2 l-2.2 2.2 l-2.2 -2.2z"/>
<path d="M615.5 216.4 l2.2 2.2 l-2.2 2.2 l-2.2 -2.2z"/>
<path d="M617.2 217.0 l2.2 2.2 l-2.2 2.2 l-2.2 -2.2z"/>
<path d="M619.0 217.6 l2.2 2.2 l-2.2 2.2 l-2.2 -2.2z"/>
<path d="M620.8 218.1 l2.2 2.2 l-2.2 2.2 l-2.2 -2.2z"/>
<path d="M622.5 218.5 l2.2 2.2 l-2.2 2.2 l-2.2 -2.2z"/>
<path d="M624.2 218.8 l2.2 2.2 l-2.2 2.2 l-2.2 -2.2z"/>
<path d="M626.0 219.1 l2.2 2.2 l-2.2 2.2 l-2.2 -2.2z"/>
<path d="M627.8 219.3 l2.2 2.2 l-2.2 2.2 l-2.2 -2.2z"/>
<path d="M629.5 219.5 l2.2 2.2 l-2.2 2.2 l-2.2 -2.2z"/>
<path d="M631.2 219.6 l2.2 2.2 l-2.2 2.2 l-2.2 -2.2z"/>
<path d="M633.0 219.8 l2.2 2.2 l-2.2 2.2 l-2.2 -2.2z"/>
<path d="M634.8 220.0 l2.2 2.2 l-2.2 2.2 l-2.2 -2.2z"/>
<path d="M636.5 220.3 l2.2 2.2 l-2.2 2.2 l-2.2 -2.2z"/>
<path d="M638.2 220.6 l2.2 2.2 l-2.2 2.2 l-2.2 -2.2z"/>
<path d="M640.0 221.1 l2.2 2.2 l-2.2 2.2 l-2.2 -2.2z"/>
<path d="M641.8 221.6 l2.2 2.2 l-2.2 2.2 l-2.2 -2.2z"/>
<path d="M643.5 222.1 l2.2 2.2 l-2.2 2.2 l-2.2 -2.2z"/>
<path d="M645.2 222.7 l2.2 2.2 l-2.2 2.2 l-2.2 -2.2z"/>
<path d="M647.0 223.4 l2.2 2.2 l-2.2 2.2 l-2.2 -2.2z"/>
<path d="M648.8 224.1 l2.2 2.2 l-2.2 2.2 l-2.2 -2.2z"/>
<path d="M650.5 224.9 l2.2 2.2 l-2.2 2.2 l-2.2 -2.2z"/>
<path d="M652.2 225.9 l2.2 2.2 l-2.2 2.2 l-2.2 -2.2z"/>
<path d="M654.0 227.0 l2.2 2.2 l-2.2 2.2 l-2.2 -2.2z"/>
<path d="M655.8 228.5 l2.2 2.2 l-2.2 2.2 l-2.2 -2.2z"/>
<path d="M657.5 231.4 l2.2 2.2 l-2.2 2.2 l-2.2 -2.2z"/>
<path d="M659.2 236.0 l2.2 2.2 l-2.2 2.2 l-2.2 -2.2z"/>
<path d="M661.0 240.1 l2.2 2.2 l-2.2 2.2 l-2.2 -2.2z"/>
<path d="M662.8 244.0 l2.2 2.2 l-2.2 2.2 l-2.2 -2.2z"/>
<path d="M664.5 246.3 l2.2 2.2 l-2.2 2.2 l-2.2 -2.2z"/>
<path d="M666.2 247.7 l2.2 2.2 l-2.2 2.2 l-2.2 -2.2z"/>
<path d="M668.0 248.8 l2.2 2.2 l-2.2 2.2 l-2.2 -2.2z"/>
<path d="M669.8 249.4 l2.2 2.2 l-2.2 2.2 l-2.2 -2.2z"/>
<path d="M671.5 249.6 l2.2 2.2 l-2.2 2.2 l-2.2 -2.2z"/>
<path d="M673.2 249.7 l2.2 2.2 l-2.2 2.2 l-2.2 -2.2z"/>
</g>
</g>
<line x1="577.8" y1="110.5" x2="578.6" y2="153.5" stroke="#000" stroke-width="2.2" stroke-dasharray="5 3"/>
<rect x="488.9" y="79.0" width="186.0" height="174.6" fill="none" stroke="#000" stroke-width="1.5"/>
<line x1="528.5" y1="250.1" x2="528.5" y2="253.6" stroke="#000" stroke-width="1.3"/>
<line x1="582.0" y1="250.1" x2="582.0" y2="253.6" stroke="#000" stroke-width="1.3"/>
<line x1="635.7" y1="250.1" x2="635.7" y2="253.6" stroke="#000" stroke-width="1.3"/>
<line x1="501.7" y1="251.4" x2="501.7" y2="253.6" stroke="#000" stroke-width="1.3"/>
<line x1="555.3" y1="251.4" x2="555.3" y2="253.6" stroke="#000" stroke-width="1.3"/>
<line x1="608.8" y1="251.4" x2="608.8" y2="253.6" stroke="#000" stroke-width="1.3"/>
<line x1="662.4" y1="251.4" x2="662.4" y2="253.6" stroke="#000" stroke-width="1.3"/>
<text x="572.0" y="171.7" font-size="15.8" textLength="11.7" lengthAdjust="spacingAndGlyphs" text-anchor="start" >R</text>
<text x="639.4" y="217.3" font-size="15.8" textLength="10.0" lengthAdjust="spacingAndGlyphs" text-anchor="start" >S</text>
<text x="511.3" y="269.5" font-size="16.5" textLength="33.8" lengthAdjust="spacingAndGlyphs" text-anchor="start" >8352</text>
<text x="564.6" y="269.5" font-size="16.5" textLength="33.8" lengthAdjust="spacingAndGlyphs" text-anchor="start" >8364</text>
<text x="618.3" y="269.5" font-size="16.5" textLength="33.8" lengthAdjust="spacingAndGlyphs" text-anchor="start" >8376</text>
<text x="564.0" y="288.6" font-size="15.5" textLength="42.0" lengthAdjust="spacingAndGlyphs" text-anchor="start" >E (eV)</text>
<line x1="501" y1="87" x2="530.8" y2="87" stroke="#ff0000" stroke-width="1.9"/>
<line x1="501" y1="102.7" x2="530.8" y2="102.7" stroke="#00ff00" stroke-width="1.9"/>
<path d="M516 84.6 l2.4 2.4 l-2.4 2.4 l-2.4 -2.4z" fill="#ff0000"/>
<path d="M516 100.3 l2.4 2.4 l-2.4 2.4 l-2.4 -2.4z" fill="#00ff00"/>
<text x="533.6" y="90.6" font-size="12.0" textLength="101.4" lengthAdjust="spacingAndGlyphs" text-anchor="start" >ZnO:Er (Sapphire)</text>
<text x="533.6" y="106.6" font-size="12.0" textLength="89.0" lengthAdjust="spacingAndGlyphs" text-anchor="start" >ZnO:Er (Silicon)</text>
<rect x="373.5" y="2.6" width="308.1" height="440.3" fill="none" stroke="#000" stroke-width="2.55"/>
<line x1="377.1" y1="439.8" x2="377.1" y2="442.9" stroke="#000" stroke-width="2.2"/>
<line x1="421.2" y1="436.8" x2="421.2" y2="442.9" stroke="#000" stroke-width="2.3"/>
<line x1="465.3" y1="439.8" x2="465.3" y2="442.9" stroke="#000" stroke-width="2.2"/>
<line x1="509.4" y1="436.8" x2="509.4" y2="442.9" stroke="#000" stroke-width="2.3"/>
<line x1="553.5" y1="439.8" x2="553.5" y2="442.9" stroke="#000" stroke-width="2.2"/>
<line x1="597.6" y1="436.8" x2="597.6" y2="442.9" stroke="#000" stroke-width="2.3"/>
<line x1="641.7" y1="439.8" x2="641.7" y2="442.9" stroke="#000" stroke-width="2.2"/>
<text x="398.4" y="466.0" font-size="22.0" textLength="45.6" lengthAdjust="spacingAndGlyphs" text-anchor="start" >8352</text>
<text x="486.6" y="466.0" font-size="22.0" textLength="45.6" lengthAdjust="spacingAndGlyphs" text-anchor="start" >8376</text>
<text x="574.8" y="466.0" font-size="22.0" textLength="45.6" lengthAdjust="spacingAndGlyphs" text-anchor="start" >8400</text>
<text x="437.0" y="489.6" font-size="20.0" textLength="189.0" lengthAdjust="spacingAndGlyphs" text-anchor="start" >Photon Energy (eV)</text>
<text x="375.8" y="21.6" font-size="19" textLength="188" lengthAdjust="spacingAndGlyphs">(b) Er <tspan font-style="italic">L</tspan><tspan font-size="14" dy="6.8">3</tspan><tspan dy="-6.8">-edge XANES</tspan></text>
<line x1="485" y1="38.4" x2="525.6" y2="38.4" stroke="#ff0000" stroke-width="2.4"/>
<line x1="485" y1="60" x2="525.6" y2="60" stroke="#00ff00" stroke-width="2.4"/>
<text x="529.0" y="44.4" font-size="16.6" textLength="140.6" lengthAdjust="spacingAndGlyphs" text-anchor="start" >ZnO:Er (Sapphire)</text>
<text x="529.0" y="66.0" font-size="16.6" textLength="123.6" lengthAdjust="spacingAndGlyphs" text-anchor="start" >ZnO:Er (Silicon)</text>
<text transform="translate(362,384.0) rotate(-90)" x="0" y="0" font-size="22" textLength="115.8" lengthAdjust="spacingAndGlyphs">Normalized</text>
<text transform="translate(362,262.0) rotate(-90)" x="0" y="0" font-size="22" textLength="82.0" lengthAdjust="spacingAndGlyphs">Intensity</text>
<text transform="translate(362,175.0) rotate(-90)" x="0" y="0" font-size="22" textLength="46.2" lengthAdjust="spacingAndGlyphs">(arb.</text>
<text transform="translate(362,122.5) rotate(-90)" x="0" y="0" font-size="22" textLength="46.5" lengthAdjust="spacingAndGlyphs">unit)</text>
</svg>
</body></html>
